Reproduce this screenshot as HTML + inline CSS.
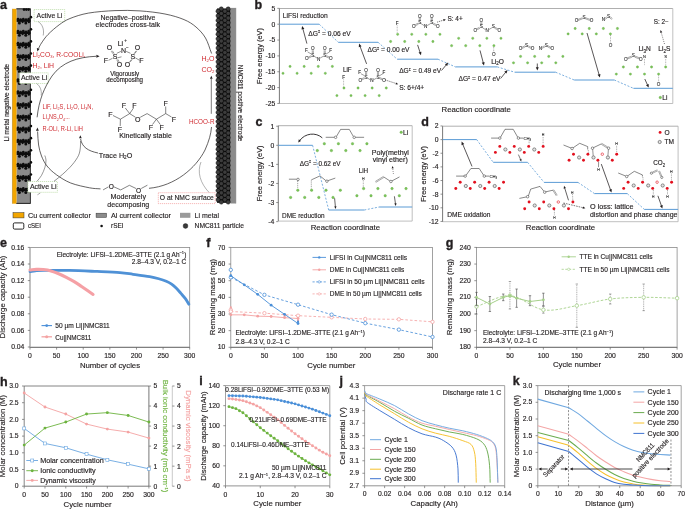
<!DOCTYPE html>
<html><head><meta charset="utf-8"><style>
html,body{margin:0;padding:0;background:#fff;}
svg{display:block;will-change:transform;}
text{font-family:"Liberation Sans", sans-serif;}
</style></head><body>
<svg width="685" height="509" viewBox="0 0 685 509">
<rect width="685" height="509" fill="#fff"/>
<rect x="30.00" y="247.40" width="159.70" height="99.90" fill="none" stroke="#8a8a8a" stroke-width="0.8"/>
<line x1="30.00" y1="347.30" x2="189.70" y2="347.30" stroke="#666" stroke-width="0.8"/>
<line x1="30.00" y1="247.40" x2="30.00" y2="347.30" stroke="#b5b5b5" stroke-width="1.1"/>
<line x1="27.80" y1="247.40" x2="30.00" y2="247.40" stroke="#666" stroke-width="0.7"/>
<text x="24.40" y="249.50" font-size="6.8" text-anchor="end" fill="#231f20" stroke="#231f20" stroke-width="0.15">0.16</text>
<line x1="27.80" y1="264.00" x2="30.00" y2="264.00" stroke="#666" stroke-width="0.7"/>
<text x="24.40" y="266.10" font-size="6.8" text-anchor="end" fill="#231f20" stroke="#231f20" stroke-width="0.15">0.14</text>
<line x1="27.80" y1="280.60" x2="30.00" y2="280.60" stroke="#666" stroke-width="0.7"/>
<text x="24.40" y="282.70" font-size="6.8" text-anchor="end" fill="#231f20" stroke="#231f20" stroke-width="0.15">0.12</text>
<line x1="27.80" y1="297.20" x2="30.00" y2="297.20" stroke="#666" stroke-width="0.7"/>
<text x="24.40" y="299.30" font-size="6.8" text-anchor="end" fill="#231f20" stroke="#231f20" stroke-width="0.15">0.10</text>
<line x1="27.80" y1="313.80" x2="30.00" y2="313.80" stroke="#666" stroke-width="0.7"/>
<text x="24.40" y="315.90" font-size="6.8" text-anchor="end" fill="#231f20" stroke="#231f20" stroke-width="0.15">0.08</text>
<line x1="27.80" y1="330.40" x2="30.00" y2="330.40" stroke="#666" stroke-width="0.7"/>
<text x="24.40" y="332.50" font-size="6.8" text-anchor="end" fill="#231f20" stroke="#231f20" stroke-width="0.15">0.06</text>
<line x1="27.80" y1="347.00" x2="30.00" y2="347.00" stroke="#666" stroke-width="0.7"/>
<text x="24.40" y="349.10" font-size="6.8" text-anchor="end" fill="#231f20" stroke="#231f20" stroke-width="0.15">0.04</text>
<line x1="30.00" y1="347.30" x2="30.00" y2="349.60" stroke="#666" stroke-width="0.7"/>
<text x="30.00" y="357.90" font-size="6.8" text-anchor="middle" fill="#231f20" stroke="#231f20" stroke-width="0.15">0</text>
<line x1="56.62" y1="347.30" x2="56.62" y2="349.60" stroke="#666" stroke-width="0.7"/>
<text x="56.62" y="357.90" font-size="6.8" text-anchor="middle" fill="#231f20" stroke="#231f20" stroke-width="0.15">50</text>
<line x1="83.23" y1="347.30" x2="83.23" y2="349.60" stroke="#666" stroke-width="0.7"/>
<text x="83.23" y="357.90" font-size="6.8" text-anchor="middle" fill="#231f20" stroke="#231f20" stroke-width="0.15">100</text>
<line x1="109.85" y1="347.30" x2="109.85" y2="349.60" stroke="#666" stroke-width="0.7"/>
<text x="109.85" y="357.90" font-size="6.8" text-anchor="middle" fill="#231f20" stroke="#231f20" stroke-width="0.15">150</text>
<line x1="136.47" y1="347.30" x2="136.47" y2="349.60" stroke="#666" stroke-width="0.7"/>
<text x="136.47" y="357.90" font-size="6.8" text-anchor="middle" fill="#231f20" stroke="#231f20" stroke-width="0.15">200</text>
<line x1="163.08" y1="347.30" x2="163.08" y2="349.60" stroke="#666" stroke-width="0.7"/>
<text x="163.08" y="357.90" font-size="6.8" text-anchor="middle" fill="#231f20" stroke="#231f20" stroke-width="0.15">250</text>
<line x1="189.70" y1="347.30" x2="189.70" y2="349.60" stroke="#666" stroke-width="0.7"/>
<text x="189.70" y="357.90" font-size="6.8" text-anchor="middle" fill="#231f20" stroke="#231f20" stroke-width="0.15">300</text>
<text x="0.00" y="247.40" font-size="12.5" fill="#231f20" font-weight="bold" stroke="#231f20" stroke-width="0.35">e</text>
<text x="5.30" y="297.00" font-size="7.8" text-anchor="middle" fill="#231f20" stroke="#231f20" stroke-width="0.15" transform="rotate(-90 5.30 297.00)">Discharge capacity (Ah)</text>
<text x="110.00" y="368.20" font-size="7.8" text-anchor="middle" fill="#231f20" stroke="#231f20" stroke-width="0.15">Number of cycles</text>
<path d="M30.00,271.55 C31.77,271.30 33.11,271.00 35.32,270.81 C37.54,270.61 37.63,270.46 43.31,270.39 C48.99,270.32 60.43,270.21 69.39,270.39 C78.35,270.57 88.65,271.10 97.07,271.47 C105.50,271.84 113.98,272.16 119.96,272.63 C125.95,273.10 128.06,273.61 133.01,274.29 C137.95,274.97 145.31,275.95 149.62,276.70 C153.92,277.45 156.05,278.01 158.82,278.77 C161.60,279.53 164.15,280.38 166.28,281.26 C168.41,282.15 169.91,282.92 171.60,284.09 C173.29,285.25 174.84,286.69 176.39,288.24 C177.94,289.79 179.45,291.68 180.92,293.38 C182.38,295.08 183.84,296.65 185.18,298.44 C186.51,300.24 187.66,302.26 188.90,304.17" stroke="#4f91d6" stroke-width="2.8" fill="none" stroke-linecap="round"/>
<path d="M30.00,269.98 C32.13,269.78 34.17,269.46 36.39,269.39 C38.61,269.33 40.87,269.31 43.31,269.56 C45.75,269.81 48.37,270.16 51.03,270.89 C53.69,271.62 56.73,272.89 59.28,273.96 C61.82,275.03 63.82,276.01 66.31,277.28 C68.79,278.55 71.64,280.06 74.18,281.60 C76.73,283.13 79.37,285.00 81.58,286.49 C83.80,287.99 85.58,289.23 87.49,290.56 C89.41,291.89 91.22,293.16 93.08,294.46" stroke="#f5a0a5" stroke-width="3.1" fill="none" stroke-linecap="round"/>
<line x1="41.50" y1="325.60" x2="52.00" y2="325.60" stroke="#4a8fd8" stroke-width="1.1"/>
<circle cx="46.70" cy="325.60" r="1.4" fill="#4a8fd8"/>
<text x="55.30" y="327.90" font-size="7.0" fill="#231f20" stroke="#231f20" stroke-width="0.15" textLength="54.50" lengthAdjust="spacingAndGlyphs">50 µm Li||NMC811</text>
<line x1="41.50" y1="336.80" x2="52.00" y2="336.80" stroke="#f4a3a3" stroke-width="1.3"/>
<circle cx="46.70" cy="336.80" r="1.5" fill="#f4a3a3"/>
<text x="55.30" y="339.50" font-size="7.0" fill="#231f20" stroke="#231f20" stroke-width="0.15" textLength="36.00" lengthAdjust="spacingAndGlyphs">Cu||NMC811</text>
<text x="186.30" y="256.60" font-size="7.0" text-anchor="end" fill="#231f20" stroke="#231f20" stroke-width="0.15" textLength="129.60" lengthAdjust="spacingAndGlyphs">Electrolyte: LiFSI–1.2DME–3TTE (2.1 g Ah<tspan dy="-2.3" font-size="4.4">−1</tspan><tspan dy="2.3">)</tspan></text>
<text x="186.30" y="264.20" font-size="7.0" text-anchor="end" fill="#231f20" stroke="#231f20" stroke-width="0.15" textLength="54.50" lengthAdjust="spacingAndGlyphs">2.8–4.3 V, 0.2–1 C</text>
<rect x="230.80" y="247.40" width="201.70" height="99.90" fill="none" stroke="#8a8a8a" stroke-width="0.8"/>
<line x1="230.80" y1="347.30" x2="432.50" y2="347.30" stroke="#666" stroke-width="0.8"/>
<line x1="228.60" y1="247.40" x2="230.80" y2="247.40" stroke="#666" stroke-width="0.7"/>
<text x="225.20" y="249.50" font-size="6.8" text-anchor="end" fill="#231f20" stroke="#231f20" stroke-width="0.15">70</text>
<line x1="228.60" y1="264.05" x2="230.80" y2="264.05" stroke="#666" stroke-width="0.7"/>
<text x="225.20" y="266.15" font-size="6.8" text-anchor="end" fill="#231f20" stroke="#231f20" stroke-width="0.15">60</text>
<line x1="228.60" y1="280.70" x2="230.80" y2="280.70" stroke="#666" stroke-width="0.7"/>
<text x="225.20" y="282.80" font-size="6.8" text-anchor="end" fill="#231f20" stroke="#231f20" stroke-width="0.15">50</text>
<line x1="228.60" y1="297.35" x2="230.80" y2="297.35" stroke="#666" stroke-width="0.7"/>
<text x="225.20" y="299.45" font-size="6.8" text-anchor="end" fill="#231f20" stroke="#231f20" stroke-width="0.15">40</text>
<line x1="228.60" y1="314.00" x2="230.80" y2="314.00" stroke="#666" stroke-width="0.7"/>
<text x="225.20" y="316.10" font-size="6.8" text-anchor="end" fill="#231f20" stroke="#231f20" stroke-width="0.15">30</text>
<line x1="228.60" y1="330.65" x2="230.80" y2="330.65" stroke="#666" stroke-width="0.7"/>
<text x="225.20" y="332.75" font-size="6.8" text-anchor="end" fill="#231f20" stroke="#231f20" stroke-width="0.15">20</text>
<line x1="228.60" y1="347.30" x2="230.80" y2="347.30" stroke="#666" stroke-width="0.7"/>
<text x="225.20" y="349.40" font-size="6.8" text-anchor="end" fill="#231f20" stroke="#231f20" stroke-width="0.15">10</text>
<line x1="230.80" y1="347.30" x2="230.80" y2="349.60" stroke="#666" stroke-width="0.7"/>
<text x="230.80" y="357.90" font-size="6.8" text-anchor="middle" fill="#231f20" stroke="#231f20" stroke-width="0.15">0</text>
<line x1="264.42" y1="347.30" x2="264.42" y2="349.60" stroke="#666" stroke-width="0.7"/>
<text x="264.42" y="357.90" font-size="6.8" text-anchor="middle" fill="#231f20" stroke="#231f20" stroke-width="0.15">50</text>
<line x1="298.03" y1="347.30" x2="298.03" y2="349.60" stroke="#666" stroke-width="0.7"/>
<text x="298.03" y="357.90" font-size="6.8" text-anchor="middle" fill="#231f20" stroke="#231f20" stroke-width="0.15">100</text>
<line x1="331.65" y1="347.30" x2="331.65" y2="349.60" stroke="#666" stroke-width="0.7"/>
<text x="331.65" y="357.90" font-size="6.8" text-anchor="middle" fill="#231f20" stroke="#231f20" stroke-width="0.15">150</text>
<line x1="365.27" y1="347.30" x2="365.27" y2="349.60" stroke="#666" stroke-width="0.7"/>
<text x="365.27" y="357.90" font-size="6.8" text-anchor="middle" fill="#231f20" stroke="#231f20" stroke-width="0.15">200</text>
<line x1="398.88" y1="347.30" x2="398.88" y2="349.60" stroke="#666" stroke-width="0.7"/>
<text x="398.88" y="357.90" font-size="6.8" text-anchor="middle" fill="#231f20" stroke="#231f20" stroke-width="0.15">250</text>
<line x1="432.50" y1="347.30" x2="432.50" y2="349.60" stroke="#666" stroke-width="0.7"/>
<text x="432.50" y="357.90" font-size="6.8" text-anchor="middle" fill="#231f20" stroke="#231f20" stroke-width="0.15">300</text>
<text x="206.30" y="247.30" font-size="12.5" fill="#231f20" font-weight="bold" stroke="#231f20" stroke-width="0.35">f</text>
<text x="214.50" y="297.00" font-size="7.8" text-anchor="middle" fill="#231f20" stroke="#231f20" stroke-width="0.15" transform="rotate(-90 214.50 297.00)">Remaining mass (mg)</text>
<text x="331.40" y="367.70" font-size="7.8" text-anchor="middle" fill="#231f20" stroke="#231f20" stroke-width="0.15">Cycle number</text>
<path d="M230.80,311.50 L264.42,313.17 L298.03,315.67 L331.65,317.33 L365.27,319.00 L398.88,319.33 L432.50,321.83" stroke="#f4a3a3" stroke-width="0.85" fill="none" stroke-dasharray="2.6,2"/>
<circle cx="230.80" cy="309.84" r="1.7" fill="#fff" stroke="#f4a3a3" stroke-width="0.8"/>
<circle cx="230.80" cy="311.50" r="1.7" fill="#fff" stroke="#f4a3a3" stroke-width="0.8"/>
<circle cx="264.42" cy="313.17" r="1.7" fill="#fff" stroke="#f4a3a3" stroke-width="0.8"/>
<circle cx="298.03" cy="315.67" r="1.7" fill="#fff" stroke="#f4a3a3" stroke-width="0.8"/>
<circle cx="331.65" cy="317.33" r="1.7" fill="#fff" stroke="#f4a3a3" stroke-width="0.8"/>
<circle cx="365.27" cy="319.00" r="1.7" fill="#fff" stroke="#f4a3a3" stroke-width="0.8"/>
<circle cx="398.88" cy="319.33" r="1.7" fill="#fff" stroke="#f4a3a3" stroke-width="0.8"/>
<circle cx="432.50" cy="321.83" r="1.7" fill="#fff" stroke="#f4a3a3" stroke-width="0.8"/>
<path d="M230.80,314.83 L244.25,314.83 L257.69,316.16 L271.14,316.50 L284.59,317.66 L298.03,318.50" stroke="#f4a3a3" stroke-width="0.9" fill="none"/>
<circle cx="230.80" cy="314.83" r="1.4" fill="#f4a3a3"/>
<circle cx="244.25" cy="314.83" r="1.4" fill="#f4a3a3"/>
<circle cx="257.69" cy="316.16" r="1.4" fill="#f4a3a3"/>
<circle cx="271.14" cy="316.50" r="1.4" fill="#f4a3a3"/>
<circle cx="284.59" cy="317.66" r="1.4" fill="#f4a3a3"/>
<circle cx="298.03" cy="318.50" r="1.4" fill="#f4a3a3"/>
<circle cx="230.80" cy="307.34" r="1.1" fill="#f4a3a3"/>
<circle cx="284.59" cy="316.00" r="1.1" fill="#f4a3a3"/>
<circle cx="298.03" cy="320.33" r="1.1" fill="#f4a3a3"/>
<path d="M230.80,277.37 L264.42,294.85 L298.03,304.68 L331.65,314.67 L365.27,323.16 L398.88,329.65 L432.50,336.98" stroke="#4a8fd8" stroke-width="0.85" fill="none" stroke-dasharray="2.6,2"/>
<circle cx="230.80" cy="277.37" r="1.7" fill="#fff" stroke="#4a8fd8" stroke-width="0.8"/>
<circle cx="264.42" cy="294.85" r="1.7" fill="#fff" stroke="#4a8fd8" stroke-width="0.8"/>
<circle cx="298.03" cy="304.68" r="1.7" fill="#fff" stroke="#4a8fd8" stroke-width="0.8"/>
<circle cx="331.65" cy="314.67" r="1.7" fill="#fff" stroke="#4a8fd8" stroke-width="0.8"/>
<circle cx="365.27" cy="323.16" r="1.7" fill="#fff" stroke="#4a8fd8" stroke-width="0.8"/>
<circle cx="398.88" cy="329.65" r="1.7" fill="#fff" stroke="#4a8fd8" stroke-width="0.8"/>
<circle cx="432.50" cy="336.98" r="1.7" fill="#fff" stroke="#4a8fd8" stroke-width="0.8"/>
<circle cx="230.80" cy="269.88" r="1.7" fill="#fff" stroke="#4a8fd8" stroke-width="0.8"/>
<path d="M230.80,275.70 L244.25,284.86 L257.69,294.35 L271.14,305.18 L284.59,314.33 L298.03,323.49" stroke="#4a8fd8" stroke-width="0.9" fill="none"/>
<circle cx="230.80" cy="275.70" r="1.4" fill="#4a8fd8"/>
<circle cx="244.25" cy="284.86" r="1.4" fill="#4a8fd8"/>
<circle cx="257.69" cy="294.35" r="1.4" fill="#4a8fd8"/>
<circle cx="271.14" cy="305.18" r="1.4" fill="#4a8fd8"/>
<circle cx="284.59" cy="314.33" r="1.4" fill="#4a8fd8"/>
<circle cx="298.03" cy="323.49" r="1.4" fill="#4a8fd8"/>
<circle cx="298.03" cy="321.49" r="1.1" fill="#4a8fd8"/>
<line x1="312.50" y1="257.40" x2="326.00" y2="257.40" stroke="#4a8fd8" stroke-width="0.9"/>
<circle cx="319.25" cy="257.40" r="1.2" fill="#4a8fd8"/>
<text x="329.80" y="259.70" font-size="7.0" fill="#231f20" stroke="#231f20" stroke-width="0.15" textLength="77.20" lengthAdjust="spacingAndGlyphs">LiFSI in Cu||NMC811 cells</text>
<line x1="312.50" y1="269.80" x2="326.00" y2="269.80" stroke="#f4a3a3" stroke-width="0.9"/>
<circle cx="319.25" cy="269.80" r="1.2" fill="#f4a3a3"/>
<text x="329.80" y="272.10" font-size="7.0" fill="#231f20" stroke="#231f20" stroke-width="0.15" textLength="74.50" lengthAdjust="spacingAndGlyphs">DME in Cu||NMC811 cells</text>
<line x1="312.50" y1="281.90" x2="326.00" y2="281.90" stroke="#4a8fd8" stroke-width="0.8" stroke-dasharray="2.2,1.5"/>
<circle cx="319.25" cy="281.90" r="1.2" fill="#fff" stroke="#4a8fd8" stroke-width="0.6"/>
<text x="329.80" y="284.20" font-size="7.0" fill="#231f20" stroke="#231f20" stroke-width="0.15" textLength="94.70" lengthAdjust="spacingAndGlyphs">LiFSI in 50 µm Li||NMC811 cells</text>
<line x1="312.50" y1="293.90" x2="326.00" y2="293.90" stroke="#f4a3a3" stroke-width="0.8" stroke-dasharray="2.2,1.5"/>
<circle cx="319.25" cy="293.90" r="1.2" fill="#fff" stroke="#f4a3a3" stroke-width="0.6"/>
<text x="329.80" y="296.20" font-size="7.0" fill="#231f20" stroke="#231f20" stroke-width="0.15" textLength="92.00" lengthAdjust="spacingAndGlyphs">DME in 50 µm Li||NMC811 cells</text>
<text x="235.40" y="335.10" font-size="7.0" fill="#231f20" stroke="#231f20" stroke-width="0.15" textLength="129.60" lengthAdjust="spacingAndGlyphs">Electrolyte: LiFSI–1.2DME–3TTE (2.1 g Ah<tspan dy="-2.3" font-size="4.4">−1</tspan><tspan dy="2.3">)</tspan></text>
<text x="235.40" y="343.50" font-size="7.0" fill="#231f20" stroke="#231f20" stroke-width="0.15" textLength="54.50" lengthAdjust="spacingAndGlyphs">2.8–4.3 V, 0.2–1 C</text>
<rect x="476.50" y="247.40" width="200.60" height="99.90" fill="none" stroke="#8a8a8a" stroke-width="0.8"/>
<line x1="476.50" y1="347.30" x2="677.10" y2="347.30" stroke="#666" stroke-width="0.8"/>
<line x1="474.30" y1="247.40" x2="476.50" y2="247.40" stroke="#666" stroke-width="0.7"/>
<text x="470.90" y="249.50" font-size="6.8" text-anchor="end" fill="#231f20" stroke="#231f20" stroke-width="0.15">240</text>
<line x1="474.30" y1="264.05" x2="476.50" y2="264.05" stroke="#666" stroke-width="0.7"/>
<text x="470.90" y="266.15" font-size="6.8" text-anchor="end" fill="#231f20" stroke="#231f20" stroke-width="0.15">230</text>
<line x1="474.30" y1="280.70" x2="476.50" y2="280.70" stroke="#666" stroke-width="0.7"/>
<text x="470.90" y="282.80" font-size="6.8" text-anchor="end" fill="#231f20" stroke="#231f20" stroke-width="0.15">220</text>
<line x1="474.30" y1="297.35" x2="476.50" y2="297.35" stroke="#666" stroke-width="0.7"/>
<text x="470.90" y="299.45" font-size="6.8" text-anchor="end" fill="#231f20" stroke="#231f20" stroke-width="0.15">210</text>
<line x1="474.30" y1="314.00" x2="476.50" y2="314.00" stroke="#666" stroke-width="0.7"/>
<text x="470.90" y="316.10" font-size="6.8" text-anchor="end" fill="#231f20" stroke="#231f20" stroke-width="0.15">200</text>
<line x1="474.30" y1="330.65" x2="476.50" y2="330.65" stroke="#666" stroke-width="0.7"/>
<text x="470.90" y="332.75" font-size="6.8" text-anchor="end" fill="#231f20" stroke="#231f20" stroke-width="0.15">190</text>
<line x1="474.30" y1="347.30" x2="476.50" y2="347.30" stroke="#666" stroke-width="0.7"/>
<text x="470.90" y="349.40" font-size="6.8" text-anchor="end" fill="#231f20" stroke="#231f20" stroke-width="0.15">180</text>
<line x1="476.50" y1="347.30" x2="476.50" y2="349.60" stroke="#666" stroke-width="0.7"/>
<text x="476.50" y="357.90" font-size="6.8" text-anchor="middle" fill="#231f20" stroke="#231f20" stroke-width="0.15">0</text>
<line x1="509.93" y1="347.30" x2="509.93" y2="349.60" stroke="#666" stroke-width="0.7"/>
<text x="509.93" y="357.90" font-size="6.8" text-anchor="middle" fill="#231f20" stroke="#231f20" stroke-width="0.15">50</text>
<line x1="543.37" y1="347.30" x2="543.37" y2="349.60" stroke="#666" stroke-width="0.7"/>
<text x="543.37" y="357.90" font-size="6.8" text-anchor="middle" fill="#231f20" stroke="#231f20" stroke-width="0.15">100</text>
<line x1="576.80" y1="347.30" x2="576.80" y2="349.60" stroke="#666" stroke-width="0.7"/>
<text x="576.80" y="357.90" font-size="6.8" text-anchor="middle" fill="#231f20" stroke="#231f20" stroke-width="0.15">150</text>
<line x1="610.23" y1="347.30" x2="610.23" y2="349.60" stroke="#666" stroke-width="0.7"/>
<text x="610.23" y="357.90" font-size="6.8" text-anchor="middle" fill="#231f20" stroke="#231f20" stroke-width="0.15">200</text>
<line x1="643.67" y1="347.30" x2="643.67" y2="349.60" stroke="#666" stroke-width="0.7"/>
<text x="643.67" y="357.90" font-size="6.8" text-anchor="middle" fill="#231f20" stroke="#231f20" stroke-width="0.15">250</text>
<line x1="677.10" y1="347.30" x2="677.10" y2="349.60" stroke="#666" stroke-width="0.7"/>
<text x="677.10" y="357.90" font-size="6.8" text-anchor="middle" fill="#231f20" stroke="#231f20" stroke-width="0.15">300</text>
<text x="445.80" y="246.80" font-size="12.5" fill="#231f20" font-weight="bold" stroke="#231f20" stroke-width="0.35">g</text>
<text x="451.50" y="297.00" font-size="7.8" text-anchor="middle" fill="#231f20" stroke="#231f20" stroke-width="0.15" transform="rotate(-90 451.50 297.00)">Remaining mass (mg)</text>
<text x="577.00" y="367.30" font-size="7.8" text-anchor="middle" fill="#231f20" stroke="#231f20" stroke-width="0.15">Cycle number</text>
<line x1="476.50" y1="314.00" x2="476.50" y2="299.01" stroke="#555" stroke-width="0.5" stroke-dasharray="1,0.8"/>
<line x1="475.30" y1="314.00" x2="477.70" y2="314.00" stroke="#555" stroke-width="0.5"/>
<line x1="475.30" y1="299.01" x2="477.70" y2="299.01" stroke="#555" stroke-width="0.5"/>
<line x1="509.93" y1="309.00" x2="509.93" y2="281.53" stroke="#555" stroke-width="0.5" stroke-dasharray="1,0.8"/>
<line x1="508.73" y1="309.00" x2="511.13" y2="309.00" stroke="#555" stroke-width="0.5"/>
<line x1="508.73" y1="281.53" x2="511.13" y2="281.53" stroke="#555" stroke-width="0.5"/>
<line x1="543.37" y1="313.17" x2="543.37" y2="306.51" stroke="#555" stroke-width="0.5" stroke-dasharray="1,0.8"/>
<line x1="542.17" y1="313.17" x2="544.57" y2="313.17" stroke="#555" stroke-width="0.5"/>
<line x1="542.17" y1="306.51" x2="544.57" y2="306.51" stroke="#555" stroke-width="0.5"/>
<line x1="576.80" y1="327.32" x2="576.80" y2="284.03" stroke="#555" stroke-width="0.5" stroke-dasharray="1,0.8"/>
<line x1="575.60" y1="327.32" x2="578.00" y2="327.32" stroke="#555" stroke-width="0.5"/>
<line x1="575.60" y1="284.03" x2="578.00" y2="284.03" stroke="#555" stroke-width="0.5"/>
<line x1="610.23" y1="304.01" x2="610.23" y2="294.02" stroke="#555" stroke-width="0.5" stroke-dasharray="1,0.8"/>
<line x1="609.03" y1="304.01" x2="611.43" y2="304.01" stroke="#555" stroke-width="0.5"/>
<line x1="609.03" y1="294.02" x2="611.43" y2="294.02" stroke="#555" stroke-width="0.5"/>
<line x1="643.67" y1="310.67" x2="643.67" y2="284.03" stroke="#555" stroke-width="0.5" stroke-dasharray="1,0.8"/>
<line x1="642.47" y1="310.67" x2="644.87" y2="310.67" stroke="#555" stroke-width="0.5"/>
<line x1="642.47" y1="284.03" x2="644.87" y2="284.03" stroke="#555" stroke-width="0.5"/>
<path d="M476.50,306.51 C487.64,302.90 498.79,295.13 509.93,295.69 C521.08,296.24 532.22,308.17 543.37,309.84 C554.51,311.50 565.66,307.48 576.80,305.68 C587.94,303.87 599.09,300.40 610.23,299.01 C621.38,297.63 632.52,297.49 643.67,297.35 C654.81,297.21 665.96,297.91 677.10,298.18" stroke="#a6d08a" stroke-width="0.9" fill="none" stroke-dasharray="2.6,1.6"/>
<circle cx="476.50" cy="306.51" r="1.75" fill="#fff" stroke="#a6d08a" stroke-width="0.8"/>
<circle cx="509.93" cy="295.69" r="1.75" fill="#fff" stroke="#a6d08a" stroke-width="0.8"/>
<circle cx="543.37" cy="309.84" r="1.75" fill="#fff" stroke="#a6d08a" stroke-width="0.8"/>
<circle cx="576.80" cy="305.68" r="1.75" fill="#fff" stroke="#a6d08a" stroke-width="0.8"/>
<circle cx="610.23" cy="299.01" r="1.75" fill="#fff" stroke="#a6d08a" stroke-width="0.8"/>
<circle cx="643.67" cy="297.35" r="1.75" fill="#fff" stroke="#a6d08a" stroke-width="0.8"/>
<circle cx="677.10" cy="298.18" r="1.75" fill="#fff" stroke="#a6d08a" stroke-width="0.8"/>
<line x1="476.50" y1="305.68" x2="476.50" y2="292.36" stroke="#444" stroke-width="0.6"/>
<line x1="475.30" y1="305.68" x2="477.70" y2="305.68" stroke="#444" stroke-width="0.6"/>
<line x1="475.30" y1="292.36" x2="477.70" y2="292.36" stroke="#444" stroke-width="0.6"/>
<line x1="489.87" y1="311.50" x2="489.87" y2="296.52" stroke="#444" stroke-width="0.6"/>
<line x1="488.67" y1="311.50" x2="491.07" y2="311.50" stroke="#444" stroke-width="0.6"/>
<line x1="488.67" y1="296.52" x2="491.07" y2="296.52" stroke="#444" stroke-width="0.6"/>
<line x1="503.25" y1="300.68" x2="503.25" y2="294.02" stroke="#444" stroke-width="0.6"/>
<line x1="502.05" y1="300.68" x2="504.45" y2="300.68" stroke="#444" stroke-width="0.6"/>
<line x1="502.05" y1="294.02" x2="504.45" y2="294.02" stroke="#444" stroke-width="0.6"/>
<line x1="516.62" y1="307.34" x2="516.62" y2="289.02" stroke="#444" stroke-width="0.6"/>
<line x1="515.42" y1="307.34" x2="517.82" y2="307.34" stroke="#444" stroke-width="0.6"/>
<line x1="515.42" y1="289.02" x2="517.82" y2="289.02" stroke="#444" stroke-width="0.6"/>
<line x1="529.99" y1="305.68" x2="529.99" y2="295.69" stroke="#444" stroke-width="0.6"/>
<line x1="528.79" y1="305.68" x2="531.19" y2="305.68" stroke="#444" stroke-width="0.6"/>
<line x1="528.79" y1="295.69" x2="531.19" y2="295.69" stroke="#444" stroke-width="0.6"/>
<line x1="543.37" y1="305.68" x2="543.37" y2="293.19" stroke="#444" stroke-width="0.6"/>
<line x1="542.17" y1="305.68" x2="544.57" y2="305.68" stroke="#444" stroke-width="0.6"/>
<line x1="542.17" y1="293.19" x2="544.57" y2="293.19" stroke="#444" stroke-width="0.6"/>
<path d="M476.50,297.35 L489.87,304.01 L503.25,297.35 L509.93,295.69 L516.62,298.18 L529.99,301.51 L543.37,299.85" stroke="#a6d08a" stroke-width="1.0" fill="none"/>
<circle cx="476.50" cy="297.35" r="1.4" fill="#a6d08a"/>
<circle cx="489.87" cy="304.01" r="1.4" fill="#a6d08a"/>
<circle cx="503.25" cy="297.35" r="1.4" fill="#a6d08a"/>
<circle cx="509.93" cy="295.69" r="1.4" fill="#a6d08a"/>
<circle cx="516.62" cy="298.18" r="1.4" fill="#a6d08a"/>
<circle cx="529.99" cy="301.51" r="1.4" fill="#a6d08a"/>
<circle cx="543.37" cy="299.85" r="1.4" fill="#a6d08a"/>
<line x1="561.60" y1="256.80" x2="575.90" y2="256.80" stroke="#a6d08a" stroke-width="0.9"/>
<circle cx="568.70" cy="256.80" r="1.2" fill="#a6d08a"/>
<text x="579.50" y="259.10" font-size="7.0" fill="#231f20" stroke="#231f20" stroke-width="0.15" textLength="73.00" lengthAdjust="spacingAndGlyphs">TTE in Cu||NMC811 cells</text>
<line x1="561.60" y1="269.30" x2="575.90" y2="269.30" stroke="#a6d08a" stroke-width="0.8" stroke-dasharray="2.2,1.5"/>
<circle cx="568.70" cy="269.30" r="1.2" fill="#fff" stroke="#a6d08a" stroke-width="0.6"/>
<text x="579.50" y="271.60" font-size="7.0" fill="#231f20" stroke="#231f20" stroke-width="0.15" textLength="90.00" lengthAdjust="spacingAndGlyphs">TTE in 50 µm Li||NMC811 cells</text>
<text x="482.90" y="335.20" font-size="7.0" fill="#231f20" stroke="#231f20" stroke-width="0.15" textLength="130.50" lengthAdjust="spacingAndGlyphs">Electrolyte: LiFSI–1.2DME–3TTE (2.1 g Ah<tspan dy="-2.3" font-size="4.4">−1</tspan><tspan dy="2.3">)</tspan></text>
<text x="482.90" y="343.30" font-size="7.0" fill="#231f20" stroke="#231f20" stroke-width="0.15" textLength="54.50" lengthAdjust="spacingAndGlyphs">2.8–4.3 V, 0.2–1 C</text>
<line x1="24.20" y1="386.00" x2="148.90" y2="386.00" stroke="#666" stroke-width="0.8"/>
<line x1="24.20" y1="386.00" x2="24.20" y2="486.20" stroke="#666" stroke-width="0.8"/>
<line x1="24.20" y1="486.20" x2="148.90" y2="486.20" stroke="#555" stroke-width="0.8"/>
<line x1="148.90" y1="386.00" x2="148.90" y2="486.20" stroke="#555" stroke-width="0.8"/>
<line x1="172.30" y1="386.00" x2="172.30" y2="486.20" stroke="#bbb" stroke-width="0.8"/>
<line x1="22.00" y1="386.00" x2="24.20" y2="386.00" stroke="#666" stroke-width="0.7"/>
<text x="18.60" y="388.10" font-size="6.8" text-anchor="end" fill="#231f20" stroke="#231f20" stroke-width="0.15">3.0</text>
<line x1="22.00" y1="402.70" x2="24.20" y2="402.70" stroke="#666" stroke-width="0.7"/>
<text x="18.60" y="404.80" font-size="6.8" text-anchor="end" fill="#231f20" stroke="#231f20" stroke-width="0.15">2.5</text>
<line x1="22.00" y1="419.40" x2="24.20" y2="419.40" stroke="#666" stroke-width="0.7"/>
<text x="18.60" y="421.50" font-size="6.8" text-anchor="end" fill="#231f20" stroke="#231f20" stroke-width="0.15">2.0</text>
<line x1="22.00" y1="436.10" x2="24.20" y2="436.10" stroke="#666" stroke-width="0.7"/>
<text x="18.60" y="438.20" font-size="6.8" text-anchor="end" fill="#231f20" stroke="#231f20" stroke-width="0.15">1.5</text>
<line x1="22.00" y1="452.80" x2="24.20" y2="452.80" stroke="#666" stroke-width="0.7"/>
<text x="18.60" y="454.90" font-size="6.8" text-anchor="end" fill="#231f20" stroke="#231f20" stroke-width="0.15">1.0</text>
<line x1="22.00" y1="469.50" x2="24.20" y2="469.50" stroke="#666" stroke-width="0.7"/>
<text x="18.60" y="471.60" font-size="6.8" text-anchor="end" fill="#231f20" stroke="#231f20" stroke-width="0.15">0.5</text>
<line x1="22.00" y1="486.20" x2="24.20" y2="486.20" stroke="#666" stroke-width="0.7"/>
<text x="18.60" y="488.30" font-size="6.8" text-anchor="end" fill="#231f20" stroke="#231f20" stroke-width="0.15">0</text>
<line x1="148.90" y1="386.00" x2="151.10" y2="386.00" stroke="#666" stroke-width="0.7"/>
<text x="153.50" y="388.45" font-size="6.8" fill="#231f20" stroke="#231f20" stroke-width="0.15">5</text>
<line x1="148.90" y1="406.04" x2="151.10" y2="406.04" stroke="#666" stroke-width="0.7"/>
<text x="153.50" y="408.49" font-size="6.8" fill="#231f20" stroke="#231f20" stroke-width="0.15">4</text>
<line x1="148.90" y1="426.08" x2="151.10" y2="426.08" stroke="#666" stroke-width="0.7"/>
<text x="153.50" y="428.53" font-size="6.8" fill="#231f20" stroke="#231f20" stroke-width="0.15">3</text>
<line x1="148.90" y1="446.12" x2="151.10" y2="446.12" stroke="#666" stroke-width="0.7"/>
<text x="153.50" y="448.57" font-size="6.8" fill="#231f20" stroke="#231f20" stroke-width="0.15">2</text>
<line x1="148.90" y1="466.16" x2="151.10" y2="466.16" stroke="#666" stroke-width="0.7"/>
<text x="153.50" y="468.61" font-size="6.8" fill="#231f20" stroke="#231f20" stroke-width="0.15">1</text>
<line x1="148.90" y1="486.20" x2="151.10" y2="486.20" stroke="#666" stroke-width="0.7"/>
<text x="153.50" y="488.65" font-size="6.8" fill="#231f20" stroke="#231f20" stroke-width="0.15">0</text>
<line x1="172.30" y1="386.00" x2="174.50" y2="386.00" stroke="#666" stroke-width="0.7"/>
<text x="176.90" y="388.45" font-size="6.8" fill="#231f20" stroke="#231f20" stroke-width="0.15">5</text>
<line x1="172.30" y1="406.04" x2="174.50" y2="406.04" stroke="#666" stroke-width="0.7"/>
<text x="176.90" y="408.49" font-size="6.8" fill="#231f20" stroke="#231f20" stroke-width="0.15">4</text>
<line x1="172.30" y1="426.08" x2="174.50" y2="426.08" stroke="#666" stroke-width="0.7"/>
<text x="176.90" y="428.53" font-size="6.8" fill="#231f20" stroke="#231f20" stroke-width="0.15">3</text>
<line x1="172.30" y1="446.12" x2="174.50" y2="446.12" stroke="#666" stroke-width="0.7"/>
<text x="176.90" y="448.57" font-size="6.8" fill="#231f20" stroke="#231f20" stroke-width="0.15">2</text>
<line x1="172.30" y1="466.16" x2="174.50" y2="466.16" stroke="#666" stroke-width="0.7"/>
<text x="176.90" y="468.61" font-size="6.8" fill="#231f20" stroke="#231f20" stroke-width="0.15">1</text>
<line x1="172.30" y1="486.20" x2="174.50" y2="486.20" stroke="#666" stroke-width="0.7"/>
<text x="176.90" y="488.65" font-size="6.8" fill="#231f20" stroke="#231f20" stroke-width="0.15">0</text>
<line x1="24.20" y1="486.20" x2="24.20" y2="488.50" stroke="#666" stroke-width="0.7"/>
<text x="24.20" y="496.80" font-size="6.8" text-anchor="middle" fill="#231f20" stroke="#231f20" stroke-width="0.15">0</text>
<line x1="44.98" y1="486.20" x2="44.98" y2="488.50" stroke="#666" stroke-width="0.7"/>
<text x="44.98" y="496.80" font-size="6.8" text-anchor="middle" fill="#231f20" stroke="#231f20" stroke-width="0.15">50</text>
<line x1="65.77" y1="486.20" x2="65.77" y2="488.50" stroke="#666" stroke-width="0.7"/>
<text x="65.77" y="496.80" font-size="6.8" text-anchor="middle" fill="#231f20" stroke="#231f20" stroke-width="0.15">100</text>
<line x1="86.55" y1="486.20" x2="86.55" y2="488.50" stroke="#666" stroke-width="0.7"/>
<text x="86.55" y="496.80" font-size="6.8" text-anchor="middle" fill="#231f20" stroke="#231f20" stroke-width="0.15">150</text>
<line x1="107.33" y1="486.20" x2="107.33" y2="488.50" stroke="#666" stroke-width="0.7"/>
<text x="107.33" y="496.80" font-size="6.8" text-anchor="middle" fill="#231f20" stroke="#231f20" stroke-width="0.15">200</text>
<line x1="128.12" y1="486.20" x2="128.12" y2="488.50" stroke="#666" stroke-width="0.7"/>
<text x="128.12" y="496.80" font-size="6.8" text-anchor="middle" fill="#231f20" stroke="#231f20" stroke-width="0.15">250</text>
<line x1="148.90" y1="486.20" x2="148.90" y2="488.50" stroke="#666" stroke-width="0.7"/>
<text x="148.90" y="496.80" font-size="6.8" text-anchor="middle" fill="#231f20" stroke="#231f20" stroke-width="0.15">300</text>
<text x="0.00" y="386.00" font-size="12.5" fill="#231f20" font-weight="bold" stroke="#231f20" stroke-width="0.35">h</text>
<text x="5.00" y="436.00" font-size="7.8" text-anchor="middle" fill="#231f20" stroke="#231f20" stroke-width="0.15" transform="rotate(-90 5.00 436.00)">Molar concentration (M)</text>
<text x="87.60" y="507.10" font-size="7.8" text-anchor="middle" fill="#231f20" stroke="#231f20" stroke-width="0.15">Cycle number</text>
<text x="162.50" y="436.00" font-size="7.8" text-anchor="middle" fill="#6db33f" stroke="#6db33f" stroke-width="0.15" transform="rotate(90 162.50 436.00)">Bulk ionic conductivity (mS cm<tspan dy="-2" font-size="4.2">−1</tspan><tspan dy="2">)</tspan></text>
<text x="185.50" y="436.00" font-size="7.8" text-anchor="middle" fill="#f4a3a3" stroke="#f4a3a3" stroke-width="0.15" transform="rotate(90 185.50 436.00)">Dynamic viscosity (mPa s)</text>
<path d="M24.20,393.01 L44.98,407.04 L65.77,414.06 L86.55,424.08 L107.33,429.09 L128.12,432.09 L148.90,438.10" stroke="#f4a3a3" stroke-width="0.9" fill="none"/>
<circle cx="24.20" cy="393.01" r="1.45" fill="#f4a3a3"/>
<circle cx="44.98" cy="407.04" r="1.45" fill="#f4a3a3"/>
<circle cx="65.77" cy="414.06" r="1.45" fill="#f4a3a3"/>
<circle cx="86.55" cy="424.08" r="1.45" fill="#f4a3a3"/>
<circle cx="107.33" cy="429.09" r="1.45" fill="#f4a3a3"/>
<circle cx="128.12" cy="432.09" r="1.45" fill="#f4a3a3"/>
<circle cx="148.90" cy="438.10" r="1.45" fill="#f4a3a3"/>
<path d="M24.20,445.12 L44.98,428.08 L65.77,422.07 L86.55,414.06 L107.33,412.65 L128.12,415.46 L148.90,422.07" stroke="#6db33f" stroke-width="0.9" fill="none"/>
<circle cx="24.20" cy="445.12" r="1.45" fill="#6db33f"/>
<circle cx="44.98" cy="428.08" r="1.45" fill="#6db33f"/>
<circle cx="65.77" cy="422.07" r="1.45" fill="#6db33f"/>
<circle cx="86.55" cy="414.06" r="1.45" fill="#6db33f"/>
<circle cx="107.33" cy="412.65" r="1.45" fill="#6db33f"/>
<circle cx="128.12" cy="415.46" r="1.45" fill="#6db33f"/>
<circle cx="148.90" cy="422.07" r="1.45" fill="#6db33f"/>
<path d="M24.20,428.42 L44.98,443.45 L65.77,447.79 L86.55,454.14 L107.33,459.81 L128.12,464.16 L148.90,468.83" stroke="#6aa6e0" stroke-width="0.9" fill="none"/>
<rect x="22.70" y="426.92" width="3.00" height="3.00" fill="#fff" stroke="#6aa6e0" stroke-width="0.6"/>
<rect x="43.48" y="441.95" width="3.00" height="3.00" fill="#fff" stroke="#6aa6e0" stroke-width="0.6"/>
<rect x="64.27" y="446.29" width="3.00" height="3.00" fill="#fff" stroke="#6aa6e0" stroke-width="0.6"/>
<rect x="85.05" y="452.64" width="3.00" height="3.00" fill="#fff" stroke="#6aa6e0" stroke-width="0.6"/>
<rect x="105.83" y="458.31" width="3.00" height="3.00" fill="#fff" stroke="#6aa6e0" stroke-width="0.6"/>
<rect x="126.62" y="462.66" width="3.00" height="3.00" fill="#fff" stroke="#6aa6e0" stroke-width="0.6"/>
<rect x="147.40" y="467.33" width="3.00" height="3.00" fill="#fff" stroke="#6aa6e0" stroke-width="0.6"/>
<line x1="26.30" y1="460.50" x2="38.00" y2="460.50" stroke="#6aa6e0" stroke-width="0.9"/>
<rect x="30.70" y="459.00" width="3.00" height="3.00" fill="#fff" stroke="#6aa6e0" stroke-width="0.6"/>
<text x="40.20" y="462.80" font-size="7.0" fill="#231f20" stroke="#231f20" stroke-width="0.15" textLength="63.50" lengthAdjust="spacingAndGlyphs">Molar concentration</text>
<line x1="26.30" y1="470.70" x2="38.00" y2="470.70" stroke="#6db33f" stroke-width="0.9"/>
<circle cx="32.20" cy="470.70" r="1.45" fill="#6db33f"/>
<text x="40.20" y="473.00" font-size="7.0" fill="#231f20" stroke="#231f20" stroke-width="0.15" textLength="55.50" lengthAdjust="spacingAndGlyphs">Ionic conductivity</text>
<line x1="26.30" y1="480.40" x2="38.00" y2="480.40" stroke="#f4a3a3" stroke-width="0.9"/>
<circle cx="32.20" cy="480.40" r="1.45" fill="#f4a3a3"/>
<text x="40.20" y="482.70" font-size="7.0" fill="#231f20" stroke="#231f20" stroke-width="0.15" textLength="55.50" lengthAdjust="spacingAndGlyphs">Dynamic viscosity</text>
<line x1="225.50" y1="385.60" x2="329.80" y2="385.60" stroke="#8a8a8a" stroke-width="0.8"/>
<line x1="225.50" y1="385.60" x2="225.50" y2="485.90" stroke="#8a8a8a" stroke-width="0.8"/>
<line x1="225.50" y1="485.90" x2="329.80" y2="485.90" stroke="#777" stroke-width="0.8"/>
<line x1="329.80" y1="385.60" x2="329.80" y2="485.90" stroke="#8a8a8a" stroke-width="0.8"/>
<line x1="223.30" y1="385.60" x2="225.50" y2="385.60" stroke="#666" stroke-width="0.7"/>
<text x="219.90" y="387.70" font-size="6.8" text-anchor="end" fill="#231f20" stroke="#231f20" stroke-width="0.15">140</text>
<line x1="223.30" y1="405.66" x2="225.50" y2="405.66" stroke="#666" stroke-width="0.7"/>
<text x="219.90" y="407.76" font-size="6.8" text-anchor="end" fill="#231f20" stroke="#231f20" stroke-width="0.15">120</text>
<line x1="223.30" y1="425.72" x2="225.50" y2="425.72" stroke="#666" stroke-width="0.7"/>
<text x="219.90" y="427.82" font-size="6.8" text-anchor="end" fill="#231f20" stroke="#231f20" stroke-width="0.15">100</text>
<line x1="223.30" y1="445.78" x2="225.50" y2="445.78" stroke="#666" stroke-width="0.7"/>
<text x="219.90" y="447.88" font-size="6.8" text-anchor="end" fill="#231f20" stroke="#231f20" stroke-width="0.15">80</text>
<line x1="223.30" y1="465.84" x2="225.50" y2="465.84" stroke="#666" stroke-width="0.7"/>
<text x="219.90" y="467.94" font-size="6.8" text-anchor="end" fill="#231f20" stroke="#231f20" stroke-width="0.15">60</text>
<line x1="223.30" y1="485.90" x2="225.50" y2="485.90" stroke="#666" stroke-width="0.7"/>
<text x="219.90" y="488.00" font-size="6.8" text-anchor="end" fill="#231f20" stroke="#231f20" stroke-width="0.15">40</text>
<line x1="225.50" y1="485.90" x2="225.50" y2="488.20" stroke="#666" stroke-width="0.7"/>
<text x="225.50" y="496.50" font-size="6.8" text-anchor="middle" fill="#231f20" stroke="#231f20" stroke-width="0.15">0</text>
<line x1="260.27" y1="485.90" x2="260.27" y2="488.20" stroke="#666" stroke-width="0.7"/>
<text x="260.27" y="496.50" font-size="6.8" text-anchor="middle" fill="#231f20" stroke="#231f20" stroke-width="0.15">10</text>
<line x1="295.03" y1="485.90" x2="295.03" y2="488.20" stroke="#666" stroke-width="0.7"/>
<text x="295.03" y="496.50" font-size="6.8" text-anchor="middle" fill="#231f20" stroke="#231f20" stroke-width="0.15">20</text>
<line x1="329.80" y1="485.90" x2="329.80" y2="488.20" stroke="#666" stroke-width="0.7"/>
<text x="329.80" y="496.50" font-size="6.8" text-anchor="middle" fill="#231f20" stroke="#231f20" stroke-width="0.15">30</text>
<text x="199.20" y="385.00" font-size="12.5" fill="#231f20" font-weight="bold" stroke="#231f20" stroke-width="0.35">i</text>
<text x="205.50" y="436.00" font-size="7.8" text-anchor="middle" fill="#231f20" stroke="#231f20" stroke-width="0.15" transform="rotate(-90 205.50 436.00)">Discharge capacity (mAh)</text>
<text x="277.40" y="505.70" font-size="7.8" text-anchor="middle" fill="#231f20" stroke="#231f20" stroke-width="0.15">Cycle number</text>
<path d="M228.98,406.66 C230.14,407.00 231.29,407.33 232.45,407.67 C233.61,408.00 234.77,408.17 235.93,408.67 C237.09,409.17 238.25,410.01 239.41,410.68 C240.57,411.34 241.72,411.85 242.88,412.68 C244.04,413.52 245.20,414.69 246.36,415.69 C247.52,416.69 248.68,417.70 249.84,418.70 C251.00,419.70 252.15,420.71 253.31,421.71 C254.47,422.71 255.63,423.71 256.79,424.72 C257.95,425.72 259.11,426.78 260.27,427.73 C261.43,428.67 262.58,429.51 263.74,430.40 C264.90,431.29 266.06,432.18 267.22,433.08 C268.38,433.97 269.54,434.89 270.70,435.75 C271.86,436.61 273.01,437.42 274.17,438.26 C275.33,439.09 276.49,439.90 277.65,440.76 C278.81,441.63 279.97,442.55 281.13,443.44 C282.29,444.33 283.44,445.22 284.60,446.11 C285.76,447.01 286.92,447.93 288.08,448.79 C289.24,449.65 290.40,450.46 291.56,451.30 C292.72,452.13 293.87,453.00 295.03,453.80 C296.19,454.61 297.35,455.36 298.51,456.14 C299.67,456.92 300.83,457.70 301.99,458.48 C303.15,459.26 304.30,460.10 305.46,460.82 C306.62,461.55 307.78,462.16 308.94,462.83 C310.10,463.50 311.26,464.17 312.42,464.84 C313.58,465.51 314.73,466.17 315.89,466.84 C317.05,467.51 318.21,468.18 319.37,468.85 C320.53,469.52 321.69,470.19 322.85,470.86 C324.01,471.52 325.16,472.19 326.32,472.86 C327.48,473.53 328.64,474.20 329.80,474.87" stroke="#6db33f" stroke-width="0.9" fill="none"/>
<circle cx="228.98" cy="406.66" r="1.45" fill="#6db33f"/>
<circle cx="232.45" cy="407.67" r="1.45" fill="#6db33f"/>
<circle cx="235.93" cy="408.67" r="1.45" fill="#6db33f"/>
<circle cx="239.41" cy="410.68" r="1.45" fill="#6db33f"/>
<circle cx="242.88" cy="412.68" r="1.45" fill="#6db33f"/>
<circle cx="246.36" cy="415.69" r="1.45" fill="#6db33f"/>
<circle cx="249.84" cy="418.70" r="1.45" fill="#6db33f"/>
<circle cx="253.31" cy="421.71" r="1.45" fill="#6db33f"/>
<circle cx="256.79" cy="424.72" r="1.45" fill="#6db33f"/>
<circle cx="260.27" cy="427.73" r="1.45" fill="#6db33f"/>
<circle cx="263.74" cy="430.40" r="1.45" fill="#6db33f"/>
<circle cx="267.22" cy="433.08" r="1.45" fill="#6db33f"/>
<circle cx="270.70" cy="435.75" r="1.45" fill="#6db33f"/>
<circle cx="274.17" cy="438.26" r="1.45" fill="#6db33f"/>
<circle cx="277.65" cy="440.76" r="1.45" fill="#6db33f"/>
<circle cx="281.13" cy="443.44" r="1.45" fill="#6db33f"/>
<circle cx="284.60" cy="446.11" r="1.45" fill="#6db33f"/>
<circle cx="288.08" cy="448.79" r="1.45" fill="#6db33f"/>
<circle cx="291.56" cy="451.30" r="1.45" fill="#6db33f"/>
<circle cx="295.03" cy="453.80" r="1.45" fill="#6db33f"/>
<circle cx="298.51" cy="456.14" r="1.45" fill="#6db33f"/>
<circle cx="301.99" cy="458.48" r="1.45" fill="#6db33f"/>
<circle cx="305.46" cy="460.82" r="1.45" fill="#6db33f"/>
<circle cx="308.94" cy="462.83" r="1.45" fill="#6db33f"/>
<circle cx="312.42" cy="464.84" r="1.45" fill="#6db33f"/>
<circle cx="315.89" cy="466.84" r="1.45" fill="#6db33f"/>
<circle cx="319.37" cy="468.85" r="1.45" fill="#6db33f"/>
<circle cx="322.85" cy="470.86" r="1.45" fill="#6db33f"/>
<circle cx="326.32" cy="472.86" r="1.45" fill="#6db33f"/>
<circle cx="329.80" cy="474.87" r="1.45" fill="#6db33f"/>
<path d="M228.98,398.64 C230.14,398.77 231.29,398.91 232.45,399.04 C233.61,399.17 234.77,399.27 235.93,399.44 C237.09,399.61 238.25,399.84 239.41,400.04 C240.57,400.24 241.72,400.35 242.88,400.65 C244.04,400.94 245.20,401.43 246.36,401.82 C247.52,402.21 248.68,402.60 249.84,402.99 C251.00,403.38 252.15,403.67 253.31,404.16 C254.47,404.64 255.63,405.33 256.79,405.91 C257.95,406.50 259.11,406.98 260.27,407.67 C261.43,408.35 262.58,409.23 263.74,410.01 C264.90,410.79 266.06,411.57 267.22,412.35 C268.38,413.13 269.54,413.88 270.70,414.69 C271.86,415.49 273.01,416.36 274.17,417.19 C275.33,418.03 276.49,418.81 277.65,419.70 C278.81,420.59 279.97,421.60 281.13,422.54 C282.29,423.49 283.44,424.44 284.60,425.39 C285.76,426.33 286.92,427.29 288.08,428.23 C289.24,429.16 290.40,430.07 291.56,430.99 C292.72,431.91 293.87,432.87 295.03,433.74 C296.19,434.62 297.35,435.42 298.51,436.25 C299.67,437.09 300.83,437.92 301.99,438.76 C303.15,439.59 304.30,440.47 305.46,441.27 C306.62,442.06 307.78,442.77 308.94,443.52 C310.10,444.28 311.26,445.04 312.42,445.78 C313.58,446.52 314.73,447.23 315.89,447.95 C317.05,448.68 318.21,449.40 319.37,450.13 C320.53,450.85 321.69,451.64 322.85,452.30 C324.01,452.95 325.16,453.47 326.32,454.05 C327.48,454.64 328.64,455.22 329.80,455.81" stroke="#f4a3a3" stroke-width="0.9" fill="none"/>
<circle cx="228.98" cy="398.64" r="1.45" fill="#f4a3a3"/>
<circle cx="232.45" cy="399.04" r="1.45" fill="#f4a3a3"/>
<circle cx="235.93" cy="399.44" r="1.45" fill="#f4a3a3"/>
<circle cx="239.41" cy="400.04" r="1.45" fill="#f4a3a3"/>
<circle cx="242.88" cy="400.65" r="1.45" fill="#f4a3a3"/>
<circle cx="246.36" cy="401.82" r="1.45" fill="#f4a3a3"/>
<circle cx="249.84" cy="402.99" r="1.45" fill="#f4a3a3"/>
<circle cx="253.31" cy="404.16" r="1.45" fill="#f4a3a3"/>
<circle cx="256.79" cy="405.91" r="1.45" fill="#f4a3a3"/>
<circle cx="260.27" cy="407.67" r="1.45" fill="#f4a3a3"/>
<circle cx="263.74" cy="410.01" r="1.45" fill="#f4a3a3"/>
<circle cx="267.22" cy="412.35" r="1.45" fill="#f4a3a3"/>
<circle cx="270.70" cy="414.69" r="1.45" fill="#f4a3a3"/>
<circle cx="274.17" cy="417.19" r="1.45" fill="#f4a3a3"/>
<circle cx="277.65" cy="419.70" r="1.45" fill="#f4a3a3"/>
<circle cx="281.13" cy="422.54" r="1.45" fill="#f4a3a3"/>
<circle cx="284.60" cy="425.39" r="1.45" fill="#f4a3a3"/>
<circle cx="288.08" cy="428.23" r="1.45" fill="#f4a3a3"/>
<circle cx="291.56" cy="430.99" r="1.45" fill="#f4a3a3"/>
<circle cx="295.03" cy="433.74" r="1.45" fill="#f4a3a3"/>
<circle cx="298.51" cy="436.25" r="1.45" fill="#f4a3a3"/>
<circle cx="301.99" cy="438.76" r="1.45" fill="#f4a3a3"/>
<circle cx="305.46" cy="441.27" r="1.45" fill="#f4a3a3"/>
<circle cx="308.94" cy="443.52" r="1.45" fill="#f4a3a3"/>
<circle cx="312.42" cy="445.78" r="1.45" fill="#f4a3a3"/>
<circle cx="315.89" cy="447.95" r="1.45" fill="#f4a3a3"/>
<circle cx="319.37" cy="450.13" r="1.45" fill="#f4a3a3"/>
<circle cx="322.85" cy="452.30" r="1.45" fill="#f4a3a3"/>
<circle cx="326.32" cy="454.05" r="1.45" fill="#f4a3a3"/>
<circle cx="329.80" cy="455.81" r="1.45" fill="#f4a3a3"/>
<path d="M228.98,395.63 C230.14,395.66 231.29,395.70 232.45,395.73 C233.61,395.76 234.77,395.80 235.93,395.83 C237.09,395.86 238.25,395.90 239.41,395.93 C240.57,395.96 241.72,395.97 242.88,396.03 C244.04,396.09 245.20,396.22 246.36,396.31 C247.52,396.41 248.68,396.50 249.84,396.59 C251.00,396.69 252.15,396.78 253.31,396.87 C254.47,396.97 255.63,397.06 256.79,397.15 C257.95,397.25 259.11,397.31 260.27,397.44 C261.43,397.56 262.58,397.76 263.74,397.92 C264.90,398.08 266.06,398.24 267.22,398.40 C268.38,398.56 269.54,398.72 270.70,398.88 C271.86,399.04 273.01,399.20 274.17,399.36 C275.33,399.52 276.49,399.63 277.65,399.84 C278.81,400.06 279.97,400.38 281.13,400.65 C282.29,400.91 283.44,401.18 284.60,401.45 C285.76,401.71 286.92,401.98 288.08,402.25 C289.24,402.52 290.40,402.78 291.56,403.05 C292.72,403.32 293.87,403.54 295.03,403.85 C296.19,404.17 297.35,404.56 298.51,404.92 C299.67,405.27 300.83,405.63 301.99,405.98 C303.15,406.34 304.30,406.69 305.46,407.04 C306.62,407.40 307.78,407.75 308.94,408.11 C310.10,408.46 311.26,408.78 312.42,409.17 C313.58,409.57 314.73,410.04 315.89,410.47 C317.05,410.91 318.21,411.34 319.37,411.78 C320.53,412.21 321.69,412.65 322.85,413.08 C324.01,413.52 325.16,413.95 326.32,414.39 C327.48,414.82 328.64,415.26 329.80,415.69" stroke="#4a8fd8" stroke-width="0.9" fill="none"/>
<circle cx="228.98" cy="395.63" r="1.45" fill="#4a8fd8"/>
<circle cx="232.45" cy="395.73" r="1.45" fill="#4a8fd8"/>
<circle cx="235.93" cy="395.83" r="1.45" fill="#4a8fd8"/>
<circle cx="239.41" cy="395.93" r="1.45" fill="#4a8fd8"/>
<circle cx="242.88" cy="396.03" r="1.45" fill="#4a8fd8"/>
<circle cx="246.36" cy="396.31" r="1.45" fill="#4a8fd8"/>
<circle cx="249.84" cy="396.59" r="1.45" fill="#4a8fd8"/>
<circle cx="253.31" cy="396.87" r="1.45" fill="#4a8fd8"/>
<circle cx="256.79" cy="397.15" r="1.45" fill="#4a8fd8"/>
<circle cx="260.27" cy="397.44" r="1.45" fill="#4a8fd8"/>
<circle cx="263.74" cy="397.92" r="1.45" fill="#4a8fd8"/>
<circle cx="267.22" cy="398.40" r="1.45" fill="#4a8fd8"/>
<circle cx="270.70" cy="398.88" r="1.45" fill="#4a8fd8"/>
<circle cx="274.17" cy="399.36" r="1.45" fill="#4a8fd8"/>
<circle cx="277.65" cy="399.84" r="1.45" fill="#4a8fd8"/>
<circle cx="281.13" cy="400.65" r="1.45" fill="#4a8fd8"/>
<circle cx="284.60" cy="401.45" r="1.45" fill="#4a8fd8"/>
<circle cx="288.08" cy="402.25" r="1.45" fill="#4a8fd8"/>
<circle cx="291.56" cy="403.05" r="1.45" fill="#4a8fd8"/>
<circle cx="295.03" cy="403.85" r="1.45" fill="#4a8fd8"/>
<circle cx="298.51" cy="404.92" r="1.45" fill="#4a8fd8"/>
<circle cx="301.99" cy="405.98" r="1.45" fill="#4a8fd8"/>
<circle cx="305.46" cy="407.04" r="1.45" fill="#4a8fd8"/>
<circle cx="308.94" cy="408.11" r="1.45" fill="#4a8fd8"/>
<circle cx="312.42" cy="409.17" r="1.45" fill="#4a8fd8"/>
<circle cx="315.89" cy="410.47" r="1.45" fill="#4a8fd8"/>
<circle cx="319.37" cy="411.78" r="1.45" fill="#4a8fd8"/>
<circle cx="322.85" cy="413.08" r="1.45" fill="#4a8fd8"/>
<circle cx="326.32" cy="414.39" r="1.45" fill="#4a8fd8"/>
<circle cx="329.80" cy="415.69" r="1.45" fill="#4a8fd8"/>
<text x="225.30" y="392.40" font-size="7.0" fill="#231f20" stroke="#231f20" stroke-width="0.15" textLength="103.80" lengthAdjust="spacingAndGlyphs">0.28LiFSI–0.92DME–3TTE (0.53 M)</text>
<text x="249.50" y="421.90" font-size="7.0" fill="#231f20" stroke="#231f20" stroke-width="0.15" textLength="77.00" lengthAdjust="spacingAndGlyphs">0.21LiFSI–0.69DME–3TTE</text>
<text x="231.00" y="446.50" font-size="7.0" fill="#231f20" stroke="#231f20" stroke-width="0.15" textLength="77.80" lengthAdjust="spacingAndGlyphs">0.14LiFSI–0.46DME–3TTE</text>
<text x="326.50" y="470.20" font-size="7.0" text-anchor="end" fill="#231f20" stroke="#231f20" stroke-width="0.15" textLength="54.60" lengthAdjust="spacingAndGlyphs">50 µm Li||NMC811</text>
<text x="326.50" y="478.40" font-size="7.0" text-anchor="end" fill="#231f20" stroke="#231f20" stroke-width="0.15" textLength="87.40" lengthAdjust="spacingAndGlyphs">2.1 g Ah<tspan dy="-2.3" font-size="4.4">−1</tspan><tspan dy="2.3">, 2.8–4.3 V, 0.2–1 C</tspan></text>
<line x1="364.60" y1="385.60" x2="504.70" y2="385.60" stroke="#8a8a8a" stroke-width="0.8"/>
<line x1="364.60" y1="385.60" x2="364.60" y2="485.80" stroke="#8a8a8a" stroke-width="0.8"/>
<line x1="364.60" y1="485.80" x2="504.70" y2="485.80" stroke="#777" stroke-width="0.8"/>
<line x1="504.70" y1="385.60" x2="504.70" y2="485.80" stroke="#8a8a8a" stroke-width="0.8"/>
<line x1="362.40" y1="385.60" x2="364.60" y2="385.60" stroke="#666" stroke-width="0.7"/>
<text x="359.00" y="387.70" font-size="6.8" text-anchor="end" fill="#231f20" stroke="#231f20" stroke-width="0.15">4.3</text>
<line x1="362.40" y1="398.13" x2="364.60" y2="398.13" stroke="#666" stroke-width="0.7"/>
<text x="359.00" y="400.23" font-size="6.8" text-anchor="end" fill="#231f20" stroke="#231f20" stroke-width="0.15">4.1</text>
<line x1="362.40" y1="410.65" x2="364.60" y2="410.65" stroke="#666" stroke-width="0.7"/>
<text x="359.00" y="412.75" font-size="6.8" text-anchor="end" fill="#231f20" stroke="#231f20" stroke-width="0.15">3.9</text>
<line x1="362.40" y1="423.18" x2="364.60" y2="423.18" stroke="#666" stroke-width="0.7"/>
<text x="359.00" y="425.28" font-size="6.8" text-anchor="end" fill="#231f20" stroke="#231f20" stroke-width="0.15">3.7</text>
<line x1="362.40" y1="435.70" x2="364.60" y2="435.70" stroke="#666" stroke-width="0.7"/>
<text x="359.00" y="437.80" font-size="6.8" text-anchor="end" fill="#231f20" stroke="#231f20" stroke-width="0.15">3.5</text>
<line x1="362.40" y1="448.23" x2="364.60" y2="448.23" stroke="#666" stroke-width="0.7"/>
<text x="359.00" y="450.33" font-size="6.8" text-anchor="end" fill="#231f20" stroke="#231f20" stroke-width="0.15">3.3</text>
<line x1="362.40" y1="460.75" x2="364.60" y2="460.75" stroke="#666" stroke-width="0.7"/>
<text x="359.00" y="462.85" font-size="6.8" text-anchor="end" fill="#231f20" stroke="#231f20" stroke-width="0.15">3.1</text>
<line x1="362.40" y1="473.27" x2="364.60" y2="473.27" stroke="#666" stroke-width="0.7"/>
<text x="359.00" y="475.38" font-size="6.8" text-anchor="end" fill="#231f20" stroke="#231f20" stroke-width="0.15">2.9</text>
<line x1="362.40" y1="485.80" x2="364.60" y2="485.80" stroke="#666" stroke-width="0.7"/>
<text x="359.00" y="487.90" font-size="6.8" text-anchor="end" fill="#231f20" stroke="#231f20" stroke-width="0.15">2.7</text>
<line x1="364.60" y1="485.80" x2="364.60" y2="488.10" stroke="#666" stroke-width="0.7"/>
<text x="364.60" y="496.40" font-size="6.8" text-anchor="middle" fill="#231f20" stroke="#231f20" stroke-width="0.15">0</text>
<line x1="384.61" y1="485.80" x2="384.61" y2="488.10" stroke="#666" stroke-width="0.7"/>
<text x="384.61" y="496.40" font-size="6.8" text-anchor="middle" fill="#231f20" stroke="#231f20" stroke-width="0.15">0.02</text>
<line x1="404.63" y1="485.80" x2="404.63" y2="488.10" stroke="#666" stroke-width="0.7"/>
<text x="404.63" y="496.40" font-size="6.8" text-anchor="middle" fill="#231f20" stroke="#231f20" stroke-width="0.15">0.04</text>
<line x1="424.64" y1="485.80" x2="424.64" y2="488.10" stroke="#666" stroke-width="0.7"/>
<text x="424.64" y="496.40" font-size="6.8" text-anchor="middle" fill="#231f20" stroke="#231f20" stroke-width="0.15">0.06</text>
<line x1="444.66" y1="485.80" x2="444.66" y2="488.10" stroke="#666" stroke-width="0.7"/>
<text x="444.66" y="496.40" font-size="6.8" text-anchor="middle" fill="#231f20" stroke="#231f20" stroke-width="0.15">0.08</text>
<line x1="464.67" y1="485.80" x2="464.67" y2="488.10" stroke="#666" stroke-width="0.7"/>
<text x="464.67" y="496.40" font-size="6.8" text-anchor="middle" fill="#231f20" stroke="#231f20" stroke-width="0.15">0.10</text>
<line x1="484.69" y1="485.80" x2="484.69" y2="488.10" stroke="#666" stroke-width="0.7"/>
<text x="484.69" y="496.40" font-size="6.8" text-anchor="middle" fill="#231f20" stroke="#231f20" stroke-width="0.15">0.12</text>
<line x1="504.70" y1="485.80" x2="504.70" y2="488.10" stroke="#666" stroke-width="0.7"/>
<text x="504.70" y="496.40" font-size="6.8" text-anchor="middle" fill="#231f20" stroke="#231f20" stroke-width="0.15">0.14</text>
<text x="339.60" y="385.30" font-size="12.5" fill="#231f20" font-weight="bold" stroke="#231f20" stroke-width="0.35">j</text>
<text x="344.50" y="436.00" font-size="7.8" text-anchor="middle" fill="#231f20" stroke="#231f20" stroke-width="0.15" transform="rotate(-90 344.50 436.00)">Cell potential (V)</text>
<text x="434.20" y="505.70" font-size="7.8" text-anchor="middle" fill="#231f20" stroke="#231f20" stroke-width="0.15">Capacity (Ah)</text>
<text x="501.20" y="395.10" font-size="7.0" text-anchor="end" fill="#231f20" stroke="#231f20" stroke-width="0.15">Discharge rate 1 C</text>
<path d="M364.60,393.74 C365.10,395.62 365.65,397.92 366.10,399.38 C366.55,400.84 364.82,400.53 367.30,402.51 C369.79,404.49 376.46,408.46 381.01,411.28 C385.56,414.09 390.07,416.70 394.62,419.42 C399.17,422.13 403.76,425.16 408.33,427.56 C412.90,429.96 417.49,432.22 422.04,433.82 C426.59,435.42 432.05,435.99 435.65,437.14 C439.25,438.29 440.94,439.07 443.66,440.71 C446.38,442.35 449.89,444.57 451.96,446.97 C454.03,449.37 455.06,451.46 456.07,455.11 C457.07,458.77 457.60,464.30 457.97,468.89 C458.33,473.48 458.17,478.08 458.27,482.67" stroke="#3f74d0" stroke-width="0.95" fill="none"/>
<path d="M364.60,393.12 C365.10,394.16 365.65,395.62 366.10,396.25 C366.55,396.87 364.82,395.31 367.30,396.87 C369.79,398.44 376.46,402.82 381.01,405.64 C385.56,408.46 390.07,411.04 394.62,413.78 C399.17,416.53 403.76,419.61 408.33,422.11 C412.90,424.62 417.49,426.96 422.04,428.81 C426.59,430.66 431.11,431.94 435.65,433.19 C440.19,434.45 444.72,435.07 449.26,436.33 C453.80,437.58 459.23,439.35 462.87,440.71 C466.51,442.07 469.16,442.59 471.08,444.47 C472.99,446.35 473.61,448.85 474.38,451.98 C475.15,455.11 475.36,458.14 475.68,463.25 C476.00,468.37 476.08,476.20 476.28,482.67" stroke="#f6c02b" stroke-width="0.95" fill="none"/>
<path d="M364.60,392.49 C365.10,393.32 365.65,394.47 366.10,394.99 C366.55,395.52 364.82,394.26 367.30,395.62 C369.79,396.98 376.46,400.53 381.01,403.14 C385.56,405.74 390.07,408.77 394.62,411.28 C399.17,413.78 403.76,415.87 408.33,418.17 C412.90,420.46 417.49,423.28 422.04,425.05 C426.59,426.83 431.11,427.66 435.65,428.81 C440.19,429.96 444.72,431.00 449.26,431.94 C453.80,432.88 458.30,433.30 462.87,434.45 C467.44,435.60 473.21,437.27 476.68,438.83 C480.15,440.40 481.88,441.65 483.68,443.84 C485.49,446.03 486.50,448.33 487.49,451.98 C488.47,455.64 489.14,460.65 489.59,465.76 C490.04,470.87 489.99,477.03 490.19,482.67" stroke="#6aab4f" stroke-width="0.95" fill="none"/>
<path d="M364.60,391.86 C365.10,392.70 365.65,393.85 366.10,394.37 C366.55,394.89 364.82,393.74 367.30,394.99 C369.79,396.25 376.46,399.59 381.01,401.88 C385.56,404.18 390.07,406.27 394.62,408.77 C399.17,411.28 403.76,414.51 408.33,416.91 C412.90,419.31 417.49,421.61 422.04,423.18 C426.59,424.74 431.11,425.26 435.65,426.31 C440.19,427.35 444.72,428.39 449.26,429.44 C453.80,430.48 458.30,431.53 462.87,432.57 C467.44,433.61 472.58,434.55 476.68,435.70 C480.78,436.85 484.82,438.31 487.49,439.46 C490.16,440.61 491.32,441.02 492.69,442.59 C494.06,444.15 494.98,445.41 495.69,448.85 C496.41,452.30 496.63,457.62 496.99,463.25 C497.36,468.89 497.59,476.20 497.90,482.67" stroke="#f4a6a6" stroke-width="0.95" fill="none"/>
<path d="M364.60,390.61 C365.10,391.65 365.65,393.17 366.10,393.74 C366.55,394.32 364.82,393.08 367.30,394.05 C369.79,395.03 376.46,397.63 381.01,399.57 C385.56,401.50 390.07,403.27 394.62,405.64 C399.17,408.01 403.76,411.28 408.33,413.78 C412.90,416.29 417.49,418.83 422.04,420.67 C426.59,422.51 431.11,423.55 435.65,424.80 C440.19,426.06 444.72,427.18 449.26,428.19 C453.80,429.19 458.30,429.77 462.87,430.82 C467.44,431.86 472.58,433.15 476.68,434.45 C480.78,435.74 484.82,437.33 487.49,438.58 C490.16,439.83 491.32,440.56 492.69,441.96 C494.06,443.36 494.98,444.36 495.69,446.97 C496.41,449.58 496.63,451.67 496.99,457.62 C497.36,463.57 497.59,474.32 497.90,482.67" stroke="#6fa8e0" stroke-width="0.95" fill="none"/>
<line x1="370.00" y1="439.70" x2="381.00" y2="439.70" stroke="#6fa8e0" stroke-width="1.0"/>
<text x="384.50" y="442.00" font-size="7.0" fill="#231f20" stroke="#231f20" stroke-width="0.15">Cycle 1</text>
<line x1="370.00" y1="449.50" x2="381.00" y2="449.50" stroke="#f4a6a6" stroke-width="1.0"/>
<text x="384.50" y="451.80" font-size="7.0" fill="#231f20" stroke="#231f20" stroke-width="0.15">Cycle 150</text>
<line x1="370.00" y1="459.30" x2="381.00" y2="459.30" stroke="#6aab4f" stroke-width="1.0"/>
<text x="384.50" y="461.60" font-size="7.0" fill="#231f20" stroke="#231f20" stroke-width="0.15">Cycle 200</text>
<line x1="370.00" y1="469.20" x2="381.00" y2="469.20" stroke="#f6c02b" stroke-width="1.0"/>
<text x="384.50" y="471.50" font-size="7.0" fill="#231f20" stroke="#231f20" stroke-width="0.15">Cycle 250</text>
<line x1="370.00" y1="478.70" x2="381.00" y2="478.70" stroke="#3f74d0" stroke-width="1.0"/>
<text x="384.50" y="481.00" font-size="7.0" fill="#231f20" stroke="#231f20" stroke-width="0.15">Cycle 300</text>
<line x1="537.80" y1="385.60" x2="681.20" y2="385.60" stroke="#8a8a8a" stroke-width="0.8"/>
<line x1="537.80" y1="385.60" x2="537.80" y2="485.80" stroke="#8a8a8a" stroke-width="0.8"/>
<line x1="537.80" y1="485.80" x2="681.20" y2="485.80" stroke="#777" stroke-width="0.8"/>
<line x1="681.20" y1="385.60" x2="681.20" y2="485.80" stroke="#8a8a8a" stroke-width="0.8"/>
<line x1="535.60" y1="385.60" x2="537.80" y2="385.60" stroke="#666" stroke-width="0.7"/>
<text x="532.20" y="387.70" font-size="6.8" text-anchor="end" fill="#231f20" stroke="#231f20" stroke-width="0.15">3.0</text>
<line x1="535.60" y1="402.30" x2="537.80" y2="402.30" stroke="#666" stroke-width="0.7"/>
<text x="532.20" y="404.40" font-size="6.8" text-anchor="end" fill="#231f20" stroke="#231f20" stroke-width="0.15">2.5</text>
<line x1="535.60" y1="419.00" x2="537.80" y2="419.00" stroke="#666" stroke-width="0.7"/>
<text x="532.20" y="421.10" font-size="6.8" text-anchor="end" fill="#231f20" stroke="#231f20" stroke-width="0.15">2.0</text>
<line x1="535.60" y1="435.70" x2="537.80" y2="435.70" stroke="#666" stroke-width="0.7"/>
<text x="532.20" y="437.80" font-size="6.8" text-anchor="end" fill="#231f20" stroke="#231f20" stroke-width="0.15">1.5</text>
<line x1="535.60" y1="452.40" x2="537.80" y2="452.40" stroke="#666" stroke-width="0.7"/>
<text x="532.20" y="454.50" font-size="6.8" text-anchor="end" fill="#231f20" stroke="#231f20" stroke-width="0.15">1.0</text>
<line x1="535.60" y1="469.10" x2="537.80" y2="469.10" stroke="#666" stroke-width="0.7"/>
<text x="532.20" y="471.20" font-size="6.8" text-anchor="end" fill="#231f20" stroke="#231f20" stroke-width="0.15">0.5</text>
<line x1="535.60" y1="485.80" x2="537.80" y2="485.80" stroke="#666" stroke-width="0.7"/>
<text x="532.20" y="487.90" font-size="6.8" text-anchor="end" fill="#231f20" stroke="#231f20" stroke-width="0.15">0</text>
<line x1="537.80" y1="485.80" x2="537.80" y2="488.10" stroke="#666" stroke-width="0.7"/>
<text x="537.80" y="496.40" font-size="6.8" text-anchor="middle" fill="#231f20" stroke="#231f20" stroke-width="0.15">0</text>
<line x1="558.29" y1="485.80" x2="558.29" y2="488.10" stroke="#666" stroke-width="0.7"/>
<text x="558.29" y="496.40" font-size="6.8" text-anchor="middle" fill="#231f20" stroke="#231f20" stroke-width="0.15">10</text>
<line x1="578.77" y1="485.80" x2="578.77" y2="488.10" stroke="#666" stroke-width="0.7"/>
<text x="578.77" y="496.40" font-size="6.8" text-anchor="middle" fill="#231f20" stroke="#231f20" stroke-width="0.15">20</text>
<line x1="599.26" y1="485.80" x2="599.26" y2="488.10" stroke="#666" stroke-width="0.7"/>
<text x="599.26" y="496.40" font-size="6.8" text-anchor="middle" fill="#231f20" stroke="#231f20" stroke-width="0.15">30</text>
<line x1="619.74" y1="485.80" x2="619.74" y2="488.10" stroke="#666" stroke-width="0.7"/>
<text x="619.74" y="496.40" font-size="6.8" text-anchor="middle" fill="#231f20" stroke="#231f20" stroke-width="0.15">40</text>
<line x1="640.23" y1="485.80" x2="640.23" y2="488.10" stroke="#666" stroke-width="0.7"/>
<text x="640.23" y="496.40" font-size="6.8" text-anchor="middle" fill="#231f20" stroke="#231f20" stroke-width="0.15">50</text>
<line x1="660.71" y1="485.80" x2="660.71" y2="488.10" stroke="#666" stroke-width="0.7"/>
<text x="660.71" y="496.40" font-size="6.8" text-anchor="middle" fill="#231f20" stroke="#231f20" stroke-width="0.15">60</text>
<line x1="681.20" y1="485.80" x2="681.20" y2="488.10" stroke="#666" stroke-width="0.7"/>
<text x="681.20" y="496.40" font-size="6.8" text-anchor="middle" fill="#231f20" stroke="#231f20" stroke-width="0.15">70</text>
<text x="512.80" y="385.00" font-size="12.5" fill="#231f20" font-weight="bold" stroke="#231f20" stroke-width="0.35">k</text>
<text x="518.50" y="436.00" font-size="7.8" text-anchor="middle" fill="#231f20" stroke="#231f20" stroke-width="0.15" transform="rotate(-90 518.50 436.00)">Molar concentration (M)</text>
<text x="609.60" y="505.70" font-size="7.8" text-anchor="middle" fill="#231f20" stroke="#231f20" stroke-width="0.15">Distance (µm)</text>
<line x1="568.53" y1="385.60" x2="568.53" y2="485.80" stroke="#444" stroke-width="0.6" stroke-dasharray="2,1.5"/>
<line x1="670.96" y1="439.50" x2="670.96" y2="485.80" stroke="#444" stroke-width="0.6" stroke-dasharray="2,1.5"/>
<text x="544.60" y="394.60" font-size="7.0" fill="#231f20" stroke="#231f20" stroke-width="0.15" textLength="76.50" lengthAdjust="spacingAndGlyphs">Discharging time 1,000 s</text>
<path d="M537.80,399.13 L568.73,407.71" stroke="#6fa8e0" stroke-width="1.05" fill="none"/>
<path d="M568.73,407.71 C571.87,409.70 575.05,411.47 578.16,413.69 C581.26,415.90 584.34,418.56 587.38,421.00 C590.41,423.45 593.35,425.92 596.39,428.35 C599.43,430.78 602.57,433.39 605.61,435.60 C608.65,437.81 611.58,439.80 614.62,441.61 C617.66,443.43 620.77,445.06 623.84,446.49 C626.91,447.92 630.02,449.18 633.06,450.20 C636.10,451.21 639.07,452.00 642.07,452.60 C645.08,453.20 648.05,453.50 651.09,453.80 C654.12,454.10 657.10,454.19 660.30,454.40 C663.51,454.62 667.00,454.87 670.34,455.11" stroke="#6fa8e0" stroke-width="1.05" fill="none"/>
<path d="M537.80,425.68 L568.73,434.30" stroke="#f4a6a6" stroke-width="1.05" fill="none"/>
<path d="M568.73,434.30 C571.87,436.57 575.05,438.76 578.16,441.11 C581.26,443.46 584.34,445.96 587.38,448.39 C590.41,450.82 593.35,453.44 596.39,455.71 C599.43,457.97 602.57,460.02 605.61,461.99 C608.65,463.95 611.58,465.88 614.62,467.50 C617.66,469.12 620.77,470.42 623.84,471.71 C626.91,472.99 630.02,474.23 633.06,475.21 C636.10,476.19 639.07,476.89 642.07,477.58 C645.08,478.28 648.05,478.87 651.09,479.39 C654.12,479.90 657.10,480.32 660.30,480.69 C663.51,481.06 667.00,481.29 670.34,481.59" stroke="#f4a6a6" stroke-width="1.05" fill="none"/>
<path d="M537.80,432.53 L568.73,440.51" stroke="#6aab4f" stroke-width="1.05" fill="none"/>
<path d="M568.73,440.51 C571.87,442.94 575.05,445.26 578.16,447.79 C581.26,450.32 584.34,453.17 587.38,455.71 C590.41,458.24 593.35,460.72 596.39,462.99 C599.43,465.25 602.57,467.38 605.61,469.30 C608.65,471.22 611.58,472.98 614.62,474.51 C617.66,476.04 620.77,477.37 623.84,478.49 C626.91,479.60 630.02,480.44 633.06,481.19 C636.10,481.94 639.07,482.48 642.07,482.99 C645.08,483.51 648.05,483.98 651.09,484.30 C654.12,484.61 657.10,484.73 660.30,484.90 C663.51,485.07 667.00,485.17 670.34,485.30" stroke="#6aab4f" stroke-width="1.05" fill="none"/>
<path d="M537.80,436.70 L568.73,445.29" stroke="#f6c02b" stroke-width="1.05" fill="none"/>
<path d="M568.73,445.29 C571.87,447.82 575.05,450.27 578.16,452.90 C581.26,455.53 584.34,458.50 587.38,461.08 C590.41,463.67 593.35,466.16 596.39,468.40 C599.43,470.64 602.57,472.78 605.61,474.51 C608.65,476.24 611.58,477.52 614.62,478.79 C617.66,480.05 620.77,481.24 623.84,482.09 C626.91,482.94 630.02,483.41 633.06,483.90 C636.10,484.38 639.07,484.74 642.07,485.00 C645.08,485.26 648.05,485.35 651.09,485.47 C654.12,485.58 657.10,485.62 660.30,485.67 C663.51,485.71 667.00,485.71 670.34,485.73" stroke="#f6c02b" stroke-width="1.05" fill="none"/>
<path d="M537.80,442.71 L568.73,451.50" stroke="#3f74d0" stroke-width="1.05" fill="none"/>
<path d="M568.73,451.50 C571.87,454.10 575.05,456.70 578.16,459.31 C581.26,461.93 584.34,464.76 587.38,467.20 C590.41,469.63 593.35,471.98 596.39,473.91 C599.43,475.84 602.57,477.36 605.61,478.79 C608.65,480.22 611.58,481.57 614.62,482.49 C617.66,483.41 620.77,483.88 623.84,484.30 C626.91,484.71 630.02,484.80 633.06,485.00 C636.10,485.19 639.07,485.35 642.07,485.47 C645.08,485.58 648.05,485.62 651.09,485.67 C654.12,485.71 657.10,485.72 660.30,485.73 C663.51,485.75 667.00,485.76 670.34,485.77" stroke="#3f74d0" stroke-width="1.05" fill="none"/>
<line x1="633.40" y1="391.90" x2="644.30" y2="391.90" stroke="#6fa8e0" stroke-width="1.0"/>
<text x="647.60" y="394.20" font-size="7.0" fill="#231f20" stroke="#231f20" stroke-width="0.15">Cycle 1</text>
<line x1="633.40" y1="402.20" x2="644.30" y2="402.20" stroke="#f4a6a6" stroke-width="1.0"/>
<text x="647.60" y="404.50" font-size="7.0" fill="#231f20" stroke="#231f20" stroke-width="0.15">Cycle 150</text>
<line x1="633.40" y1="412.60" x2="644.30" y2="412.60" stroke="#6aab4f" stroke-width="1.0"/>
<text x="647.60" y="414.90" font-size="7.0" fill="#231f20" stroke="#231f20" stroke-width="0.15">Cycle 200</text>
<line x1="633.40" y1="423.00" x2="644.30" y2="423.00" stroke="#f6c02b" stroke-width="1.0"/>
<text x="647.60" y="425.30" font-size="7.0" fill="#231f20" stroke="#231f20" stroke-width="0.15">Cycle 250</text>
<line x1="633.40" y1="433.40" x2="644.30" y2="433.40" stroke="#3f74d0" stroke-width="1.0"/>
<text x="647.60" y="435.70" font-size="7.0" fill="#231f20" stroke="#231f20" stroke-width="0.15">Cycle 300</text>
<line x1="540.00" y1="469.00" x2="547.70" y2="469.00" stroke="#333" stroke-width="0.9"/>
<path d="M538.30,469.00 L541.50,467.56 L541.50,470.44 Z" fill="#231f20"/>
<line x1="560.80" y1="469.00" x2="566.50" y2="469.00" stroke="#333" stroke-width="0.9"/>
<path d="M568.30,469.00 L565.10,470.44 L565.10,467.56 Z" fill="#231f20"/>
<line x1="571.50" y1="469.00" x2="632.40" y2="469.00" stroke="#333" stroke-width="0.9"/>
<path d="M569.60,469.00 L572.80,467.56 L572.80,470.44 Z" fill="#231f20"/>
<line x1="654.30" y1="469.00" x2="669.00" y2="469.00" stroke="#333" stroke-width="0.9"/>
<path d="M670.80,469.00 L667.60,470.44 L667.60,467.56 Z" fill="#231f20"/>
<text x="545.80" y="477.60" font-size="6.8" fill="#231f20" stroke="#231f20" stroke-width="0.15" textLength="28.00" lengthAdjust="spacingAndGlyphs" transform="rotate(-47 545.80 477.60)">Separator</text>
<text x="639.00" y="462.30" font-size="6.8" fill="#231f20" stroke="#231f20" stroke-width="0.15" textLength="23.00" lengthAdjust="spacingAndGlyphs" transform="rotate(-47 639.00 462.30)">NMC811</text>
<text x="634.80" y="478.30" font-size="6.8" fill="#231f20" stroke="#231f20" stroke-width="0.15" textLength="50.50" lengthAdjust="spacingAndGlyphs" transform="rotate(-47 634.80 478.30)">positive electrode</text>
<line x1="279.40" y1="8.50" x2="672.80" y2="8.50" stroke="#9a9a9a" stroke-width="0.8"/>
<line x1="672.80" y1="8.50" x2="672.80" y2="103.50" stroke="#b0b0b0" stroke-width="0.8"/>
<line x1="279.40" y1="103.50" x2="672.80" y2="103.50" stroke="#b0b0b0" stroke-width="0.8"/>
<line x1="279.40" y1="8.50" x2="279.40" y2="103.50" stroke="#555" stroke-width="0.8"/>
<line x1="277.30" y1="8.35" x2="279.40" y2="8.35" stroke="#666" stroke-width="0.7"/>
<text x="275.40" y="10.75" font-size="6.8" text-anchor="end" fill="#231f20" stroke="#231f20" stroke-width="0.15">5</text>
<line x1="277.30" y1="24.20" x2="279.40" y2="24.20" stroke="#666" stroke-width="0.7"/>
<text x="275.40" y="26.60" font-size="6.8" text-anchor="end" fill="#231f20" stroke="#231f20" stroke-width="0.15">0</text>
<line x1="277.30" y1="40.05" x2="279.40" y2="40.05" stroke="#666" stroke-width="0.7"/>
<text x="275.40" y="42.45" font-size="6.8" text-anchor="end" fill="#231f20" stroke="#231f20" stroke-width="0.15">-5</text>
<line x1="277.30" y1="55.90" x2="279.40" y2="55.90" stroke="#666" stroke-width="0.7"/>
<text x="275.40" y="58.30" font-size="6.8" text-anchor="end" fill="#231f20" stroke="#231f20" stroke-width="0.15">-10</text>
<line x1="277.30" y1="71.75" x2="279.40" y2="71.75" stroke="#666" stroke-width="0.7"/>
<text x="275.40" y="74.15" font-size="6.8" text-anchor="end" fill="#231f20" stroke="#231f20" stroke-width="0.15">-15</text>
<line x1="277.30" y1="87.60" x2="279.40" y2="87.60" stroke="#666" stroke-width="0.7"/>
<text x="275.40" y="90.00" font-size="6.8" text-anchor="end" fill="#231f20" stroke="#231f20" stroke-width="0.15">-20</text>
<line x1="277.30" y1="103.45" x2="279.40" y2="103.45" stroke="#666" stroke-width="0.7"/>
<text x="275.40" y="105.85" font-size="6.8" text-anchor="end" fill="#231f20" stroke="#231f20" stroke-width="0.15">-25</text>
<text x="254.60" y="9.20" font-size="12.5" fill="#231f20" font-weight="bold" stroke="#231f20" stroke-width="0.35">b</text>
<text x="262.00" y="56.00" font-size="7.4" text-anchor="middle" fill="#231f20" stroke="#231f20" stroke-width="0.15" transform="rotate(-90 262.00 56.00)">Free energy (eV)</text>
<text x="476.20" y="111.70" font-size="7.8" text-anchor="middle" fill="#231f20" stroke="#231f20" stroke-width="0.15">Reaction coordinate</text>
<text x="282.70" y="17.90" font-size="7.4" fill="#231f20" stroke="#231f20" stroke-width="0.15" textLength="45.00" lengthAdjust="spacingAndGlyphs">LiFSI reduction</text>
<line x1="279.40" y1="24.20" x2="319.20" y2="24.20" stroke="#5b9bd5" stroke-width="1.0"/>
<line x1="319.20" y1="24.20" x2="338.30" y2="42.30" stroke="#5b9bd5" stroke-width="0.8" stroke-dasharray="2,1.6"/>
<line x1="338.30" y1="42.30" x2="378.10" y2="42.30" stroke="#5b9bd5" stroke-width="1.0"/>
<line x1="378.10" y1="42.30" x2="397.20" y2="59.20" stroke="#5b9bd5" stroke-width="0.8" stroke-dasharray="2,1.6"/>
<line x1="397.20" y1="59.20" x2="438.00" y2="59.20" stroke="#5b9bd5" stroke-width="1.0"/>
<line x1="438.00" y1="59.20" x2="455.40" y2="66.90" stroke="#5b9bd5" stroke-width="0.8" stroke-dasharray="2,1.6"/>
<line x1="455.40" y1="66.90" x2="497.30" y2="66.90" stroke="#5b9bd5" stroke-width="1.0"/>
<line x1="497.30" y1="66.90" x2="514.70" y2="72.20" stroke="#5b9bd5" stroke-width="0.8" stroke-dasharray="2,1.6"/>
<line x1="514.70" y1="72.20" x2="555.60" y2="72.20" stroke="#5b9bd5" stroke-width="1.0"/>
<line x1="555.60" y1="72.20" x2="574.20" y2="80.00" stroke="#5b9bd5" stroke-width="0.8" stroke-dasharray="2,1.6"/>
<line x1="574.20" y1="80.00" x2="614.30" y2="80.00" stroke="#5b9bd5" stroke-width="1.0"/>
<line x1="614.30" y1="80.00" x2="633.40" y2="88.30" stroke="#5b9bd5" stroke-width="0.8" stroke-dasharray="2,1.6"/>
<line x1="633.40" y1="88.30" x2="672.80" y2="88.30" stroke="#5b9bd5" stroke-width="1.0"/>
<text x="308.30" y="35.60" font-size="7.0" fill="#231f20" stroke="#231f20" stroke-width="0.15" textLength="42.40" lengthAdjust="spacingAndGlyphs">ΔG<tspan font-size="4" dy="-2.4">‡</tspan><tspan dy="2.4"> = 0.06 eV</tspan></text>
<text x="367.50" y="52.10" font-size="7.0" fill="#231f20" stroke="#231f20" stroke-width="0.15" textLength="42.00" lengthAdjust="spacingAndGlyphs">ΔG<tspan font-size="4" dy="-2.4">‡</tspan><tspan dy="2.4"> = 0.00 eV</tspan></text>
<text x="399.20" y="73.10" font-size="7.0" fill="#231f20" stroke="#231f20" stroke-width="0.15" textLength="42.00" lengthAdjust="spacingAndGlyphs">ΔG<tspan font-size="4" dy="-2.4">‡</tspan><tspan dy="2.4"> = 0.49 eV</tspan></text>
<text x="458.50" y="81.00" font-size="7.0" fill="#231f20" stroke="#231f20" stroke-width="0.15" textLength="42.00" lengthAdjust="spacingAndGlyphs">ΔG<tspan font-size="4" dy="-2.4">‡</tspan><tspan dy="2.4"> = 0.47 eV</tspan></text>
<line x1="306.90" y1="43.60" x2="302.79" y2="28.45" stroke="#231f20" stroke-width="0.75"/>
<path d="M302.10,25.90 L304.40,28.70 L301.53,29.47 Z" fill="#231f20"/>
<line x1="366.60" y1="63.90" x2="359.93" y2="46.07" stroke="#231f20" stroke-width="0.75"/>
<path d="M359.00,43.60 L361.55,46.17 L358.77,47.21 Z" fill="#231f20"/>
<line x1="441.50" y1="70.50" x2="446.49" y2="64.61" stroke="#231f20" stroke-width="0.75"/>
<path d="M448.20,62.60 L447.20,66.08 L444.93,64.16 Z" fill="#231f20"/>
<line x1="500.60" y1="78.50" x2="505.84" y2="72.05" stroke="#231f20" stroke-width="0.75"/>
<path d="M507.50,70.00 L506.57,73.50 L504.27,71.63 Z" fill="#231f20"/>
<line x1="417.60" y1="44.90" x2="420.18" y2="52.79" stroke="#231f20" stroke-width="0.75"/>
<path d="M421.00,55.30 L418.56,52.62 L421.39,51.70 Z" fill="#231f20"/>
<line x1="480.00" y1="50.40" x2="483.32" y2="62.95" stroke="#231f20" stroke-width="0.75"/>
<path d="M484.00,65.50 L481.72,62.69 L484.59,61.93 Z" fill="#231f20"/>
<line x1="537.30" y1="63.50" x2="537.30" y2="67.86" stroke="#231f20" stroke-width="0.75"/>
<path d="M537.30,70.50 L535.81,67.20 L538.78,67.20 Z" fill="#231f20"/>
<line x1="587.00" y1="33.00" x2="599.16" y2="74.96" stroke="#231f20" stroke-width="0.75"/>
<path d="M599.90,77.50 L597.55,74.74 L600.41,73.92 Z" fill="#231f20"/>
<line x1="644.80" y1="79.00" x2="647.61" y2="85.20" stroke="#231f20" stroke-width="0.75"/>
<path d="M648.70,87.60 L645.98,85.21 L648.69,83.98 Z" fill="#231f20"/>
<circle cx="283.00" cy="73.30" r="1.15" fill="#7cc65a" stroke="#5aa33a" stroke-width="0.35"/>
<circle cx="290.05" cy="66.40" r="1.15" fill="#7cc65a" stroke="#5aa33a" stroke-width="0.35"/>
<circle cx="297.10" cy="73.30" r="1.15" fill="#7cc65a" stroke="#5aa33a" stroke-width="0.35"/>
<circle cx="304.15" cy="66.40" r="1.15" fill="#7cc65a" stroke="#5aa33a" stroke-width="0.35"/>
<circle cx="311.20" cy="73.30" r="1.15" fill="#7cc65a" stroke="#5aa33a" stroke-width="0.35"/>
<circle cx="318.25" cy="66.40" r="1.15" fill="#7cc65a" stroke="#5aa33a" stroke-width="0.35"/>
<circle cx="325.30" cy="73.30" r="1.15" fill="#7cc65a" stroke="#5aa33a" stroke-width="0.35"/>
<circle cx="332.35" cy="66.40" r="1.15" fill="#7cc65a" stroke="#5aa33a" stroke-width="0.35"/>
<circle cx="336.90" cy="95.60" r="1.15" fill="#7cc65a" stroke="#5aa33a" stroke-width="0.35"/>
<circle cx="343.95" cy="88.00" r="1.15" fill="#7cc65a" stroke="#5aa33a" stroke-width="0.35"/>
<circle cx="351.00" cy="95.60" r="1.15" fill="#7cc65a" stroke="#5aa33a" stroke-width="0.35"/>
<circle cx="358.05" cy="88.00" r="1.15" fill="#7cc65a" stroke="#5aa33a" stroke-width="0.35"/>
<circle cx="365.10" cy="95.60" r="1.15" fill="#7cc65a" stroke="#5aa33a" stroke-width="0.35"/>
<circle cx="372.15" cy="88.00" r="1.15" fill="#7cc65a" stroke="#5aa33a" stroke-width="0.35"/>
<circle cx="379.20" cy="95.60" r="1.15" fill="#7cc65a" stroke="#5aa33a" stroke-width="0.35"/>
<circle cx="386.25" cy="88.00" r="1.15" fill="#7cc65a" stroke="#5aa33a" stroke-width="0.35"/>
<circle cx="390.60" cy="41.50" r="1.15" fill="#7cc65a" stroke="#5aa33a" stroke-width="0.35"/>
<circle cx="397.65" cy="34.30" r="1.15" fill="#7cc65a" stroke="#5aa33a" stroke-width="0.35"/>
<circle cx="404.70" cy="41.50" r="1.15" fill="#7cc65a" stroke="#5aa33a" stroke-width="0.35"/>
<circle cx="411.75" cy="34.30" r="1.15" fill="#7cc65a" stroke="#5aa33a" stroke-width="0.35"/>
<circle cx="418.80" cy="41.50" r="1.15" fill="#7cc65a" stroke="#5aa33a" stroke-width="0.35"/>
<circle cx="425.85" cy="34.30" r="1.15" fill="#7cc65a" stroke="#5aa33a" stroke-width="0.35"/>
<circle cx="432.90" cy="41.50" r="1.15" fill="#7cc65a" stroke="#5aa33a" stroke-width="0.35"/>
<circle cx="439.95" cy="34.30" r="1.15" fill="#7cc65a" stroke="#5aa33a" stroke-width="0.35"/>
<circle cx="451.60" cy="45.70" r="1.15" fill="#7cc65a" stroke="#5aa33a" stroke-width="0.35"/>
<circle cx="458.65" cy="38.30" r="1.15" fill="#7cc65a" stroke="#5aa33a" stroke-width="0.35"/>
<circle cx="465.70" cy="45.70" r="1.15" fill="#7cc65a" stroke="#5aa33a" stroke-width="0.35"/>
<circle cx="472.75" cy="38.30" r="1.15" fill="#7cc65a" stroke="#5aa33a" stroke-width="0.35"/>
<circle cx="479.80" cy="45.70" r="1.15" fill="#7cc65a" stroke="#5aa33a" stroke-width="0.35"/>
<circle cx="486.85" cy="38.30" r="1.15" fill="#7cc65a" stroke="#5aa33a" stroke-width="0.35"/>
<circle cx="493.90" cy="45.70" r="1.15" fill="#7cc65a" stroke="#5aa33a" stroke-width="0.35"/>
<circle cx="500.95" cy="38.30" r="1.15" fill="#7cc65a" stroke="#5aa33a" stroke-width="0.35"/>
<circle cx="513.50" cy="62.80" r="1.15" fill="#7cc65a" stroke="#5aa33a" stroke-width="0.35"/>
<circle cx="520.55" cy="56.40" r="1.15" fill="#7cc65a" stroke="#5aa33a" stroke-width="0.35"/>
<circle cx="527.60" cy="62.80" r="1.15" fill="#7cc65a" stroke="#5aa33a" stroke-width="0.35"/>
<circle cx="534.65" cy="56.40" r="1.15" fill="#7cc65a" stroke="#5aa33a" stroke-width="0.35"/>
<circle cx="541.70" cy="62.80" r="1.15" fill="#7cc65a" stroke="#5aa33a" stroke-width="0.35"/>
<circle cx="548.75" cy="56.40" r="1.15" fill="#7cc65a" stroke="#5aa33a" stroke-width="0.35"/>
<circle cx="555.80" cy="62.80" r="1.15" fill="#7cc65a" stroke="#5aa33a" stroke-width="0.35"/>
<circle cx="562.85" cy="56.40" r="1.15" fill="#7cc65a" stroke="#5aa33a" stroke-width="0.35"/>
<circle cx="568.10" cy="33.90" r="1.15" fill="#7cc65a" stroke="#5aa33a" stroke-width="0.35"/>
<circle cx="575.15" cy="28.50" r="1.15" fill="#7cc65a" stroke="#5aa33a" stroke-width="0.35"/>
<circle cx="582.20" cy="33.90" r="1.15" fill="#7cc65a" stroke="#5aa33a" stroke-width="0.35"/>
<circle cx="589.25" cy="28.50" r="1.15" fill="#7cc65a" stroke="#5aa33a" stroke-width="0.35"/>
<circle cx="596.30" cy="33.90" r="1.15" fill="#7cc65a" stroke="#5aa33a" stroke-width="0.35"/>
<circle cx="603.35" cy="28.50" r="1.15" fill="#7cc65a" stroke="#5aa33a" stroke-width="0.35"/>
<circle cx="610.40" cy="33.90" r="1.15" fill="#7cc65a" stroke="#5aa33a" stroke-width="0.35"/>
<circle cx="617.45" cy="28.50" r="1.15" fill="#7cc65a" stroke="#5aa33a" stroke-width="0.35"/>
<circle cx="616.30" cy="74.10" r="1.15" fill="#7cc65a" stroke="#5aa33a" stroke-width="0.35"/>
<circle cx="623.35" cy="67.00" r="1.15" fill="#7cc65a" stroke="#5aa33a" stroke-width="0.35"/>
<circle cx="630.40" cy="74.10" r="1.15" fill="#7cc65a" stroke="#5aa33a" stroke-width="0.35"/>
<circle cx="637.45" cy="67.00" r="1.15" fill="#7cc65a" stroke="#5aa33a" stroke-width="0.35"/>
<circle cx="644.50" cy="74.10" r="1.15" fill="#7cc65a" stroke="#5aa33a" stroke-width="0.35"/>
<circle cx="651.55" cy="67.00" r="1.15" fill="#7cc65a" stroke="#5aa33a" stroke-width="0.35"/>
<circle cx="658.60" cy="74.10" r="1.15" fill="#7cc65a" stroke="#5aa33a" stroke-width="0.35"/>
<circle cx="665.65" cy="67.00" r="1.15" fill="#7cc65a" stroke="#5aa33a" stroke-width="0.35"/>
<text x="318.60" y="60.56" font-size="4.6" text-anchor="middle" fill="#262626" stroke="#262626" stroke-width="0.1">N</text>
<text x="312.80" y="56.86" font-size="4.6" text-anchor="middle" fill="#262626" stroke="#262626" stroke-width="0.1">S</text>
<text x="324.70" y="56.86" font-size="4.6" text-anchor="middle" fill="#262626" stroke="#262626" stroke-width="0.1">S</text>
<line x1="317.10" y1="58.10" x2="314.10" y2="56.20" stroke="#262626" stroke-width="0.45"/>
<line x1="320.10" y1="58.10" x2="323.40" y2="56.20" stroke="#262626" stroke-width="0.45"/>
<text x="312.80" y="50.06" font-size="4.6" text-anchor="middle" fill="#262626" stroke="#262626" stroke-width="0.1">O</text>
<text x="324.70" y="50.06" font-size="4.6" text-anchor="middle" fill="#262626" stroke="#262626" stroke-width="0.1">O</text>
<line x1="313.35" y1="53.30" x2="313.35" y2="50.30" stroke="#262626" stroke-width="0.4"/>
<line x1="312.25" y1="53.30" x2="312.25" y2="50.30" stroke="#262626" stroke-width="0.4"/>
<line x1="325.25" y1="53.30" x2="325.25" y2="50.30" stroke="#262626" stroke-width="0.4"/>
<line x1="324.15" y1="53.30" x2="324.15" y2="50.30" stroke="#262626" stroke-width="0.4"/>
<text x="306.40" y="52.46" font-size="4.6" text-anchor="middle" fill="#262626" stroke="#262626" stroke-width="0.1">F</text>
<line x1="311.40" y1="54.00" x2="307.60" y2="51.90" stroke="#262626" stroke-width="0.45"/>
<text x="306.90" y="60.16" font-size="4.6" text-anchor="middle" fill="#262626" stroke="#262626" stroke-width="0.1">O</text>
<line x1="311.06" y1="55.70" x2="308.16" y2="57.10" stroke="#262626" stroke-width="0.4"/>
<line x1="311.54" y1="56.70" x2="308.64" y2="58.10" stroke="#262626" stroke-width="0.4"/>
<text x="330.70" y="52.46" font-size="4.6" text-anchor="middle" fill="#262626" stroke="#262626" stroke-width="0.1">F</text>
<line x1="326.10" y1="54.00" x2="329.60" y2="51.90" stroke="#262626" stroke-width="0.45"/>
<text x="330.70" y="60.16" font-size="4.6" text-anchor="middle" fill="#262626" stroke="#262626" stroke-width="0.1">O</text>
<line x1="325.97" y1="56.70" x2="328.97" y2="58.10" stroke="#262626" stroke-width="0.4"/>
<line x1="326.43" y1="55.70" x2="329.43" y2="57.10" stroke="#262626" stroke-width="0.4"/>
<text x="371.90" y="82.36" font-size="4.6" text-anchor="middle" fill="#262626" stroke="#262626" stroke-width="0.1">N</text>
<text x="366.10" y="78.66" font-size="4.6" text-anchor="middle" fill="#262626" stroke="#262626" stroke-width="0.1">S</text>
<text x="378.00" y="78.66" font-size="4.6" text-anchor="middle" fill="#262626" stroke="#262626" stroke-width="0.1">S</text>
<line x1="370.40" y1="79.90" x2="367.40" y2="78.00" stroke="#262626" stroke-width="0.45"/>
<line x1="373.40" y1="79.90" x2="376.70" y2="78.00" stroke="#262626" stroke-width="0.45"/>
<text x="366.10" y="71.86" font-size="4.6" text-anchor="middle" fill="#262626" stroke="#262626" stroke-width="0.1">O</text>
<text x="378.00" y="71.86" font-size="4.6" text-anchor="middle" fill="#262626" stroke="#262626" stroke-width="0.1">O</text>
<line x1="366.65" y1="75.10" x2="366.65" y2="72.10" stroke="#262626" stroke-width="0.4"/>
<line x1="365.55" y1="75.10" x2="365.55" y2="72.10" stroke="#262626" stroke-width="0.4"/>
<line x1="378.55" y1="75.10" x2="378.55" y2="72.10" stroke="#262626" stroke-width="0.4"/>
<line x1="377.45" y1="75.10" x2="377.45" y2="72.10" stroke="#262626" stroke-width="0.4"/>
<text x="359.70" y="74.26" font-size="4.6" text-anchor="middle" fill="#262626" stroke="#262626" stroke-width="0.1">F</text>
<line x1="364.70" y1="75.80" x2="360.90" y2="73.70" stroke="#262626" stroke-width="0.45"/>
<text x="360.20" y="81.96" font-size="4.6" text-anchor="middle" fill="#262626" stroke="#262626" stroke-width="0.1">O</text>
<line x1="364.36" y1="77.50" x2="361.46" y2="78.90" stroke="#262626" stroke-width="0.4"/>
<line x1="364.84" y1="78.50" x2="361.94" y2="79.90" stroke="#262626" stroke-width="0.4"/>
<text x="384.00" y="74.26" font-size="4.6" text-anchor="middle" fill="#262626" stroke="#262626" stroke-width="0.1">F</text>
<line x1="379.40" y1="75.80" x2="382.90" y2="73.70" stroke="#262626" stroke-width="0.45"/>
<text x="384.00" y="81.96" font-size="4.6" text-anchor="middle" fill="#262626" stroke="#262626" stroke-width="0.1">O</text>
<line x1="379.27" y1="78.50" x2="382.27" y2="79.90" stroke="#262626" stroke-width="0.4"/>
<line x1="379.73" y1="77.50" x2="382.73" y2="78.90" stroke="#262626" stroke-width="0.4"/>
<text x="425.60" y="28.06" font-size="4.6" text-anchor="middle" fill="#262626" stroke="#262626" stroke-width="0.1">N</text>
<text x="419.80" y="24.36" font-size="4.6" text-anchor="middle" fill="#262626" stroke="#262626" stroke-width="0.1">S</text>
<text x="431.70" y="24.36" font-size="4.6" text-anchor="middle" fill="#262626" stroke="#262626" stroke-width="0.1">S</text>
<line x1="424.10" y1="25.60" x2="421.10" y2="23.70" stroke="#262626" stroke-width="0.45"/>
<line x1="427.10" y1="25.60" x2="430.40" y2="23.70" stroke="#262626" stroke-width="0.45"/>
<text x="419.80" y="17.56" font-size="4.6" text-anchor="middle" fill="#262626" stroke="#262626" stroke-width="0.1">O</text>
<text x="431.70" y="17.56" font-size="4.6" text-anchor="middle" fill="#262626" stroke="#262626" stroke-width="0.1">O</text>
<line x1="420.35" y1="20.80" x2="420.35" y2="17.80" stroke="#262626" stroke-width="0.4"/>
<line x1="419.25" y1="20.80" x2="419.25" y2="17.80" stroke="#262626" stroke-width="0.4"/>
<line x1="432.25" y1="20.80" x2="432.25" y2="17.80" stroke="#262626" stroke-width="0.4"/>
<line x1="431.15" y1="20.80" x2="431.15" y2="17.80" stroke="#262626" stroke-width="0.4"/>
<text x="413.90" y="27.66" font-size="4.6" text-anchor="middle" fill="#262626" stroke="#262626" stroke-width="0.1">O</text>
<line x1="418.06" y1="23.20" x2="415.16" y2="24.60" stroke="#262626" stroke-width="0.4"/>
<line x1="418.54" y1="24.20" x2="415.64" y2="25.60" stroke="#262626" stroke-width="0.4"/>
<text x="437.70" y="27.66" font-size="4.6" text-anchor="middle" fill="#262626" stroke="#262626" stroke-width="0.1">O</text>
<line x1="432.97" y1="24.20" x2="435.97" y2="25.60" stroke="#262626" stroke-width="0.4"/>
<line x1="433.43" y1="23.20" x2="436.43" y2="24.60" stroke="#262626" stroke-width="0.4"/>
<text x="487.10" y="32.16" font-size="4.6" text-anchor="middle" fill="#262626" stroke="#262626" stroke-width="0.1">N</text>
<text x="481.30" y="28.46" font-size="4.6" text-anchor="middle" fill="#262626" stroke="#262626" stroke-width="0.1">S</text>
<text x="493.20" y="28.46" font-size="4.6" text-anchor="middle" fill="#262626" stroke="#262626" stroke-width="0.1">S</text>
<line x1="485.60" y1="29.70" x2="482.60" y2="27.80" stroke="#262626" stroke-width="0.45"/>
<line x1="488.60" y1="29.70" x2="491.90" y2="27.80" stroke="#262626" stroke-width="0.45"/>
<text x="475.40" y="31.76" font-size="4.6" text-anchor="middle" fill="#262626" stroke="#262626" stroke-width="0.1">O</text>
<line x1="479.56" y1="27.30" x2="476.66" y2="28.70" stroke="#262626" stroke-width="0.4"/>
<line x1="480.04" y1="28.30" x2="477.14" y2="29.70" stroke="#262626" stroke-width="0.4"/>
<text x="499.20" y="31.76" font-size="4.6" text-anchor="middle" fill="#262626" stroke="#262626" stroke-width="0.1">O</text>
<line x1="494.47" y1="28.30" x2="497.47" y2="29.70" stroke="#262626" stroke-width="0.4"/>
<line x1="494.93" y1="27.30" x2="497.93" y2="28.70" stroke="#262626" stroke-width="0.4"/>
<text x="481.30" y="21.96" font-size="4.6" text-anchor="middle" fill="#262626" stroke="#262626" stroke-width="0.1">O</text>
<line x1="480.75" y1="22.20" x2="480.75" y2="25.00" stroke="#262626" stroke-width="0.4"/>
<line x1="481.85" y1="22.20" x2="481.85" y2="25.00" stroke="#262626" stroke-width="0.4"/>
<text x="520.60" y="50.26" font-size="4.6" text-anchor="middle" fill="#262626" stroke="#262626" stroke-width="0.1">O</text>
<text x="526.60" y="47.06" font-size="4.6" text-anchor="middle" fill="#262626" stroke="#262626" stroke-width="0.1">S</text>
<text x="532.60" y="50.26" font-size="4.6" text-anchor="middle" fill="#262626" stroke="#262626" stroke-width="0.1">O</text>
<line x1="522.27" y1="48.48" x2="525.47" y2="46.68" stroke="#262626" stroke-width="0.4"/>
<line x1="521.73" y1="47.52" x2="524.93" y2="45.72" stroke="#262626" stroke-width="0.4"/>
<line x1="527.73" y1="46.68" x2="530.93" y2="48.48" stroke="#262626" stroke-width="0.4"/>
<line x1="528.27" y1="45.72" x2="531.47" y2="47.52" stroke="#262626" stroke-width="0.4"/>
<text x="540.30" y="50.26" font-size="4.6" text-anchor="middle" fill="#262626" stroke="#262626" stroke-width="0.1">N</text>
<text x="546.30" y="47.06" font-size="4.6" text-anchor="middle" fill="#262626" stroke="#262626" stroke-width="0.1">S</text>
<text x="552.30" y="50.26" font-size="4.6" text-anchor="middle" fill="#262626" stroke="#262626" stroke-width="0.1">O</text>
<line x1="541.97" y1="48.48" x2="545.17" y2="46.68" stroke="#262626" stroke-width="0.4"/>
<line x1="541.43" y1="47.52" x2="544.63" y2="45.72" stroke="#262626" stroke-width="0.4"/>
<line x1="547.43" y1="46.68" x2="550.63" y2="48.48" stroke="#262626" stroke-width="0.4"/>
<line x1="547.97" y1="45.72" x2="551.17" y2="47.52" stroke="#262626" stroke-width="0.4"/>
<text x="576.50" y="22.26" font-size="4.6" text-anchor="middle" fill="#262626" stroke="#262626" stroke-width="0.1">O</text>
<text x="584.00" y="19.06" font-size="4.6" text-anchor="middle" fill="#262626" stroke="#262626" stroke-width="0.1">S</text>
<text x="591.50" y="22.26" font-size="4.6" text-anchor="middle" fill="#262626" stroke="#262626" stroke-width="0.1">O</text>
<line x1="578.10" y1="20.51" x2="582.80" y2="18.71" stroke="#262626" stroke-width="0.4"/>
<line x1="577.70" y1="19.49" x2="582.40" y2="17.69" stroke="#262626" stroke-width="0.4"/>
<line x1="585.20" y1="18.71" x2="589.90" y2="20.51" stroke="#262626" stroke-width="0.4"/>
<line x1="585.60" y1="17.69" x2="590.30" y2="19.49" stroke="#262626" stroke-width="0.4"/>
<text x="585.40" y="13.26" font-size="4.6" text-anchor="middle" fill="#262626" stroke="#262626" stroke-width="0.1"></text>
<text x="603.50" y="21.26" font-size="4.6" text-anchor="middle" fill="#262626" stroke="#262626" stroke-width="0.1">N</text>
<text x="608.50" y="18.06" font-size="4.6" text-anchor="middle" fill="#262626" stroke="#262626" stroke-width="0.1">S</text>
<text x="613.50" y="21.26" font-size="4.6" text-anchor="middle" fill="#262626" stroke="#262626" stroke-width="0.1"></text>
<line x1="605.25" y1="19.43" x2="607.45" y2="17.63" stroke="#262626" stroke-width="0.4"/>
<line x1="604.55" y1="18.57" x2="606.75" y2="16.77" stroke="#262626" stroke-width="0.4"/>
<line x1="609.55" y1="17.63" x2="611.75" y2="19.43" stroke="#262626" stroke-width="0.4"/>
<line x1="610.25" y1="16.77" x2="612.45" y2="18.57" stroke="#262626" stroke-width="0.4"/>
<text x="625.90" y="60.66" font-size="4.6" text-anchor="middle" fill="#262626" stroke="#262626" stroke-width="0.1">O</text>
<text x="633.40" y="57.46" font-size="4.6" text-anchor="middle" fill="#262626" stroke="#262626" stroke-width="0.1">S</text>
<text x="640.90" y="60.66" font-size="4.6" text-anchor="middle" fill="#262626" stroke="#262626" stroke-width="0.1">O</text>
<line x1="627.50" y1="58.91" x2="632.20" y2="57.11" stroke="#262626" stroke-width="0.4"/>
<line x1="627.10" y1="57.89" x2="631.80" y2="56.09" stroke="#262626" stroke-width="0.4"/>
<line x1="634.60" y1="57.11" x2="639.30" y2="58.91" stroke="#262626" stroke-width="0.4"/>
<line x1="635.00" y1="56.09" x2="639.70" y2="57.89" stroke="#262626" stroke-width="0.4"/>
<line x1="343.60" y1="79.50" x2="343.60" y2="86.30" stroke="#555" stroke-width="0.5" stroke-dasharray="0.8,0.8"/>
<text x="343.60" y="79.26" font-size="4.6" text-anchor="middle" fill="#262626" stroke="#262626" stroke-width="0.1">F</text>
<text x="343.00" y="71.70" font-size="6.4" fill="#231f20" stroke="#231f20" stroke-width="0.15" textLength="8.60" lengthAdjust="spacingAndGlyphs">LiF</text>
<line x1="437.00" y1="22.20" x2="443.97" y2="19.98" stroke="#231f20" stroke-width="0.6" stroke-dasharray="1.2,0.8"/>
<path d="M445.80,19.40 L443.84,21.16 L443.19,19.10 Z" fill="#231f20"/>
<text x="447.50" y="21.30" font-size="6.6" fill="#231f20" stroke="#231f20" stroke-width="0.15" textLength="15.20" lengthAdjust="spacingAndGlyphs">S: 4+</text>
<text x="397.20" y="25.46" font-size="4.6" text-anchor="middle" fill="#262626" stroke="#262626" stroke-width="0.1">F</text>
<line x1="397.20" y1="25.50" x2="397.20" y2="32.50" stroke="#555" stroke-width="0.5" stroke-dasharray="0.8,0.8"/>
<line x1="384.80" y1="79.80" x2="396.38" y2="83.60" stroke="#231f20" stroke-width="0.6" stroke-dasharray="1.2,0.8"/>
<path d="M398.20,84.20 L395.58,84.48 L396.26,82.43 Z" fill="#231f20"/>
<text x="399.20" y="89.80" font-size="6.6" fill="#231f20" stroke="#231f20" stroke-width="0.15" textLength="25.00" lengthAdjust="spacingAndGlyphs">S: 6+/4+</text>
<text x="493.70" y="55.66" font-size="4.6" text-anchor="middle" fill="#262626" stroke="#262626" stroke-width="0.1">O</text>
<line x1="493.70" y1="47.00" x2="493.70" y2="52.00" stroke="#555" stroke-width="0.5" stroke-dasharray="0.8,0.8"/>
<text x="491.20" y="63.90" font-size="6.6" fill="#231f20" stroke="#231f20" stroke-width="0.15">Li<tspan font-size="4.5" dy="1.5">2</tspan><tspan dy="-1.5">O</tspan></text>
<text x="610.50" y="46.66" font-size="4.6" text-anchor="middle" fill="#262626" stroke="#262626" stroke-width="0.1">O</text>
<line x1="610.50" y1="35.20" x2="610.50" y2="43.00" stroke="#555" stroke-width="0.5" stroke-dasharray="0.8,0.8"/>
<text x="638.40" y="51.40" font-size="6.6" fill="#231f20" stroke="#231f20" stroke-width="0.15">Li<tspan font-size="4.5" dy="1.5">3</tspan><tspan dy="-1.5">N</tspan></text>
<text x="658.30" y="51.40" font-size="6.6" fill="#231f20" stroke="#231f20" stroke-width="0.15">Li<tspan font-size="4.5" dy="1.5">2</tspan><tspan dy="-1.5">S</tspan></text>
<text x="653.80" y="24.10" font-size="6.6" fill="#231f20" stroke="#231f20" stroke-width="0.15" textLength="15.00" lengthAdjust="spacingAndGlyphs">S: 2−</text>
<line x1="664.50" y1="44.00" x2="661.07" y2="32.00" stroke="#231f20" stroke-width="0.6" stroke-dasharray="1,1.2"/>
<path d="M660.50,30.00 L662.34,32.18 L660.09,32.82 Z" fill="#231f20"/>
<text x="644.50" y="58.44" font-size="4.0" text-anchor="middle" fill="#262626" stroke="#262626" stroke-width="0.1">N</text>
<line x1="644.50" y1="59.00" x2="644.50" y2="65.50" stroke="#555" stroke-width="0.5" stroke-dasharray="0.8,0.8"/>
<text x="665.70" y="58.44" font-size="4.0" text-anchor="middle" fill="#262626" stroke="#262626" stroke-width="0.1">S</text>
<line x1="665.70" y1="59.00" x2="665.70" y2="65.50" stroke="#555" stroke-width="0.5" stroke-dasharray="0.8,0.8"/>
<text x="658.60" y="86.06" font-size="4.6" text-anchor="middle" fill="#262626" stroke="#262626" stroke-width="0.1">O</text>
<line x1="658.60" y1="75.50" x2="658.60" y2="82.20" stroke="#555" stroke-width="0.5" stroke-dasharray="0.8,0.8"/>
<circle cx="660.30" cy="97.50" r="1.25" fill="#7cc65a" stroke="#5aa33a" stroke-width="0.35"/>
<text x="662.30" y="99.60" font-size="6.6" fill="#231f20" stroke="#231f20" stroke-width="0.15">Li</text>
<line x1="278.30" y1="125.70" x2="412.20" y2="125.70" stroke="#9a9a9a" stroke-width="0.8"/>
<line x1="412.20" y1="125.70" x2="412.20" y2="221.10" stroke="#b0b0b0" stroke-width="0.8"/>
<line x1="278.30" y1="221.10" x2="412.20" y2="221.10" stroke="#b0b0b0" stroke-width="0.8"/>
<line x1="278.30" y1="125.70" x2="278.30" y2="221.10" stroke="#555" stroke-width="0.8"/>
<line x1="276.20" y1="126.22" x2="278.30" y2="126.22" stroke="#666" stroke-width="0.7"/>
<text x="274.30" y="128.62" font-size="6.8" text-anchor="end" fill="#231f20" stroke="#231f20" stroke-width="0.15">1</text>
<line x1="276.20" y1="145.30" x2="278.30" y2="145.30" stroke="#666" stroke-width="0.7"/>
<text x="274.30" y="147.70" font-size="6.8" text-anchor="end" fill="#231f20" stroke="#231f20" stroke-width="0.15">0</text>
<line x1="276.20" y1="164.38" x2="278.30" y2="164.38" stroke="#666" stroke-width="0.7"/>
<text x="274.30" y="166.78" font-size="6.8" text-anchor="end" fill="#231f20" stroke="#231f20" stroke-width="0.15">-1</text>
<line x1="276.20" y1="183.46" x2="278.30" y2="183.46" stroke="#666" stroke-width="0.7"/>
<text x="274.30" y="185.86" font-size="6.8" text-anchor="end" fill="#231f20" stroke="#231f20" stroke-width="0.15">-2</text>
<line x1="276.20" y1="202.54" x2="278.30" y2="202.54" stroke="#666" stroke-width="0.7"/>
<text x="274.30" y="204.94" font-size="6.8" text-anchor="end" fill="#231f20" stroke="#231f20" stroke-width="0.15">-3</text>
<line x1="276.20" y1="221.62" x2="278.30" y2="221.62" stroke="#666" stroke-width="0.7"/>
<text x="274.30" y="224.02" font-size="6.8" text-anchor="end" fill="#231f20" stroke="#231f20" stroke-width="0.15">-4</text>
<text x="255.40" y="125.70" font-size="12.5" fill="#231f20" font-weight="bold" stroke="#231f20" stroke-width="0.35">c</text>
<text x="262.00" y="173.40" font-size="7.4" text-anchor="middle" fill="#231f20" stroke="#231f20" stroke-width="0.15" transform="rotate(-90 262.00 173.40)">Free energy (eV)</text>
<text x="345.40" y="229.80" font-size="7.8" text-anchor="middle" fill="#231f20" stroke="#231f20" stroke-width="0.15">Reaction coordinate</text>
<text x="282.10" y="217.60" font-size="7.2" fill="#231f20" stroke="#231f20" stroke-width="0.15" textLength="42.50" lengthAdjust="spacingAndGlyphs">DME reduction</text>
<line x1="278.30" y1="145.30" x2="312.60" y2="145.30" stroke="#5b9bd5" stroke-width="1.0"/>
<line x1="312.60" y1="145.30" x2="328.70" y2="210.00" stroke="#5b9bd5" stroke-width="0.8" stroke-dasharray="2,1.6"/>
<line x1="328.70" y1="210.00" x2="364.30" y2="210.00" stroke="#5b9bd5" stroke-width="1.0"/>
<line x1="364.30" y1="210.00" x2="379.10" y2="207.00" stroke="#5b9bd5" stroke-width="0.8" stroke-dasharray="2,1.6"/>
<line x1="379.10" y1="207.00" x2="412.20" y2="207.00" stroke="#5b9bd5" stroke-width="1.0"/>
<text x="299.80" y="165.80" font-size="7.0" fill="#231f20" stroke="#231f20" stroke-width="0.15" textLength="40.80" lengthAdjust="spacingAndGlyphs">ΔG<tspan font-size="4" dy="-2.4">‡</tspan><tspan dy="2.4"> = 0.62 eV</tspan></text>
<path d="M322.3,137.9 C316,132 305,133 299.5,140.8" stroke="#231f20" stroke-width="0.9" fill="none"/>
<path d="M298.20,142.60 L298.81,139.37 L301.03,140.92 Z" fill="#231f20"/>
<path d="M325.70,137.30 L334.20,137.30" stroke="#262626" stroke-width="0.55" fill="none"/>
<circle cx="335.60" cy="137.30" r="1.25" fill="#fff" stroke="#262626" stroke-width="0.5"/>
<path d="M336.60,136.20 L340.60,129.40 L349.30,129.40 L353.20,136.20" stroke="#262626" stroke-width="0.55" fill="none"/>
<circle cx="354.20" cy="137.30" r="1.25" fill="#fff" stroke="#262626" stroke-width="0.5"/>
<path d="M355.60,137.30 L364.10,137.30" stroke="#262626" stroke-width="0.55" fill="none"/>
<circle cx="324.30" cy="143.70" r="1.25" fill="#7cc65a" stroke="#5aa33a" stroke-width="0.35"/>
<circle cx="338.40" cy="143.70" r="1.25" fill="#7cc65a" stroke="#5aa33a" stroke-width="0.35"/>
<circle cx="352.50" cy="143.70" r="1.25" fill="#7cc65a" stroke="#5aa33a" stroke-width="0.35"/>
<circle cx="366.90" cy="143.70" r="1.25" fill="#7cc65a" stroke="#5aa33a" stroke-width="0.35"/>
<circle cx="317.30" cy="150.60" r="1.25" fill="#7cc65a" stroke="#5aa33a" stroke-width="0.35"/>
<circle cx="331.40" cy="150.60" r="1.25" fill="#7cc65a" stroke="#5aa33a" stroke-width="0.35"/>
<circle cx="345.80" cy="150.60" r="1.25" fill="#7cc65a" stroke="#5aa33a" stroke-width="0.35"/>
<circle cx="360.00" cy="150.60" r="1.25" fill="#7cc65a" stroke="#5aa33a" stroke-width="0.35"/>
<circle cx="401.20" cy="132.30" r="1.25" fill="#7cc65a" stroke="#5aa33a" stroke-width="0.35"/>
<text x="403.00" y="134.50" font-size="6.6" fill="#231f20" stroke="#231f20" stroke-width="0.15">Li</text>
<text x="390.30" y="154.60" font-size="6.8" text-anchor="middle" fill="#231f20" stroke="#231f20" stroke-width="0.15" textLength="37.00" lengthAdjust="spacingAndGlyphs">Poly(methyl</text>
<text x="390.30" y="161.60" font-size="6.8" text-anchor="middle" fill="#231f20" stroke="#231f20" stroke-width="0.15" textLength="35.00" lengthAdjust="spacingAndGlyphs">vinyl ether)</text>
<line x1="393.40" y1="173.80" x2="392.65" y2="168.00" stroke="#231f20" stroke-width="0.6" stroke-dasharray="0.8,1.2"/>
<path d="M392.40,166.10 L393.78,168.34 L391.64,168.62 Z" fill="#231f20"/>
<text x="358.70" y="172.80" font-size="6.8" fill="#231f20" stroke="#231f20" stroke-width="0.15" textLength="9.50" lengthAdjust="spacingAndGlyphs">LiH</text>
<text x="363.30" y="179.50" font-size="3.6" text-anchor="middle" fill="#262626" stroke="#262626" stroke-width="0.1">H</text>
<line x1="363.30" y1="180.00" x2="363.30" y2="187.00" stroke="#444" stroke-width="0.5" stroke-dasharray="0.8,0.8"/>
<path d="M288.90,179.20 L296.60,179.20" stroke="#262626" stroke-width="0.55" fill="none"/>
<circle cx="298.00" cy="179.40" r="1.25" fill="#fff" stroke="#262626" stroke-width="0.5"/>
<line x1="297.70" y1="181.00" x2="297.70" y2="188.50" stroke="#444" stroke-width="0.55" stroke-dasharray="1,0.9"/>
<line x1="311.30" y1="180.50" x2="311.30" y2="188.50" stroke="#444" stroke-width="0.55" stroke-dasharray="1,0.9"/>
<path d="M311.30,179.90 L320.00,175.90 L325.80,180.60" stroke="#262626" stroke-width="0.55" fill="none"/>
<circle cx="326.90" cy="181.20" r="1.25" fill="#fff" stroke="#262626" stroke-width="0.5"/>
<path d="M328.10,180.60 L335.30,178.10" stroke="#262626" stroke-width="0.55" fill="none"/>
<circle cx="297.80" cy="190.20" r="1.25" fill="#7cc65a" stroke="#5aa33a" stroke-width="0.35"/>
<circle cx="311.60" cy="190.20" r="1.25" fill="#7cc65a" stroke="#5aa33a" stroke-width="0.35"/>
<circle cx="326.00" cy="190.20" r="1.25" fill="#7cc65a" stroke="#5aa33a" stroke-width="0.35"/>
<circle cx="340.30" cy="190.20" r="1.25" fill="#7cc65a" stroke="#5aa33a" stroke-width="0.35"/>
<circle cx="290.60" cy="197.40" r="1.25" fill="#7cc65a" stroke="#5aa33a" stroke-width="0.35"/>
<circle cx="304.70" cy="197.40" r="1.25" fill="#7cc65a" stroke="#5aa33a" stroke-width="0.35"/>
<circle cx="318.80" cy="197.40" r="1.25" fill="#7cc65a" stroke="#5aa33a" stroke-width="0.35"/>
<circle cx="333.00" cy="197.40" r="1.25" fill="#7cc65a" stroke="#5aa33a" stroke-width="0.35"/>
<circle cx="363.60" cy="188.60" r="1.25" fill="#7cc65a" stroke="#5aa33a" stroke-width="0.35"/>
<circle cx="377.90" cy="188.60" r="1.25" fill="#7cc65a" stroke="#5aa33a" stroke-width="0.35"/>
<circle cx="392.00" cy="188.60" r="1.25" fill="#7cc65a" stroke="#5aa33a" stroke-width="0.35"/>
<circle cx="406.00" cy="188.60" r="1.25" fill="#7cc65a" stroke="#5aa33a" stroke-width="0.35"/>
<circle cx="356.90" cy="195.70" r="1.25" fill="#7cc65a" stroke="#5aa33a" stroke-width="0.35"/>
<circle cx="371.00" cy="195.70" r="1.25" fill="#7cc65a" stroke="#5aa33a" stroke-width="0.35"/>
<circle cx="385.20" cy="195.70" r="1.25" fill="#7cc65a" stroke="#5aa33a" stroke-width="0.35"/>
<circle cx="399.30" cy="195.70" r="1.25" fill="#7cc65a" stroke="#5aa33a" stroke-width="0.35"/>
<line x1="375.79" y1="182.47" x2="383.99" y2="177.37" stroke="#262626" stroke-width="0.4"/>
<line x1="375.21" y1="181.53" x2="383.41" y2="176.43" stroke="#262626" stroke-width="0.4"/>
<path d="M383.70,176.90 L389.80,180.90" stroke="#262626" stroke-width="0.55" fill="none"/>
<circle cx="390.90" cy="181.50" r="1.25" fill="#fff" stroke="#262626" stroke-width="0.5"/>
<path d="M392.00,180.90 L399.50,176.90" stroke="#262626" stroke-width="0.55" fill="none"/>
<line x1="334.60" y1="198.20" x2="335.41" y2="206.93" stroke="#231f20" stroke-width="0.7"/>
<path d="M335.60,209.00 L334.20,206.52 L336.53,206.30 Z" fill="#231f20"/>
<line x1="394.40" y1="196.30" x2="395.50" y2="203.94" stroke="#231f20" stroke-width="0.7"/>
<path d="M395.80,206.00 L394.27,203.59 L396.59,203.26 Z" fill="#231f20"/>
<line x1="442.60" y1="126.20" x2="678.10" y2="126.20" stroke="#9a9a9a" stroke-width="0.8"/>
<line x1="678.10" y1="126.20" x2="678.10" y2="221.70" stroke="#b0b0b0" stroke-width="0.8"/>
<line x1="442.60" y1="221.70" x2="678.10" y2="221.70" stroke="#b0b0b0" stroke-width="0.8"/>
<line x1="442.60" y1="126.20" x2="442.60" y2="221.70" stroke="#555" stroke-width="0.8"/>
<line x1="440.50" y1="125.96" x2="442.60" y2="125.96" stroke="#666" stroke-width="0.7"/>
<text x="438.60" y="128.36" font-size="6.8" text-anchor="end" fill="#231f20" stroke="#231f20" stroke-width="0.15">2</text>
<line x1="440.50" y1="139.60" x2="442.60" y2="139.60" stroke="#666" stroke-width="0.7"/>
<text x="438.60" y="142.00" font-size="6.8" text-anchor="end" fill="#231f20" stroke="#231f20" stroke-width="0.15">0</text>
<line x1="440.50" y1="153.24" x2="442.60" y2="153.24" stroke="#666" stroke-width="0.7"/>
<text x="438.60" y="155.64" font-size="6.8" text-anchor="end" fill="#231f20" stroke="#231f20" stroke-width="0.15">-2</text>
<line x1="440.50" y1="166.88" x2="442.60" y2="166.88" stroke="#666" stroke-width="0.7"/>
<text x="438.60" y="169.28" font-size="6.8" text-anchor="end" fill="#231f20" stroke="#231f20" stroke-width="0.15">-4</text>
<line x1="440.50" y1="180.52" x2="442.60" y2="180.52" stroke="#666" stroke-width="0.7"/>
<text x="438.60" y="182.92" font-size="6.8" text-anchor="end" fill="#231f20" stroke="#231f20" stroke-width="0.15">-6</text>
<line x1="440.50" y1="194.16" x2="442.60" y2="194.16" stroke="#666" stroke-width="0.7"/>
<text x="438.60" y="196.56" font-size="6.8" text-anchor="end" fill="#231f20" stroke="#231f20" stroke-width="0.15">-8</text>
<line x1="440.50" y1="207.80" x2="442.60" y2="207.80" stroke="#666" stroke-width="0.7"/>
<text x="438.60" y="210.20" font-size="6.8" text-anchor="end" fill="#231f20" stroke="#231f20" stroke-width="0.15">-10</text>
<line x1="440.50" y1="221.44" x2="442.60" y2="221.44" stroke="#666" stroke-width="0.7"/>
<text x="438.60" y="223.84" font-size="6.8" text-anchor="end" fill="#231f20" stroke="#231f20" stroke-width="0.15">-12</text>
<text x="421.20" y="125.70" font-size="12.5" fill="#231f20" font-weight="bold" stroke="#231f20" stroke-width="0.35">d</text>
<text x="426.50" y="173.90" font-size="7.4" text-anchor="middle" fill="#231f20" stroke="#231f20" stroke-width="0.15" transform="rotate(-90 426.50 173.90)">Free energy (eV)</text>
<text x="560.50" y="229.80" font-size="7.8" text-anchor="middle" fill="#231f20" stroke="#231f20" stroke-width="0.15">Reaction coordinate</text>
<text x="447.20" y="216.90" font-size="7.2" fill="#231f20" stroke="#231f20" stroke-width="0.15" textLength="43.30" lengthAdjust="spacingAndGlyphs">DME oxidation</text>
<line x1="442.60" y1="139.60" x2="476.70" y2="139.60" stroke="#5b9bd5" stroke-width="1.0"/>
<line x1="476.70" y1="139.60" x2="493.20" y2="162.30" stroke="#5b9bd5" stroke-width="0.8" stroke-dasharray="2,1.6"/>
<line x1="493.20" y1="162.30" x2="527.60" y2="162.30" stroke="#5b9bd5" stroke-width="1.0"/>
<line x1="527.60" y1="162.30" x2="544.10" y2="182.40" stroke="#5b9bd5" stroke-width="0.8" stroke-dasharray="2,1.6"/>
<line x1="544.10" y1="182.40" x2="578.00" y2="182.40" stroke="#5b9bd5" stroke-width="1.0"/>
<line x1="578.00" y1="182.40" x2="594.50" y2="193.60" stroke="#5b9bd5" stroke-width="0.8" stroke-dasharray="2,1.6"/>
<line x1="594.50" y1="193.60" x2="627.30" y2="193.60" stroke="#5b9bd5" stroke-width="1.0"/>
<line x1="627.30" y1="193.60" x2="644.30" y2="209.40" stroke="#5b9bd5" stroke-width="0.8" stroke-dasharray="2,1.6"/>
<line x1="644.30" y1="209.40" x2="678.10" y2="209.40" stroke="#5b9bd5" stroke-width="1.0"/>
<circle cx="460.20" cy="182.30" r="1.45" fill="#e2101e"/>
<circle cx="455.80" cy="188.50" r="1.45" fill="#e2101e"/>
<circle cx="465.80" cy="186.00" r="1.6" fill="#e4e4e4" stroke="#6f6f6f" stroke-width="0.8"/>
<circle cx="474.65" cy="182.30" r="1.45" fill="#e2101e"/>
<circle cx="470.25" cy="188.50" r="1.45" fill="#e2101e"/>
<circle cx="480.25" cy="186.00" r="1.6" fill="#e4e4e4" stroke="#6f6f6f" stroke-width="0.8"/>
<circle cx="489.10" cy="182.30" r="1.45" fill="#e2101e"/>
<circle cx="484.70" cy="188.50" r="1.45" fill="#e2101e"/>
<circle cx="494.70" cy="186.00" r="1.6" fill="#e4e4e4" stroke="#6f6f6f" stroke-width="0.8"/>
<circle cx="503.55" cy="182.30" r="1.45" fill="#e2101e"/>
<circle cx="499.15" cy="188.50" r="1.45" fill="#e2101e"/>
<circle cx="499.80" cy="146.40" r="1.45" fill="#e2101e"/>
<circle cx="495.40" cy="152.40" r="1.45" fill="#e2101e"/>
<circle cx="505.40" cy="149.50" r="1.6" fill="#e4e4e4" stroke="#6f6f6f" stroke-width="0.8"/>
<circle cx="514.25" cy="146.40" r="1.45" fill="#e2101e"/>
<circle cx="509.85" cy="152.40" r="1.45" fill="#e2101e"/>
<circle cx="519.85" cy="149.50" r="1.6" fill="#e4e4e4" stroke="#6f6f6f" stroke-width="0.8"/>
<circle cx="528.70" cy="146.40" r="1.45" fill="#e2101e"/>
<circle cx="524.30" cy="152.40" r="1.45" fill="#e2101e"/>
<circle cx="534.30" cy="149.50" r="1.6" fill="#e4e4e4" stroke="#6f6f6f" stroke-width="0.8"/>
<circle cx="543.15" cy="146.40" r="1.45" fill="#e2101e"/>
<circle cx="538.75" cy="152.40" r="1.45" fill="#e2101e"/>
<circle cx="573.50" cy="154.20" r="1.45" fill="#e2101e"/>
<circle cx="569.10" cy="160.20" r="1.45" fill="#e2101e"/>
<circle cx="579.10" cy="157.50" r="1.6" fill="#e4e4e4" stroke="#6f6f6f" stroke-width="0.8"/>
<circle cx="587.90" cy="154.20" r="1.45" fill="#e2101e"/>
<circle cx="583.50" cy="160.20" r="1.45" fill="#e2101e"/>
<circle cx="593.50" cy="157.50" r="1.6" fill="#e4e4e4" stroke="#6f6f6f" stroke-width="0.8"/>
<circle cx="602.30" cy="154.20" r="1.25" fill="#fff" stroke="#e2101e" stroke-width="0.6"/>
<circle cx="597.90" cy="160.20" r="1.45" fill="#e2101e"/>
<circle cx="607.90" cy="157.50" r="1.6" fill="#e4e4e4" stroke="#6f6f6f" stroke-width="0.8"/>
<circle cx="616.70" cy="154.20" r="1.45" fill="#e2101e"/>
<circle cx="612.30" cy="160.20" r="1.45" fill="#e2101e"/>
<circle cx="628.10" cy="182.20" r="1.45" fill="#e2101e"/>
<circle cx="623.70" cy="188.40" r="1.45" fill="#e2101e"/>
<circle cx="633.70" cy="185.50" r="1.6" fill="#e4e4e4" stroke="#6f6f6f" stroke-width="0.8"/>
<circle cx="642.60" cy="182.20" r="1.45" fill="#e2101e"/>
<circle cx="638.20" cy="188.40" r="1.45" fill="#e2101e"/>
<circle cx="648.20" cy="185.50" r="1.6" fill="#e4e4e4" stroke="#6f6f6f" stroke-width="0.8"/>
<circle cx="657.10" cy="182.20" r="1.25" fill="#fff" stroke="#e2101e" stroke-width="0.6"/>
<circle cx="652.70" cy="188.40" r="1.45" fill="#e2101e"/>
<circle cx="662.70" cy="185.50" r="1.6" fill="#e4e4e4" stroke="#6f6f6f" stroke-width="0.8"/>
<circle cx="671.60" cy="182.20" r="1.45" fill="#e2101e"/>
<circle cx="667.20" cy="188.40" r="1.45" fill="#e2101e"/>
<circle cx="529.10" cy="202.00" r="1.45" fill="#e2101e"/>
<circle cx="524.70" cy="208.70" r="1.45" fill="#e2101e"/>
<circle cx="534.70" cy="205.50" r="1.6" fill="#e4e4e4" stroke="#6f6f6f" stroke-width="0.8"/>
<circle cx="543.70" cy="202.00" r="1.45" fill="#e2101e"/>
<circle cx="539.30" cy="208.70" r="1.45" fill="#e2101e"/>
<circle cx="549.30" cy="205.50" r="1.6" fill="#e4e4e4" stroke="#6f6f6f" stroke-width="0.8"/>
<circle cx="558.30" cy="202.00" r="1.25" fill="#fff" stroke="#e2101e" stroke-width="0.6"/>
<circle cx="553.90" cy="208.70" r="1.45" fill="#e2101e"/>
<circle cx="563.90" cy="205.50" r="1.6" fill="#e4e4e4" stroke="#6f6f6f" stroke-width="0.8"/>
<circle cx="572.90" cy="202.00" r="1.45" fill="#e2101e"/>
<circle cx="568.50" cy="208.70" r="1.45" fill="#e2101e"/>
<path d="M456.10,176.10 L464.00,176.10" stroke="#262626" stroke-width="0.55" fill="none"/>
<circle cx="465.20" cy="176.10" r="1.25" fill="#fff" stroke="#262626" stroke-width="0.5"/>
<path d="M466.10,175.20 L470.90,168.50 L479.20,168.50 L483.50,175.00" stroke="#262626" stroke-width="0.55" fill="none"/>
<circle cx="484.30" cy="176.10" r="1.25" fill="#fff" stroke="#262626" stroke-width="0.5"/>
<line x1="485.50" y1="176.10" x2="489.10" y2="176.10" stroke="#262626" stroke-width="0.55"/>
<text x="489.40" y="177.60" font-size="4.2" fill="#262626" stroke="#262626" stroke-width="0.1">CH<tspan font-size="2.8" dy="0.9">3</tspan></text>
<path d="M491.10,138.10 L498.60,138.10" stroke="#262626" stroke-width="0.55" fill="none"/>
<circle cx="499.80" cy="138.10" r="1.25" fill="#fff" stroke="#262626" stroke-width="0.5"/>
<path d="M500.60,137.10 L505.00,129.30 L513.20,129.30 L517.60,137.00" stroke="#262626" stroke-width="0.55" fill="none"/>
<circle cx="518.40" cy="138.10" r="1.25" fill="#fff" stroke="#262626" stroke-width="0.5"/>
<line x1="519.60" y1="138.10" x2="523.20" y2="138.10" stroke="#262626" stroke-width="0.55"/>
<text x="523.50" y="139.60" font-size="4.2" fill="#262626" stroke="#262626" stroke-width="0.1">CH<tspan font-size="2.8" dy="0.9">3</tspan></text>
<line x1="529.10" y1="140.50" x2="529.10" y2="144.30" stroke="#444" stroke-width="0.5" stroke-dasharray="0.9,0.8"/>
<text x="543.10" y="136.30" font-size="3.6" text-anchor="middle" fill="#262626" stroke="#262626" stroke-width="0.1">H</text>
<line x1="543.10" y1="137.00" x2="543.10" y2="144.50" stroke="#444" stroke-width="0.5" stroke-dasharray="0.9,0.8"/>
<line x1="472.00" y1="166.40" x2="462.62" y2="144.03" stroke="#231f20" stroke-width="0.75"/>
<path d="M461.60,141.60 L464.25,144.07 L461.51,145.22 Z" fill="#231f20"/>
<line x1="518.40" y1="154.60" x2="520.63" y2="159.64" stroke="#231f20" stroke-width="0.6"/>
<path d="M521.40,161.40 L519.44,159.64 L521.42,158.77 Z" fill="#231f20"/>
<path d="M563.50,145.00 L571.00,148.00" stroke="#262626" stroke-width="0.55" fill="none"/>
<circle cx="572.10" cy="148.50" r="1.25" fill="#fff" stroke="#262626" stroke-width="0.5"/>
<path d="M573.10,147.80 L579.70,143.30 L587.70,146.60 L587.70,149.50" stroke="#262626" stroke-width="0.55" fill="none"/>
<line x1="588.20" y1="150.00" x2="588.60" y2="152.60" stroke="#444" stroke-width="0.5" stroke-dasharray="0.9,0.8"/>
<circle cx="592.50" cy="148.20" r="1.25" fill="#fff" stroke="#262626" stroke-width="0.5"/>
<path d="M593.60,147.60 L601.50,143.80" stroke="#262626" stroke-width="0.55" fill="none"/>
<line x1="601.21" y1="144.27" x2="607.31" y2="148.07" stroke="#262626" stroke-width="0.4"/>
<line x1="601.79" y1="143.33" x2="607.89" y2="147.13" stroke="#262626" stroke-width="0.4"/>
<circle cx="608.60" cy="148.20" r="1.25" fill="#fff" stroke="#262626" stroke-width="0.5"/>
<line x1="592.70" y1="149.50" x2="593.20" y2="155.80" stroke="#262626" stroke-width="0.5"/>
<line x1="608.40" y1="149.50" x2="607.90" y2="155.80" stroke="#262626" stroke-width="0.5"/>
<text x="598.50" y="170.50" font-size="3.6" text-anchor="middle" fill="#262626" stroke="#262626" stroke-width="0.1">H</text>
<line x1="598.60" y1="161.70" x2="598.50" y2="167.20" stroke="#262626" stroke-width="0.5"/>
<text x="616.50" y="145.10" font-size="3.6" text-anchor="middle" fill="#262626" stroke="#262626" stroke-width="0.1">H</text>
<line x1="616.60" y1="145.80" x2="616.70" y2="152.60" stroke="#444" stroke-width="0.5" stroke-dasharray="0.9,0.8"/>
<line x1="601.30" y1="164.10" x2="610.61" y2="190.11" stroke="#231f20" stroke-width="0.75"/>
<path d="M611.50,192.60 L608.99,189.99 L611.79,188.99 Z" fill="#231f20"/>
<path d="M618.20,173.00 L625.60,176.00" stroke="#262626" stroke-width="0.55" fill="none"/>
<circle cx="626.70" cy="176.50" r="1.25" fill="#fff" stroke="#262626" stroke-width="0.5"/>
<path d="M627.80,175.80 L634.30,171.30 L642.40,174.90 L642.40,176.50" stroke="#262626" stroke-width="0.55" fill="none"/>
<line x1="642.80" y1="177.00" x2="643.20" y2="180.60" stroke="#444" stroke-width="0.5" stroke-dasharray="0.9,0.8"/>
<text x="653.30" y="165.10" font-size="6.8" fill="#231f20" stroke="#231f20" stroke-width="0.15" textLength="11.80" lengthAdjust="spacingAndGlyphs">CO<tspan font-size="4.5" dy="1.5">2</tspan></text>
<circle cx="651.40" cy="173.20" r="1.1" fill="#fff" stroke="#262626" stroke-width="0.5"/>
<line x1="652.73" y1="173.10" x2="657.83" y2="170.80" stroke="#262626" stroke-width="0.4"/>
<line x1="652.27" y1="172.10" x2="657.37" y2="169.80" stroke="#262626" stroke-width="0.4"/>
<line x1="658.50" y1="171.22" x2="660.80" y2="176.52" stroke="#262626" stroke-width="0.4"/>
<line x1="659.50" y1="170.78" x2="661.80" y2="176.08" stroke="#262626" stroke-width="0.4"/>
<circle cx="661.80" cy="177.40" r="1.1" fill="#fff" stroke="#262626" stroke-width="0.5"/>
<text x="653.30" y="198.12" font-size="3.4" text-anchor="middle" fill="#262626" stroke="#262626" stroke-width="0.1">H</text>
<text x="667.50" y="198.12" font-size="3.4" text-anchor="middle" fill="#262626" stroke="#262626" stroke-width="0.1">H</text>
<line x1="653.30" y1="190.00" x2="653.30" y2="195.00" stroke="#444" stroke-width="0.5" stroke-dasharray="0.9,0.8"/>
<line x1="667.50" y1="190.00" x2="667.50" y2="195.00" stroke="#444" stroke-width="0.5" stroke-dasharray="0.9,0.8"/>
<text x="671.30" y="172.90" font-size="3.6" text-anchor="middle" fill="#262626" stroke="#262626" stroke-width="0.1">H</text>
<line x1="671.40" y1="173.60" x2="671.50" y2="180.60" stroke="#444" stroke-width="0.5" stroke-dasharray="0.9,0.8"/>
<line x1="657.90" y1="195.80" x2="661.52" y2="206.01" stroke="#231f20" stroke-width="0.75"/>
<path d="M662.40,208.50 L659.90,205.89 L662.70,204.89 Z" fill="#231f20"/>
<path d="M519.40,198.40 L526.60,196.90" stroke="#262626" stroke-width="0.55" fill="none"/>
<circle cx="527.60" cy="196.70" r="1.25" fill="#fff" stroke="#262626" stroke-width="0.5"/>
<path d="M528.40,195.90 L530.70,189.10 L540.00,186.40 L543.90,191.20" stroke="#262626" stroke-width="0.55" fill="none"/>
<circle cx="544.70" cy="192.20" r="1.25" fill="#fff" stroke="#262626" stroke-width="0.5"/>
<path d="M545.80,191.80 L553.40,190.10" stroke="#262626" stroke-width="0.55" fill="none"/>
<line x1="552.93" y1="190.39" x2="556.33" y2="195.89" stroke="#262626" stroke-width="0.4"/>
<line x1="553.87" y1="189.81" x2="557.27" y2="195.31" stroke="#262626" stroke-width="0.4"/>
<text x="572.30" y="193.52" font-size="3.4" text-anchor="middle" fill="#262626" stroke="#262626" stroke-width="0.1">H</text>
<line x1="572.50" y1="194.20" x2="572.80" y2="200.30" stroke="#444" stroke-width="0.5" stroke-dasharray="0.9,0.8"/>
<text x="554.40" y="218.95" font-size="3.2" text-anchor="middle" fill="#262626" stroke="#262626" stroke-width="0.1">H</text>
<line x1="554.40" y1="210.20" x2="554.40" y2="215.60" stroke="#444" stroke-width="0.5" stroke-dasharray="0.9,0.8"/>
<line x1="568.50" y1="200.30" x2="564.62" y2="187.79" stroke="#231f20" stroke-width="0.7"/>
<path d="M564.00,185.80 L565.89,187.94 L563.65,188.63 Z" fill="#231f20"/>
<line x1="563.50" y1="203.00" x2="583.38" y2="207.81" stroke="#231f20" stroke-width="0.6" stroke-dasharray="1.6,1"/>
<path d="M585.40,208.30 L582.60,208.83 L583.15,206.55 Z" fill="#231f20"/>
<text x="590.00" y="208.90" font-size="7.0" fill="#231f20" stroke="#231f20" stroke-width="0.15" textLength="43.50" lengthAdjust="spacingAndGlyphs">O loss: lattice</text>
<text x="590.00" y="216.90" font-size="7.0" fill="#231f20" stroke="#231f20" stroke-width="0.15" textLength="87.50" lengthAdjust="spacingAndGlyphs">distortion and phase change</text>
<circle cx="660.10" cy="132.40" r="1.45" fill="#e2101e"/>
<text x="664.60" y="134.80" font-size="6.6" fill="#231f20" stroke="#231f20" stroke-width="0.15">O</text>
<circle cx="659.70" cy="142.00" r="1.6" fill="#e4e4e4" stroke="#6f6f6f" stroke-width="0.8"/>
<text x="664.60" y="144.10" font-size="6.6" fill="#231f20" stroke="#231f20" stroke-width="0.15">TM</text>
<text x="0.00" y="9.00" font-size="12.5" fill="#231f20" font-weight="bold" stroke="#231f20" stroke-width="0.35">a</text>
<rect x="12.30" y="8.80" width="4.40" height="194.90" fill="#f2a500"/>
<line x1="12.45" y1="8.80" x2="12.45" y2="203.70" stroke="#7a5a10" stroke-width="0.3"/>
<rect x="16.70" y="8.60" width="13.90" height="195.00" fill="#8b8b8b"/>
<line x1="16.30" y1="8.80" x2="30.40" y2="8.80" stroke="#111" stroke-width="0.9"/>
<line x1="16.30" y1="203.40" x2="30.40" y2="203.40" stroke="#111" stroke-width="0.9"/>
<line x1="30.40" y1="8.60" x2="30.40" y2="203.60" stroke="#111" stroke-width="0.8"/>
<rect x="16.70" y="19.40" width="13.90" height="2.50" fill="#0d0d0d"/>
<circle cx="18.00" cy="19.00" r="1.35" fill="#0d0d0d"/>
<circle cx="20.60" cy="19.65" r="1.35" fill="#0d0d0d"/>
<circle cx="23.30" cy="19.00" r="1.35" fill="#0d0d0d"/>
<circle cx="26.00" cy="19.65" r="1.35" fill="#0d0d0d"/>
<circle cx="28.70" cy="19.00" r="1.35" fill="#0d0d0d"/>
<circle cx="19.40" cy="23.10" r="1.5" fill="#0d0d0d"/>
<circle cx="25.80" cy="23.10" r="1.5" fill="#0d0d0d"/>
<circle cx="22.60" cy="22.10" r="1.1" fill="#0d0d0d"/>
<circle cx="28.90" cy="22.20" r="1.1" fill="#0d0d0d"/>
<circle cx="30.90" cy="17.20" r="1.35" fill="#0d0d0d"/>
<rect x="16.70" y="31.50" width="13.90" height="2.50" fill="#0d0d0d"/>
<circle cx="18.00" cy="31.10" r="1.35" fill="#0d0d0d"/>
<circle cx="20.60" cy="31.75" r="1.35" fill="#0d0d0d"/>
<circle cx="23.30" cy="31.10" r="1.35" fill="#0d0d0d"/>
<circle cx="26.00" cy="31.75" r="1.35" fill="#0d0d0d"/>
<circle cx="28.70" cy="31.10" r="1.35" fill="#0d0d0d"/>
<circle cx="19.40" cy="35.20" r="1.5" fill="#0d0d0d"/>
<circle cx="25.80" cy="35.20" r="1.5" fill="#0d0d0d"/>
<circle cx="22.60" cy="34.20" r="1.1" fill="#0d0d0d"/>
<circle cx="28.90" cy="34.30" r="1.1" fill="#0d0d0d"/>
<circle cx="30.90" cy="29.30" r="1.35" fill="#0d0d0d"/>
<rect x="16.70" y="43.60" width="13.90" height="2.50" fill="#0d0d0d"/>
<circle cx="18.00" cy="43.20" r="1.35" fill="#0d0d0d"/>
<circle cx="20.60" cy="43.85" r="1.35" fill="#0d0d0d"/>
<circle cx="23.30" cy="43.20" r="1.35" fill="#0d0d0d"/>
<circle cx="26.00" cy="43.85" r="1.35" fill="#0d0d0d"/>
<circle cx="28.70" cy="43.20" r="1.35" fill="#0d0d0d"/>
<circle cx="19.40" cy="47.30" r="1.5" fill="#0d0d0d"/>
<circle cx="25.80" cy="47.30" r="1.5" fill="#0d0d0d"/>
<circle cx="22.60" cy="46.30" r="1.1" fill="#0d0d0d"/>
<circle cx="28.90" cy="46.40" r="1.1" fill="#0d0d0d"/>
<circle cx="30.90" cy="41.40" r="1.35" fill="#0d0d0d"/>
<rect x="16.70" y="55.70" width="13.90" height="2.50" fill="#0d0d0d"/>
<circle cx="18.00" cy="55.30" r="1.35" fill="#0d0d0d"/>
<circle cx="20.60" cy="55.95" r="1.35" fill="#0d0d0d"/>
<circle cx="23.30" cy="55.30" r="1.35" fill="#0d0d0d"/>
<circle cx="26.00" cy="55.95" r="1.35" fill="#0d0d0d"/>
<circle cx="28.70" cy="55.30" r="1.35" fill="#0d0d0d"/>
<circle cx="19.40" cy="59.40" r="1.5" fill="#0d0d0d"/>
<circle cx="25.80" cy="59.40" r="1.5" fill="#0d0d0d"/>
<circle cx="22.60" cy="58.40" r="1.1" fill="#0d0d0d"/>
<circle cx="28.90" cy="58.50" r="1.1" fill="#0d0d0d"/>
<circle cx="30.90" cy="53.50" r="1.35" fill="#0d0d0d"/>
<rect x="16.70" y="67.80" width="13.90" height="2.50" fill="#0d0d0d"/>
<circle cx="18.00" cy="67.40" r="1.35" fill="#0d0d0d"/>
<circle cx="20.60" cy="68.05" r="1.35" fill="#0d0d0d"/>
<circle cx="23.30" cy="67.40" r="1.35" fill="#0d0d0d"/>
<circle cx="26.00" cy="68.05" r="1.35" fill="#0d0d0d"/>
<circle cx="28.70" cy="67.40" r="1.35" fill="#0d0d0d"/>
<circle cx="19.40" cy="71.50" r="1.5" fill="#0d0d0d"/>
<circle cx="25.80" cy="71.50" r="1.5" fill="#0d0d0d"/>
<circle cx="22.60" cy="70.50" r="1.1" fill="#0d0d0d"/>
<circle cx="28.90" cy="70.60" r="1.1" fill="#0d0d0d"/>
<circle cx="30.90" cy="65.60" r="1.35" fill="#0d0d0d"/>
<rect x="16.70" y="79.90" width="13.90" height="2.50" fill="#0d0d0d"/>
<circle cx="18.00" cy="79.50" r="1.35" fill="#0d0d0d"/>
<circle cx="20.60" cy="80.15" r="1.35" fill="#0d0d0d"/>
<circle cx="23.30" cy="79.50" r="1.35" fill="#0d0d0d"/>
<circle cx="26.00" cy="80.15" r="1.35" fill="#0d0d0d"/>
<circle cx="28.70" cy="79.50" r="1.35" fill="#0d0d0d"/>
<circle cx="19.40" cy="83.60" r="1.5" fill="#0d0d0d"/>
<circle cx="25.80" cy="83.60" r="1.5" fill="#0d0d0d"/>
<circle cx="22.60" cy="82.60" r="1.1" fill="#0d0d0d"/>
<circle cx="28.90" cy="82.70" r="1.1" fill="#0d0d0d"/>
<circle cx="30.90" cy="77.70" r="1.35" fill="#0d0d0d"/>
<rect x="16.70" y="92.00" width="13.90" height="2.50" fill="#0d0d0d"/>
<circle cx="18.00" cy="91.60" r="1.35" fill="#0d0d0d"/>
<circle cx="20.60" cy="92.25" r="1.35" fill="#0d0d0d"/>
<circle cx="23.30" cy="91.60" r="1.35" fill="#0d0d0d"/>
<circle cx="26.00" cy="92.25" r="1.35" fill="#0d0d0d"/>
<circle cx="28.70" cy="91.60" r="1.35" fill="#0d0d0d"/>
<circle cx="19.40" cy="95.70" r="1.5" fill="#0d0d0d"/>
<circle cx="25.80" cy="95.70" r="1.5" fill="#0d0d0d"/>
<circle cx="22.60" cy="94.70" r="1.1" fill="#0d0d0d"/>
<circle cx="28.90" cy="94.80" r="1.1" fill="#0d0d0d"/>
<circle cx="30.90" cy="89.80" r="1.35" fill="#0d0d0d"/>
<rect x="16.70" y="104.10" width="13.90" height="2.50" fill="#0d0d0d"/>
<circle cx="18.00" cy="103.70" r="1.35" fill="#0d0d0d"/>
<circle cx="20.60" cy="104.35" r="1.35" fill="#0d0d0d"/>
<circle cx="23.30" cy="103.70" r="1.35" fill="#0d0d0d"/>
<circle cx="26.00" cy="104.35" r="1.35" fill="#0d0d0d"/>
<circle cx="28.70" cy="103.70" r="1.35" fill="#0d0d0d"/>
<circle cx="19.40" cy="107.80" r="1.5" fill="#0d0d0d"/>
<circle cx="25.80" cy="107.80" r="1.5" fill="#0d0d0d"/>
<circle cx="22.60" cy="106.80" r="1.1" fill="#0d0d0d"/>
<circle cx="28.90" cy="106.90" r="1.1" fill="#0d0d0d"/>
<circle cx="30.90" cy="101.90" r="1.35" fill="#0d0d0d"/>
<rect x="16.70" y="116.20" width="13.90" height="2.50" fill="#0d0d0d"/>
<circle cx="18.00" cy="115.80" r="1.35" fill="#0d0d0d"/>
<circle cx="20.60" cy="116.45" r="1.35" fill="#0d0d0d"/>
<circle cx="23.30" cy="115.80" r="1.35" fill="#0d0d0d"/>
<circle cx="26.00" cy="116.45" r="1.35" fill="#0d0d0d"/>
<circle cx="28.70" cy="115.80" r="1.35" fill="#0d0d0d"/>
<circle cx="19.40" cy="119.90" r="1.5" fill="#0d0d0d"/>
<circle cx="25.80" cy="119.90" r="1.5" fill="#0d0d0d"/>
<circle cx="22.60" cy="118.90" r="1.1" fill="#0d0d0d"/>
<circle cx="28.90" cy="119.00" r="1.1" fill="#0d0d0d"/>
<circle cx="30.90" cy="114.00" r="1.35" fill="#0d0d0d"/>
<rect x="16.70" y="128.30" width="13.90" height="2.50" fill="#0d0d0d"/>
<circle cx="18.00" cy="127.90" r="1.35" fill="#0d0d0d"/>
<circle cx="20.60" cy="128.55" r="1.35" fill="#0d0d0d"/>
<circle cx="23.30" cy="127.90" r="1.35" fill="#0d0d0d"/>
<circle cx="26.00" cy="128.55" r="1.35" fill="#0d0d0d"/>
<circle cx="28.70" cy="127.90" r="1.35" fill="#0d0d0d"/>
<circle cx="19.40" cy="132.00" r="1.5" fill="#0d0d0d"/>
<circle cx="25.80" cy="132.00" r="1.5" fill="#0d0d0d"/>
<circle cx="22.60" cy="131.00" r="1.1" fill="#0d0d0d"/>
<circle cx="28.90" cy="131.10" r="1.1" fill="#0d0d0d"/>
<circle cx="30.90" cy="126.10" r="1.35" fill="#0d0d0d"/>
<rect x="16.70" y="140.40" width="13.90" height="2.50" fill="#0d0d0d"/>
<circle cx="18.00" cy="140.00" r="1.35" fill="#0d0d0d"/>
<circle cx="20.60" cy="140.65" r="1.35" fill="#0d0d0d"/>
<circle cx="23.30" cy="140.00" r="1.35" fill="#0d0d0d"/>
<circle cx="26.00" cy="140.65" r="1.35" fill="#0d0d0d"/>
<circle cx="28.70" cy="140.00" r="1.35" fill="#0d0d0d"/>
<circle cx="19.40" cy="144.10" r="1.5" fill="#0d0d0d"/>
<circle cx="25.80" cy="144.10" r="1.5" fill="#0d0d0d"/>
<circle cx="22.60" cy="143.10" r="1.1" fill="#0d0d0d"/>
<circle cx="28.90" cy="143.20" r="1.1" fill="#0d0d0d"/>
<circle cx="30.90" cy="138.20" r="1.35" fill="#0d0d0d"/>
<rect x="16.70" y="152.50" width="13.90" height="2.50" fill="#0d0d0d"/>
<circle cx="18.00" cy="152.10" r="1.35" fill="#0d0d0d"/>
<circle cx="20.60" cy="152.75" r="1.35" fill="#0d0d0d"/>
<circle cx="23.30" cy="152.10" r="1.35" fill="#0d0d0d"/>
<circle cx="26.00" cy="152.75" r="1.35" fill="#0d0d0d"/>
<circle cx="28.70" cy="152.10" r="1.35" fill="#0d0d0d"/>
<circle cx="19.40" cy="156.20" r="1.5" fill="#0d0d0d"/>
<circle cx="25.80" cy="156.20" r="1.5" fill="#0d0d0d"/>
<circle cx="22.60" cy="155.20" r="1.1" fill="#0d0d0d"/>
<circle cx="28.90" cy="155.30" r="1.1" fill="#0d0d0d"/>
<circle cx="30.90" cy="150.30" r="1.35" fill="#0d0d0d"/>
<rect x="16.70" y="164.60" width="13.90" height="2.50" fill="#0d0d0d"/>
<circle cx="18.00" cy="164.20" r="1.35" fill="#0d0d0d"/>
<circle cx="20.60" cy="164.85" r="1.35" fill="#0d0d0d"/>
<circle cx="23.30" cy="164.20" r="1.35" fill="#0d0d0d"/>
<circle cx="26.00" cy="164.85" r="1.35" fill="#0d0d0d"/>
<circle cx="28.70" cy="164.20" r="1.35" fill="#0d0d0d"/>
<circle cx="19.40" cy="168.30" r="1.5" fill="#0d0d0d"/>
<circle cx="25.80" cy="168.30" r="1.5" fill="#0d0d0d"/>
<circle cx="22.60" cy="167.30" r="1.1" fill="#0d0d0d"/>
<circle cx="28.90" cy="167.40" r="1.1" fill="#0d0d0d"/>
<circle cx="30.90" cy="162.40" r="1.35" fill="#0d0d0d"/>
<rect x="16.70" y="176.70" width="13.90" height="2.50" fill="#0d0d0d"/>
<circle cx="18.00" cy="176.30" r="1.35" fill="#0d0d0d"/>
<circle cx="20.60" cy="176.95" r="1.35" fill="#0d0d0d"/>
<circle cx="23.30" cy="176.30" r="1.35" fill="#0d0d0d"/>
<circle cx="26.00" cy="176.95" r="1.35" fill="#0d0d0d"/>
<circle cx="28.70" cy="176.30" r="1.35" fill="#0d0d0d"/>
<circle cx="19.40" cy="180.40" r="1.5" fill="#0d0d0d"/>
<circle cx="25.80" cy="180.40" r="1.5" fill="#0d0d0d"/>
<circle cx="22.60" cy="179.40" r="1.1" fill="#0d0d0d"/>
<circle cx="28.90" cy="179.50" r="1.1" fill="#0d0d0d"/>
<circle cx="30.90" cy="174.50" r="1.35" fill="#0d0d0d"/>
<rect x="16.70" y="188.80" width="13.90" height="2.50" fill="#0d0d0d"/>
<circle cx="18.00" cy="188.40" r="1.35" fill="#0d0d0d"/>
<circle cx="20.60" cy="189.05" r="1.35" fill="#0d0d0d"/>
<circle cx="23.30" cy="188.40" r="1.35" fill="#0d0d0d"/>
<circle cx="26.00" cy="189.05" r="1.35" fill="#0d0d0d"/>
<circle cx="28.70" cy="188.40" r="1.35" fill="#0d0d0d"/>
<circle cx="19.40" cy="192.50" r="1.5" fill="#0d0d0d"/>
<circle cx="25.80" cy="192.50" r="1.5" fill="#0d0d0d"/>
<circle cx="22.60" cy="191.50" r="1.1" fill="#0d0d0d"/>
<circle cx="28.90" cy="191.60" r="1.1" fill="#0d0d0d"/>
<circle cx="30.90" cy="186.60" r="1.35" fill="#0d0d0d"/>
<circle cx="24.00" cy="9.60" r="1.3" fill="#0d0d0d"/>
<circle cx="26.30" cy="9.60" r="1.3" fill="#0d0d0d"/>
<circle cx="28.60" cy="9.60" r="1.3" fill="#0d0d0d"/>
<rect x="217.00" y="8.50" width="13.60" height="194.30" fill="#080808"/>
<rect x="230.60" y="7.90" width="5.20" height="195.60" fill="#8b8b8b"/>
<line x1="235.80" y1="7.90" x2="235.80" y2="203.50" stroke="#6a6a6a" stroke-width="0.5"/>
<circle cx="221.30" cy="8.90" r="2.1" fill="#3d3d3d" stroke="#080808" stroke-width="0.4"/>
<circle cx="228.20" cy="8.90" r="2.1" fill="#3d3d3d" stroke="#080808" stroke-width="0.4"/>
<circle cx="218.00" cy="11.20" r="2.1" fill="#3d3d3d" stroke="#080808" stroke-width="0.4"/>
<circle cx="224.90" cy="11.20" r="2.1" fill="#3d3d3d" stroke="#080808" stroke-width="0.4"/>
<circle cx="221.30" cy="13.50" r="2.1" fill="#3d3d3d" stroke="#080808" stroke-width="0.4"/>
<circle cx="228.20" cy="13.50" r="2.1" fill="#3d3d3d" stroke="#080808" stroke-width="0.4"/>
<circle cx="218.00" cy="15.80" r="2.1" fill="#3d3d3d" stroke="#080808" stroke-width="0.4"/>
<circle cx="224.90" cy="15.80" r="2.1" fill="#3d3d3d" stroke="#080808" stroke-width="0.4"/>
<circle cx="221.30" cy="18.10" r="2.1" fill="#3d3d3d" stroke="#080808" stroke-width="0.4"/>
<circle cx="228.20" cy="18.10" r="2.1" fill="#3d3d3d" stroke="#080808" stroke-width="0.4"/>
<circle cx="218.00" cy="20.40" r="2.1" fill="#3d3d3d" stroke="#080808" stroke-width="0.4"/>
<circle cx="224.90" cy="20.40" r="2.1" fill="#3d3d3d" stroke="#080808" stroke-width="0.4"/>
<circle cx="221.30" cy="22.70" r="2.1" fill="#3d3d3d" stroke="#080808" stroke-width="0.4"/>
<circle cx="228.20" cy="22.70" r="2.1" fill="#3d3d3d" stroke="#080808" stroke-width="0.4"/>
<circle cx="218.00" cy="25.00" r="2.1" fill="#3d3d3d" stroke="#080808" stroke-width="0.4"/>
<circle cx="224.90" cy="25.00" r="2.1" fill="#3d3d3d" stroke="#080808" stroke-width="0.4"/>
<circle cx="221.30" cy="27.30" r="2.1" fill="#3d3d3d" stroke="#080808" stroke-width="0.4"/>
<circle cx="228.20" cy="27.30" r="2.1" fill="#3d3d3d" stroke="#080808" stroke-width="0.4"/>
<circle cx="218.00" cy="29.60" r="2.1" fill="#3d3d3d" stroke="#080808" stroke-width="0.4"/>
<circle cx="224.90" cy="29.60" r="2.1" fill="#3d3d3d" stroke="#080808" stroke-width="0.4"/>
<circle cx="221.30" cy="31.90" r="2.1" fill="#3d3d3d" stroke="#080808" stroke-width="0.4"/>
<circle cx="228.20" cy="31.90" r="2.1" fill="#3d3d3d" stroke="#080808" stroke-width="0.4"/>
<circle cx="218.00" cy="34.20" r="2.1" fill="#3d3d3d" stroke="#080808" stroke-width="0.4"/>
<circle cx="224.90" cy="34.20" r="2.1" fill="#3d3d3d" stroke="#080808" stroke-width="0.4"/>
<circle cx="221.30" cy="36.50" r="2.1" fill="#3d3d3d" stroke="#080808" stroke-width="0.4"/>
<circle cx="228.20" cy="36.50" r="2.1" fill="#3d3d3d" stroke="#080808" stroke-width="0.4"/>
<circle cx="218.00" cy="38.80" r="2.1" fill="#3d3d3d" stroke="#080808" stroke-width="0.4"/>
<circle cx="224.90" cy="38.80" r="2.1" fill="#3d3d3d" stroke="#080808" stroke-width="0.4"/>
<circle cx="221.30" cy="41.10" r="2.1" fill="#3d3d3d" stroke="#080808" stroke-width="0.4"/>
<circle cx="228.20" cy="41.10" r="2.1" fill="#3d3d3d" stroke="#080808" stroke-width="0.4"/>
<circle cx="218.00" cy="43.40" r="2.1" fill="#3d3d3d" stroke="#080808" stroke-width="0.4"/>
<circle cx="224.90" cy="43.40" r="2.1" fill="#3d3d3d" stroke="#080808" stroke-width="0.4"/>
<circle cx="221.30" cy="45.70" r="2.1" fill="#3d3d3d" stroke="#080808" stroke-width="0.4"/>
<circle cx="228.20" cy="45.70" r="2.1" fill="#3d3d3d" stroke="#080808" stroke-width="0.4"/>
<circle cx="218.00" cy="48.00" r="2.1" fill="#3d3d3d" stroke="#080808" stroke-width="0.4"/>
<circle cx="224.90" cy="48.00" r="2.1" fill="#3d3d3d" stroke="#080808" stroke-width="0.4"/>
<circle cx="221.30" cy="50.30" r="2.1" fill="#3d3d3d" stroke="#080808" stroke-width="0.4"/>
<circle cx="228.20" cy="50.30" r="2.1" fill="#3d3d3d" stroke="#080808" stroke-width="0.4"/>
<circle cx="218.00" cy="52.60" r="2.1" fill="#3d3d3d" stroke="#080808" stroke-width="0.4"/>
<circle cx="224.90" cy="52.60" r="2.1" fill="#3d3d3d" stroke="#080808" stroke-width="0.4"/>
<circle cx="221.30" cy="54.90" r="2.1" fill="#3d3d3d" stroke="#080808" stroke-width="0.4"/>
<circle cx="228.20" cy="54.90" r="2.1" fill="#3d3d3d" stroke="#080808" stroke-width="0.4"/>
<circle cx="218.00" cy="57.20" r="2.1" fill="#3d3d3d" stroke="#080808" stroke-width="0.4"/>
<circle cx="224.90" cy="57.20" r="2.1" fill="#3d3d3d" stroke="#080808" stroke-width="0.4"/>
<circle cx="221.30" cy="59.50" r="2.1" fill="#3d3d3d" stroke="#080808" stroke-width="0.4"/>
<circle cx="228.20" cy="59.50" r="2.1" fill="#3d3d3d" stroke="#080808" stroke-width="0.4"/>
<circle cx="218.00" cy="61.80" r="2.1" fill="#3d3d3d" stroke="#080808" stroke-width="0.4"/>
<circle cx="224.90" cy="61.80" r="2.1" fill="#3d3d3d" stroke="#080808" stroke-width="0.4"/>
<circle cx="221.30" cy="64.10" r="2.1" fill="#3d3d3d" stroke="#080808" stroke-width="0.4"/>
<circle cx="228.20" cy="64.10" r="2.1" fill="#3d3d3d" stroke="#080808" stroke-width="0.4"/>
<circle cx="218.00" cy="66.40" r="2.1" fill="#3d3d3d" stroke="#080808" stroke-width="0.4"/>
<circle cx="224.90" cy="66.40" r="2.1" fill="#3d3d3d" stroke="#080808" stroke-width="0.4"/>
<circle cx="221.30" cy="68.70" r="2.1" fill="#3d3d3d" stroke="#080808" stroke-width="0.4"/>
<circle cx="228.20" cy="68.70" r="2.1" fill="#3d3d3d" stroke="#080808" stroke-width="0.4"/>
<circle cx="218.00" cy="71.00" r="2.1" fill="#3d3d3d" stroke="#080808" stroke-width="0.4"/>
<circle cx="224.90" cy="71.00" r="2.1" fill="#3d3d3d" stroke="#080808" stroke-width="0.4"/>
<circle cx="221.30" cy="73.30" r="2.1" fill="#3d3d3d" stroke="#080808" stroke-width="0.4"/>
<circle cx="228.20" cy="73.30" r="2.1" fill="#3d3d3d" stroke="#080808" stroke-width="0.4"/>
<circle cx="218.00" cy="75.60" r="2.1" fill="#3d3d3d" stroke="#080808" stroke-width="0.4"/>
<circle cx="224.90" cy="75.60" r="2.1" fill="#3d3d3d" stroke="#080808" stroke-width="0.4"/>
<circle cx="221.30" cy="77.90" r="2.1" fill="#3d3d3d" stroke="#080808" stroke-width="0.4"/>
<circle cx="228.20" cy="77.90" r="2.1" fill="#3d3d3d" stroke="#080808" stroke-width="0.4"/>
<circle cx="218.00" cy="80.20" r="2.1" fill="#3d3d3d" stroke="#080808" stroke-width="0.4"/>
<circle cx="224.90" cy="80.20" r="2.1" fill="#3d3d3d" stroke="#080808" stroke-width="0.4"/>
<circle cx="221.30" cy="82.50" r="2.1" fill="#3d3d3d" stroke="#080808" stroke-width="0.4"/>
<circle cx="228.20" cy="82.50" r="2.1" fill="#3d3d3d" stroke="#080808" stroke-width="0.4"/>
<circle cx="218.00" cy="84.80" r="2.1" fill="#3d3d3d" stroke="#080808" stroke-width="0.4"/>
<circle cx="224.90" cy="84.80" r="2.1" fill="#3d3d3d" stroke="#080808" stroke-width="0.4"/>
<circle cx="221.30" cy="87.10" r="2.1" fill="#3d3d3d" stroke="#080808" stroke-width="0.4"/>
<circle cx="228.20" cy="87.10" r="2.1" fill="#3d3d3d" stroke="#080808" stroke-width="0.4"/>
<circle cx="218.00" cy="89.40" r="2.1" fill="#3d3d3d" stroke="#080808" stroke-width="0.4"/>
<circle cx="224.90" cy="89.40" r="2.1" fill="#3d3d3d" stroke="#080808" stroke-width="0.4"/>
<circle cx="221.30" cy="91.70" r="2.1" fill="#3d3d3d" stroke="#080808" stroke-width="0.4"/>
<circle cx="228.20" cy="91.70" r="2.1" fill="#3d3d3d" stroke="#080808" stroke-width="0.4"/>
<circle cx="218.00" cy="94.00" r="2.1" fill="#3d3d3d" stroke="#080808" stroke-width="0.4"/>
<circle cx="224.90" cy="94.00" r="2.1" fill="#3d3d3d" stroke="#080808" stroke-width="0.4"/>
<circle cx="221.30" cy="96.30" r="2.1" fill="#3d3d3d" stroke="#080808" stroke-width="0.4"/>
<circle cx="228.20" cy="96.30" r="2.1" fill="#3d3d3d" stroke="#080808" stroke-width="0.4"/>
<circle cx="218.00" cy="98.60" r="2.1" fill="#3d3d3d" stroke="#080808" stroke-width="0.4"/>
<circle cx="224.90" cy="98.60" r="2.1" fill="#3d3d3d" stroke="#080808" stroke-width="0.4"/>
<circle cx="221.30" cy="100.90" r="2.1" fill="#3d3d3d" stroke="#080808" stroke-width="0.4"/>
<circle cx="228.20" cy="100.90" r="2.1" fill="#3d3d3d" stroke="#080808" stroke-width="0.4"/>
<circle cx="218.00" cy="103.20" r="2.1" fill="#3d3d3d" stroke="#080808" stroke-width="0.4"/>
<circle cx="224.90" cy="103.20" r="2.1" fill="#3d3d3d" stroke="#080808" stroke-width="0.4"/>
<circle cx="221.30" cy="105.50" r="2.1" fill="#3d3d3d" stroke="#080808" stroke-width="0.4"/>
<circle cx="228.20" cy="105.50" r="2.1" fill="#3d3d3d" stroke="#080808" stroke-width="0.4"/>
<circle cx="218.00" cy="107.80" r="2.1" fill="#3d3d3d" stroke="#080808" stroke-width="0.4"/>
<circle cx="224.90" cy="107.80" r="2.1" fill="#3d3d3d" stroke="#080808" stroke-width="0.4"/>
<circle cx="221.30" cy="110.10" r="2.1" fill="#3d3d3d" stroke="#080808" stroke-width="0.4"/>
<circle cx="228.20" cy="110.10" r="2.1" fill="#3d3d3d" stroke="#080808" stroke-width="0.4"/>
<circle cx="218.00" cy="112.40" r="2.1" fill="#3d3d3d" stroke="#080808" stroke-width="0.4"/>
<circle cx="224.90" cy="112.40" r="2.1" fill="#3d3d3d" stroke="#080808" stroke-width="0.4"/>
<circle cx="221.30" cy="114.70" r="2.1" fill="#3d3d3d" stroke="#080808" stroke-width="0.4"/>
<circle cx="228.20" cy="114.70" r="2.1" fill="#3d3d3d" stroke="#080808" stroke-width="0.4"/>
<circle cx="218.00" cy="117.00" r="2.1" fill="#3d3d3d" stroke="#080808" stroke-width="0.4"/>
<circle cx="224.90" cy="117.00" r="2.1" fill="#3d3d3d" stroke="#080808" stroke-width="0.4"/>
<circle cx="221.30" cy="119.30" r="2.1" fill="#3d3d3d" stroke="#080808" stroke-width="0.4"/>
<circle cx="228.20" cy="119.30" r="2.1" fill="#3d3d3d" stroke="#080808" stroke-width="0.4"/>
<circle cx="218.00" cy="121.60" r="2.1" fill="#3d3d3d" stroke="#080808" stroke-width="0.4"/>
<circle cx="224.90" cy="121.60" r="2.1" fill="#3d3d3d" stroke="#080808" stroke-width="0.4"/>
<circle cx="221.30" cy="123.90" r="2.1" fill="#3d3d3d" stroke="#080808" stroke-width="0.4"/>
<circle cx="228.20" cy="123.90" r="2.1" fill="#3d3d3d" stroke="#080808" stroke-width="0.4"/>
<circle cx="218.00" cy="126.20" r="2.1" fill="#3d3d3d" stroke="#080808" stroke-width="0.4"/>
<circle cx="224.90" cy="126.20" r="2.1" fill="#3d3d3d" stroke="#080808" stroke-width="0.4"/>
<circle cx="221.30" cy="128.50" r="2.1" fill="#3d3d3d" stroke="#080808" stroke-width="0.4"/>
<circle cx="228.20" cy="128.50" r="2.1" fill="#3d3d3d" stroke="#080808" stroke-width="0.4"/>
<circle cx="218.00" cy="130.80" r="2.1" fill="#3d3d3d" stroke="#080808" stroke-width="0.4"/>
<circle cx="224.90" cy="130.80" r="2.1" fill="#3d3d3d" stroke="#080808" stroke-width="0.4"/>
<circle cx="221.30" cy="133.10" r="2.1" fill="#3d3d3d" stroke="#080808" stroke-width="0.4"/>
<circle cx="228.20" cy="133.10" r="2.1" fill="#3d3d3d" stroke="#080808" stroke-width="0.4"/>
<circle cx="218.00" cy="135.40" r="2.1" fill="#3d3d3d" stroke="#080808" stroke-width="0.4"/>
<circle cx="224.90" cy="135.40" r="2.1" fill="#3d3d3d" stroke="#080808" stroke-width="0.4"/>
<circle cx="221.30" cy="137.70" r="2.1" fill="#3d3d3d" stroke="#080808" stroke-width="0.4"/>
<circle cx="228.20" cy="137.70" r="2.1" fill="#3d3d3d" stroke="#080808" stroke-width="0.4"/>
<circle cx="218.00" cy="140.00" r="2.1" fill="#3d3d3d" stroke="#080808" stroke-width="0.4"/>
<circle cx="224.90" cy="140.00" r="2.1" fill="#3d3d3d" stroke="#080808" stroke-width="0.4"/>
<circle cx="221.30" cy="142.30" r="2.1" fill="#3d3d3d" stroke="#080808" stroke-width="0.4"/>
<circle cx="228.20" cy="142.30" r="2.1" fill="#3d3d3d" stroke="#080808" stroke-width="0.4"/>
<circle cx="218.00" cy="144.60" r="2.1" fill="#3d3d3d" stroke="#080808" stroke-width="0.4"/>
<circle cx="224.90" cy="144.60" r="2.1" fill="#3d3d3d" stroke="#080808" stroke-width="0.4"/>
<circle cx="221.30" cy="146.90" r="2.1" fill="#3d3d3d" stroke="#080808" stroke-width="0.4"/>
<circle cx="228.20" cy="146.90" r="2.1" fill="#3d3d3d" stroke="#080808" stroke-width="0.4"/>
<circle cx="218.00" cy="149.20" r="2.1" fill="#3d3d3d" stroke="#080808" stroke-width="0.4"/>
<circle cx="224.90" cy="149.20" r="2.1" fill="#3d3d3d" stroke="#080808" stroke-width="0.4"/>
<circle cx="221.30" cy="151.50" r="2.1" fill="#3d3d3d" stroke="#080808" stroke-width="0.4"/>
<circle cx="228.20" cy="151.50" r="2.1" fill="#3d3d3d" stroke="#080808" stroke-width="0.4"/>
<circle cx="218.00" cy="153.80" r="2.1" fill="#3d3d3d" stroke="#080808" stroke-width="0.4"/>
<circle cx="224.90" cy="153.80" r="2.1" fill="#3d3d3d" stroke="#080808" stroke-width="0.4"/>
<circle cx="221.30" cy="156.10" r="2.1" fill="#3d3d3d" stroke="#080808" stroke-width="0.4"/>
<circle cx="228.20" cy="156.10" r="2.1" fill="#3d3d3d" stroke="#080808" stroke-width="0.4"/>
<circle cx="218.00" cy="158.40" r="2.1" fill="#3d3d3d" stroke="#080808" stroke-width="0.4"/>
<circle cx="224.90" cy="158.40" r="2.1" fill="#3d3d3d" stroke="#080808" stroke-width="0.4"/>
<circle cx="221.30" cy="160.70" r="2.1" fill="#3d3d3d" stroke="#080808" stroke-width="0.4"/>
<circle cx="228.20" cy="160.70" r="2.1" fill="#3d3d3d" stroke="#080808" stroke-width="0.4"/>
<circle cx="218.00" cy="163.00" r="2.1" fill="#3d3d3d" stroke="#080808" stroke-width="0.4"/>
<circle cx="224.90" cy="163.00" r="2.1" fill="#3d3d3d" stroke="#080808" stroke-width="0.4"/>
<circle cx="221.30" cy="165.30" r="2.1" fill="#3d3d3d" stroke="#080808" stroke-width="0.4"/>
<circle cx="228.20" cy="165.30" r="2.1" fill="#3d3d3d" stroke="#080808" stroke-width="0.4"/>
<circle cx="218.00" cy="167.60" r="2.1" fill="#3d3d3d" stroke="#080808" stroke-width="0.4"/>
<circle cx="224.90" cy="167.60" r="2.1" fill="#3d3d3d" stroke="#080808" stroke-width="0.4"/>
<circle cx="221.30" cy="169.90" r="2.1" fill="#3d3d3d" stroke="#080808" stroke-width="0.4"/>
<circle cx="228.20" cy="169.90" r="2.1" fill="#3d3d3d" stroke="#080808" stroke-width="0.4"/>
<circle cx="218.00" cy="172.20" r="2.1" fill="#3d3d3d" stroke="#080808" stroke-width="0.4"/>
<circle cx="224.90" cy="172.20" r="2.1" fill="#3d3d3d" stroke="#080808" stroke-width="0.4"/>
<circle cx="221.30" cy="174.50" r="2.1" fill="#3d3d3d" stroke="#080808" stroke-width="0.4"/>
<circle cx="228.20" cy="174.50" r="2.1" fill="#3d3d3d" stroke="#080808" stroke-width="0.4"/>
<circle cx="218.00" cy="176.80" r="2.1" fill="#3d3d3d" stroke="#080808" stroke-width="0.4"/>
<circle cx="224.90" cy="176.80" r="2.1" fill="#3d3d3d" stroke="#080808" stroke-width="0.4"/>
<circle cx="221.30" cy="179.10" r="2.1" fill="#3d3d3d" stroke="#080808" stroke-width="0.4"/>
<circle cx="228.20" cy="179.10" r="2.1" fill="#3d3d3d" stroke="#080808" stroke-width="0.4"/>
<circle cx="218.00" cy="181.40" r="2.1" fill="#3d3d3d" stroke="#080808" stroke-width="0.4"/>
<circle cx="224.90" cy="181.40" r="2.1" fill="#3d3d3d" stroke="#080808" stroke-width="0.4"/>
<circle cx="221.30" cy="183.70" r="2.1" fill="#3d3d3d" stroke="#080808" stroke-width="0.4"/>
<circle cx="228.20" cy="183.70" r="2.1" fill="#3d3d3d" stroke="#080808" stroke-width="0.4"/>
<circle cx="218.00" cy="186.00" r="2.1" fill="#3d3d3d" stroke="#080808" stroke-width="0.4"/>
<circle cx="224.90" cy="186.00" r="2.1" fill="#3d3d3d" stroke="#080808" stroke-width="0.4"/>
<circle cx="221.30" cy="188.30" r="2.1" fill="#3d3d3d" stroke="#080808" stroke-width="0.4"/>
<circle cx="228.20" cy="188.30" r="2.1" fill="#3d3d3d" stroke="#080808" stroke-width="0.4"/>
<circle cx="218.00" cy="190.60" r="2.1" fill="#3d3d3d" stroke="#080808" stroke-width="0.4"/>
<circle cx="224.90" cy="190.60" r="2.1" fill="#3d3d3d" stroke="#080808" stroke-width="0.4"/>
<circle cx="221.30" cy="192.90" r="2.1" fill="#3d3d3d" stroke="#080808" stroke-width="0.4"/>
<circle cx="228.20" cy="192.90" r="2.1" fill="#3d3d3d" stroke="#080808" stroke-width="0.4"/>
<circle cx="218.00" cy="195.20" r="2.1" fill="#3d3d3d" stroke="#080808" stroke-width="0.4"/>
<circle cx="224.90" cy="195.20" r="2.1" fill="#3d3d3d" stroke="#080808" stroke-width="0.4"/>
<circle cx="221.30" cy="197.50" r="2.1" fill="#3d3d3d" stroke="#080808" stroke-width="0.4"/>
<circle cx="228.20" cy="197.50" r="2.1" fill="#3d3d3d" stroke="#080808" stroke-width="0.4"/>
<circle cx="218.00" cy="199.80" r="2.1" fill="#3d3d3d" stroke="#080808" stroke-width="0.4"/>
<circle cx="224.90" cy="199.80" r="2.1" fill="#3d3d3d" stroke="#080808" stroke-width="0.4"/>
<circle cx="221.30" cy="202.10" r="2.1" fill="#3d3d3d" stroke="#080808" stroke-width="0.4"/>
<circle cx="228.20" cy="202.10" r="2.1" fill="#3d3d3d" stroke="#080808" stroke-width="0.4"/>
<text x="9.40" y="102.60" font-size="7.1" text-anchor="middle" fill="#231f20" stroke="#231f20" stroke-width="0.15" textLength="77.60" lengthAdjust="spacingAndGlyphs" transform="rotate(-90 9.40 102.60)">Li metal negative electrode</text>
<text x="238.00" y="103.10" font-size="7.1" text-anchor="middle" fill="#231f20" stroke="#231f20" stroke-width="0.15" textLength="76.60" lengthAdjust="spacingAndGlyphs" transform="rotate(90 238.00 103.10)">NMC811 positive electrode</text>
<rect x="34.10" y="9.50" width="30.60" height="12.10" fill="#fff" stroke="#a9d18e" stroke-width="0.6" stroke-dasharray="1.2,0.8"/>
<text x="36.60" y="17.90" font-size="7.2" fill="#231f20" stroke="#231f20" stroke-width="0.15" textLength="25.80" lengthAdjust="spacingAndGlyphs">Active Li</text>
<rect x="19.60" y="72.80" width="28.50" height="10.70" fill="#fff" stroke="#a9d18e" stroke-width="0.6" stroke-dasharray="1.2,0.8"/>
<text x="21.00" y="80.40" font-size="7.2" fill="#231f20" stroke="#231f20" stroke-width="0.15" textLength="26.20" lengthAdjust="spacingAndGlyphs">Active Li</text>
<rect x="27.90" y="181.50" width="29.50" height="10.80" fill="#fff" stroke="#a9d18e" stroke-width="0.6" stroke-dasharray="1.2,0.8"/>
<text x="29.90" y="189.00" font-size="7.2" fill="#231f20" stroke="#231f20" stroke-width="0.15" textLength="26.60" lengthAdjust="spacingAndGlyphs">Active Li</text>
<path d="M38.2,21.6 C42,24 44.5,29 43.2,35.5" stroke="#444" stroke-width="0.45" fill="none"/>
<path d="M36.6,83.5 C40,86 41.8,90 41.2,95.3" stroke="#444" stroke-width="0.45" fill="none"/>
<path d="M37.00,181.30 C38.50,179.33 40.17,177.77 41.50,175.40 C42.83,173.03 44.25,169.67 45.00,167.10 C45.75,164.53 46.03,161.93 46.00,160.00 C45.97,158.07 45.20,157.00 44.80,155.50" stroke="#333" stroke-width="0.5" fill="none"/>
<line x1="37.40" y1="194.80" x2="40.30" y2="193.00" stroke="#555" stroke-width="0.5"/>
<path d="M211.60,53.50 C209.57,48.33 208.10,42.42 205.50,38.00 C202.90,33.58 199.58,30.07 196.00,27.00 C192.42,23.93 189.17,21.77 184.00,19.60 C178.83,17.43 172.33,15.45 165.00,14.00 C157.67,12.55 148.33,11.47 140.00,10.90 C131.67,10.33 123.60,10.23 115.00,10.60 C106.40,10.97 95.90,11.78 88.40,13.10 C80.90,14.42 74.87,16.55 70.00,18.50 C65.13,20.45 62.87,22.13 59.20,24.80 C55.53,27.47 50.95,31.47 48.00,34.50 C45.05,37.53 43.07,40.70 41.50,43.00 C39.93,45.30 39.57,46.53 38.60,48.30" stroke="#231f20" stroke-width="0.7" fill="none"/>
<path d="M37.40,51.50 L36.84,48.04 L39.62,48.78 Z" fill="#231f20"/>
<text x="100.50" y="19.50" font-size="7.4" fill="#231f20" stroke="#231f20" stroke-width="0.15" textLength="54.90" lengthAdjust="spacingAndGlyphs">Negative–positive</text>
<text x="95.60" y="26.60" font-size="7.4" fill="#231f20" stroke="#231f20" stroke-width="0.15" textLength="64.40" lengthAdjust="spacingAndGlyphs">electrodes cross-talk</text>
<text x="32.60" y="56.90" font-size="6.8" fill="#cf2a30" textLength="52.90" lengthAdjust="spacingAndGlyphs">Li<tspan font-size="4.2" dy="1.4">2</tspan><tspan dy="-1.4">CO</tspan><tspan font-size="4.2" dy="1.4">3</tspan><tspan dy="-1.4">, R-COOLi,</tspan></text>
<text x="32.60" y="67.90" font-size="6.8" fill="#cf2a30" textLength="21.50" lengthAdjust="spacingAndGlyphs">H<tspan font-size="4.2" dy="1.4">2</tspan><tspan dy="-1.4">, LiH</tspan></text>
<text x="42.60" y="108.90" font-size="6.4" fill="#cf2a30" textLength="50.40" lengthAdjust="spacingAndGlyphs">LiF, Li<tspan font-size="4.2" dy="1.4">2</tspan><tspan dy="-1.4">S, Li</tspan><tspan font-size="4.2" dy="1.4">2</tspan><tspan dy="-1.4">O, Li</tspan><tspan font-size="4.2" dy="1.4">3</tspan><tspan dy="-1.4">N,</tspan></text>
<text x="42.60" y="119.30" font-size="6.4" fill="#cf2a30" textLength="27.20" lengthAdjust="spacingAndGlyphs">Li<tspan font-size="4.2" dy="1.4">3</tspan><tspan dy="-1.4">NS</tspan><tspan font-size="4.2" dy="1.4">2</tspan><tspan dy="-1.4">O</tspan><tspan font-size="4.2" dy="1.4">4</tspan><tspan dy="-1.4">...</tspan></text>
<text x="42.60" y="131.40" font-size="6.4" fill="#cf2a30" textLength="40.30" lengthAdjust="spacingAndGlyphs">R-OLi, R-Li, LiH</text>
<text x="201.40" y="60.70" font-size="6.8" fill="#cf2a30" textLength="13.00" lengthAdjust="spacingAndGlyphs">H<tspan font-size="4.2" dy="1.4">2</tspan><tspan dy="-1.4">O</tspan></text>
<text x="201.40" y="72.00" font-size="6.8" fill="#cf2a30" textLength="13.00" lengthAdjust="spacingAndGlyphs">CO<tspan font-size="4.2" dy="1.4">2</tspan></text>
<text x="188.90" y="124.40" font-size="6.8" fill="#cf2a30" textLength="25.60" lengthAdjust="spacingAndGlyphs">HCOO-R</text>
<line x1="211.30" y1="113.80" x2="211.30" y2="79.00" stroke="#231f20" stroke-width="0.6"/>
<path d="M211.30,75.80 L212.65,78.80 L209.95,78.80 Z" fill="#231f20"/>
<path d="M37.1,117.3 C39,100 44,88 52,76 C62,62 78,57 96,56.3" stroke="#231f20" stroke-width="0.7" fill="none"/>
<path d="M99.60,56.20 L96.40,57.64 L96.40,54.76 Z" fill="#231f20"/>
<path d="M100.50,188.90 C96.83,188.53 94.47,188.78 89.50,187.80 C84.53,186.82 76.20,185.17 70.70,183.00 C65.20,180.83 60.45,177.63 56.50,174.80 C52.55,171.97 49.50,169.13 47.00,166.00 C44.50,162.87 42.90,159.50 41.50,156.00 C40.10,152.50 39.25,149.08 38.60,145.00 C37.95,140.92 37.93,136.00 37.60,131.50" stroke="#231f20" stroke-width="0.7" fill="none"/>
<path d="M37.40,127.50 L38.84,130.70 L35.96,130.70 Z" fill="#231f20"/>
<path d="M98,153 C88,151 82,147 80.6,139" stroke="#231f20" stroke-width="0.7" fill="none"/>
<path d="M80.30,135.20 L81.75,138.15 L79.06,138.25 Z" fill="#231f20"/>
<text x="98.80" y="157.70" font-size="7.2" fill="#231f20" stroke="#231f20" stroke-width="0.15">Trace H<tspan font-size="4.6" dy="1.5">2</tspan><tspan dy="-1.5">O</tspan></text>
<path d="M54.00,181.30 C56.90,178.93 59.67,176.95 62.70,174.20 C65.73,171.45 69.55,167.95 72.20,164.80 C74.85,161.65 77.23,158.25 78.60,155.30 C79.97,152.35 80.08,149.48 80.40,147.10 C80.72,144.72 80.47,143.03 80.50,141.00" stroke="#333" stroke-width="0.55" fill="none"/>
<path d="M103.10,189.90 L108.50,186.80" stroke="#333" stroke-width="0.6" fill="none"/>
<path d="M113.80,186.80 L120.70,189.90 L129.40,185.30 L136.00,188.50" stroke="#333" stroke-width="0.6" fill="none"/>
<path d="M141.20,188.50 L147.40,185.20" stroke="#333" stroke-width="0.6" fill="none"/>
<text x="111.20" y="189.20" font-size="6.6" text-anchor="middle" fill="#231f20" stroke="#231f20" stroke-width="0.15">O</text>
<text x="138.60" y="192.70" font-size="6.6" text-anchor="middle" fill="#231f20" stroke="#231f20" stroke-width="0.15">O</text>
<text x="128.30" y="199.30" font-size="7.2" text-anchor="middle" fill="#231f20" stroke="#231f20" stroke-width="0.15" textLength="35.50" lengthAdjust="spacingAndGlyphs">Moderately</text>
<text x="128.30" y="206.50" font-size="7.2" text-anchor="middle" fill="#231f20" stroke="#231f20" stroke-width="0.15" textLength="42.00" lengthAdjust="spacingAndGlyphs">decomposing</text>
<path d="M149,188.3 C175,186 196,168 205,150 C209,141 211,134 211.5,127" stroke="#231f20" stroke-width="0.7" fill="none"/>
<path d="M209.3,192.7 C200,183 197,172 201,162" stroke="#555" stroke-width="0.45" fill="none"/>
<rect x="158.30" y="192.70" width="56.90" height="10.90" fill="#fff" stroke="#f08c8c" stroke-width="0.6" stroke-dasharray="1.2,0.8"/>
<text x="159.80" y="199.90" font-size="7.2" fill="#231f20" stroke="#231f20" stroke-width="0.15" textLength="54.00" lengthAdjust="spacingAndGlyphs">O at NMC surface</text>
<text x="117.70" y="46.20" font-size="7.0" fill="#231f20" stroke="#231f20" stroke-width="0.15">Li</text>
<text x="124.20" y="42.20" font-size="4.6" fill="#231f20" stroke="#231f20" stroke-width="0.1">+</text>
<text x="123.60" y="53.20" font-size="7.0" text-anchor="middle" fill="#231f20" stroke="#231f20" stroke-width="0.15">N</text>
<text x="127.40" y="49.00" font-size="4.6" text-anchor="middle" fill="#231f20" stroke="#231f20" stroke-width="0.1">−</text>
<text x="109.60" y="50.00" font-size="7.0" text-anchor="middle" fill="#231f20" stroke="#231f20" stroke-width="0.15">O</text>
<text x="115.00" y="58.60" font-size="7.0" text-anchor="middle" fill="#231f20" stroke="#231f20" stroke-width="0.15">S</text>
<text x="105.80" y="63.00" font-size="7.0" text-anchor="middle" fill="#231f20" stroke="#231f20" stroke-width="0.15">F</text>
<text x="119.60" y="67.30" font-size="7.0" text-anchor="middle" fill="#231f20" stroke="#231f20" stroke-width="0.15">O</text>
<text x="132.80" y="58.60" font-size="7.0" text-anchor="middle" fill="#231f20" stroke="#231f20" stroke-width="0.15">S</text>
<text x="137.50" y="50.00" font-size="7.0" text-anchor="middle" fill="#231f20" stroke="#231f20" stroke-width="0.15">O</text>
<text x="141.50" y="63.00" font-size="7.0" text-anchor="middle" fill="#231f20" stroke="#231f20" stroke-width="0.15">F</text>
<text x="127.40" y="67.30" font-size="7.0" text-anchor="middle" fill="#231f20" stroke="#231f20" stroke-width="0.15">O</text>
<line x1="116.80" y1="53.30" x2="120.90" y2="51.40" stroke="#333" stroke-width="0.55"/>
<line x1="126.20" y1="51.40" x2="130.50" y2="53.30" stroke="#333" stroke-width="0.55"/>
<line x1="108.50" y1="60.30" x2="112.50" y2="58.30" stroke="#333" stroke-width="0.55"/>
<line x1="117.60" y1="57.80" x2="121.50" y2="56.80" stroke="#333" stroke-width="0.55"/>
<line x1="135.30" y1="57.80" x2="139.50" y2="60.30" stroke="#333" stroke-width="0.55"/>
<line x1="111.20" y1="51.20" x2="113.20" y2="53.90" stroke="#333" stroke-width="0.5"/>
<line x1="112.20" y1="50.70" x2="114.20" y2="53.40" stroke="#333" stroke-width="0.5"/>
<line x1="116.70" y1="59.70" x2="118.20" y2="62.30" stroke="#333" stroke-width="0.5"/>
<line x1="117.70" y1="59.20" x2="119.20" y2="61.80" stroke="#333" stroke-width="0.5"/>
<line x1="135.80" y1="51.20" x2="134.00" y2="53.90" stroke="#333" stroke-width="0.5"/>
<line x1="136.80" y1="50.70" x2="135.00" y2="53.40" stroke="#333" stroke-width="0.5"/>
<line x1="131.30" y1="59.70" x2="129.40" y2="62.30" stroke="#333" stroke-width="0.5"/>
<line x1="132.30" y1="59.20" x2="130.40" y2="61.80" stroke="#333" stroke-width="0.5"/>
<text x="124.70" y="75.90" font-size="6.4" text-anchor="middle" fill="#231f20" stroke="#231f20" stroke-width="0.15" textLength="29.00" lengthAdjust="spacingAndGlyphs">Vigorously</text>
<text x="124.70" y="82.40" font-size="6.4" text-anchor="middle" fill="#231f20" stroke="#231f20" stroke-width="0.15" textLength="36.70" lengthAdjust="spacingAndGlyphs">decomposing</text>
<line x1="120.40" y1="119.20" x2="129.70" y2="113.60" stroke="#333" stroke-width="0.6"/>
<line x1="120.40" y1="119.20" x2="113.00" y2="115.50" stroke="#333" stroke-width="0.6"/>
<line x1="120.40" y1="119.20" x2="120.20" y2="126.00" stroke="#333" stroke-width="0.6"/>
<line x1="129.70" y1="113.60" x2="125.30" y2="108.00" stroke="#333" stroke-width="0.6"/>
<line x1="129.70" y1="113.60" x2="133.50" y2="108.00" stroke="#333" stroke-width="0.6"/>
<line x1="129.70" y1="113.60" x2="135.50" y2="117.30" stroke="#333" stroke-width="0.6"/>
<line x1="140.20" y1="117.30" x2="147.10" y2="113.60" stroke="#333" stroke-width="0.6"/>
<line x1="147.10" y1="113.60" x2="156.40" y2="119.20" stroke="#333" stroke-width="0.6"/>
<line x1="156.40" y1="119.20" x2="152.50" y2="124.50" stroke="#333" stroke-width="0.6"/>
<line x1="156.40" y1="119.20" x2="160.30" y2="124.50" stroke="#333" stroke-width="0.6"/>
<line x1="156.40" y1="119.20" x2="165.70" y2="113.60" stroke="#333" stroke-width="0.6"/>
<line x1="165.70" y1="113.60" x2="165.70" y2="106.50" stroke="#333" stroke-width="0.6"/>
<line x1="165.70" y1="113.60" x2="171.50" y2="117.00" stroke="#333" stroke-width="0.6"/>
<text x="110.50" y="116.70" font-size="7.0" text-anchor="middle" fill="#231f20" stroke="#231f20" stroke-width="0.15">F</text>
<text x="119.80" y="132.20" font-size="7.0" text-anchor="middle" fill="#231f20" stroke="#231f20" stroke-width="0.15">F</text>
<text x="123.80" y="108.00" font-size="7.0" text-anchor="middle" fill="#231f20" stroke="#231f20" stroke-width="0.15">F</text>
<text x="134.50" y="108.00" font-size="7.0" text-anchor="middle" fill="#231f20" stroke="#231f20" stroke-width="0.15">F</text>
<text x="137.80" y="122.00" font-size="7.0" text-anchor="middle" fill="#231f20" stroke="#231f20" stroke-width="0.15">O</text>
<text x="150.80" y="130.30" font-size="7.0" text-anchor="middle" fill="#231f20" stroke="#231f20" stroke-width="0.15">F</text>
<text x="161.70" y="130.30" font-size="7.0" text-anchor="middle" fill="#231f20" stroke="#231f20" stroke-width="0.15">F</text>
<text x="165.70" y="105.50" font-size="7.0" text-anchor="middle" fill="#231f20" stroke="#231f20" stroke-width="0.15">F</text>
<text x="173.80" y="121.70" font-size="7.0" text-anchor="middle" fill="#231f20" stroke="#231f20" stroke-width="0.15">F</text>
<text x="119.20" y="138.40" font-size="7.2" fill="#231f20" stroke="#231f20" stroke-width="0.15" textLength="52.70" lengthAdjust="spacingAndGlyphs">Kinetically stable</text>
<rect x="13.00" y="212.60" width="11.00" height="5.30" fill="#f2a500" stroke="#333" stroke-width="0.5"/>
<text x="28.00" y="217.50" font-size="7.2" fill="#231f20" stroke="#231f20" stroke-width="0.15" textLength="62.80" lengthAdjust="spacingAndGlyphs">Cu current collector</text>
<rect x="13.30" y="222.90" width="10.50" height="6.20" fill="#fff" stroke="#111" stroke-width="0.9" rx="1.3"/>
<text x="28.00" y="228.40" font-size="7.2" fill="#231f20" stroke="#231f20" stroke-width="0.15" textLength="12.90" lengthAdjust="spacingAndGlyphs">cSEI</text>
<rect x="96.10" y="213.20" width="10.40" height="4.20" fill="#8b8b8b" stroke="#333" stroke-width="0.5"/>
<text x="111.00" y="217.50" font-size="7.2" fill="#231f20" stroke="#231f20" stroke-width="0.15" textLength="60.00" lengthAdjust="spacingAndGlyphs">Al current collector</text>
<rect x="180.00" y="212.80" width="10.40" height="5.00" fill="#9a9a9a"/>
<text x="194.60" y="217.50" font-size="7.2" fill="#231f20" stroke="#231f20" stroke-width="0.15" textLength="24.40" lengthAdjust="spacingAndGlyphs">Li metal</text>
<circle cx="101.60" cy="226.00" r="1.3" fill="#111"/>
<text x="111.00" y="228.40" font-size="7.2" fill="#231f20" stroke="#231f20" stroke-width="0.15" textLength="12.50" lengthAdjust="spacingAndGlyphs">rSEI</text>
<circle cx="185.50" cy="226.00" r="2.4" fill="#3a3a3a" stroke="#111" stroke-width="0.4"/>
<text x="194.60" y="228.40" font-size="7.2" fill="#231f20" stroke="#231f20" stroke-width="0.15" textLength="49.40" lengthAdjust="spacingAndGlyphs">NMC811 particle</text>
</svg></body></html>
